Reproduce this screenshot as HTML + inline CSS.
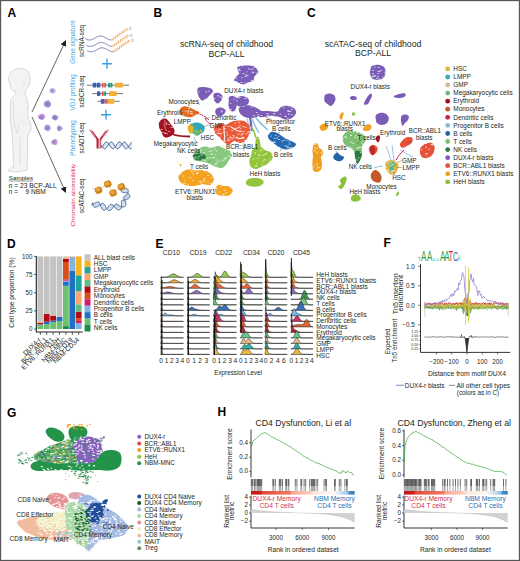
<!DOCTYPE html>
<html><head><meta charset="utf-8"><style>
html,body{margin:0;padding:0;background:#fff;}
svg{display:block;font-family:"Liberation Sans", sans-serif;}
</style></head><body>
<svg width="520" height="561" viewBox="0 0 520 561">
<rect x="0" y="0" width="520" height="561" fill="#fff"/>
<text x="7.5" y="16.5" font-size="12" text-anchor="start" fill="#000" font-weight="bold">A</text>
<path d="M20,68.5 C26.5,68.5 30.2,72.5 30.2,79 C30.2,84 28.5,88 25.5,90.5 L25.2,95.5 C27.5,97.5 28.3,102 28,108 C27.8,113 27.6,117 28.2,119 C31,121 31.8,127 30.5,131 C29.5,134 28,135.5 27.6,137 C27.8,146 27.6,156 27.2,165 L27.4,169.5 C24,172 13,172.3 8.6,171.2 C8.4,169.5 10.5,168 13.5,166.5 C13,157 12.8,146 12.6,137 C11.6,131 11,126 10.6,121 C10.2,114 10,106 10.6,101 C11.5,98 14,96 15.5,94 L15.8,91.8 C13,91.5 11.5,90 11,88 L10.2,86.5 L10.8,85 L9.5,84.2 L10.2,83 L8.6,81 C8.5,78 9,75 10.5,73 C12.5,70 16,68.5 20,68.5 Z" fill="#f3f3f3" stroke="#bdbdbd" stroke-width="0.55"/>
<path d="M13.5,101 C13,108 13.3,116 14.5,124 C15,128 16,131 17.5,133 M17.5,133 C18,131 18.5,128 18.3,124 M20,137.5 L20,165 M22.5,82 C24,81 25,83 24,85.5 C23.5,86.5 22.5,86 22.5,85 M19.5,119 C22,122 25,124 28.5,124" fill="none" stroke="#cacaca" stroke-width="0.45"/>
<defs><marker id="ah" markerWidth="6" markerHeight="6" refX="5" refY="3" orient="auto" markerUnits="userSpaceOnUse"><path d="M0,0 L6,3 L0,6 Z" fill="#231f20"/></marker></defs>
<path d="M32,112 L65.5,41" stroke="#231f20" stroke-width="0.7" marker-end="url(#ah)"/>
<path d="M32,117 L65.5,192" stroke="#231f20" stroke-width="0.7" marker-end="url(#ah)"/>
<path d="M55.74,90.60 C55.78,91.24 55.51,92.18 55.06,92.64 C54.61,93.11 53.71,93.29 53.02,93.39 C52.32,93.49 51.47,93.54 50.89,93.25 C50.31,92.95 49.77,92.22 49.56,91.62 C49.35,91.01 49.35,90.15 49.61,89.60 C49.88,89.06 50.57,88.62 51.13,88.34 C51.69,88.07 52.39,87.87 52.99,87.94 C53.60,88.02 54.31,88.35 54.77,88.79 C55.22,89.24 55.69,89.96 55.74,90.60Z" fill="#c4b8e4" fill-opacity="1.0"/>
<circle cx="52.2" cy="90.8" r="1.65" fill="#7e6cc0" fill-opacity="0.55"/>
<path d="M51.20,104.00 C51.24,104.72 50.90,105.62 50.42,106.25 C49.93,106.87 49.07,107.61 48.29,107.74 C47.52,107.87 46.49,107.44 45.76,107.03 C45.03,106.62 44.24,105.99 43.93,105.27 C43.63,104.55 43.62,103.45 43.91,102.72 C44.21,102.00 44.98,101.29 45.71,100.89 C46.44,100.50 47.53,100.18 48.28,100.36 C49.02,100.53 49.70,101.33 50.18,101.94 C50.67,102.55 51.16,103.28 51.20,104.00Z" fill="#a597d8" fill-opacity="1.0"/>
<circle cx="47.300000000000004" cy="104.2" r="1.98" fill="#7e6cc0" fill-opacity="0.55"/>
<path d="M45.12,117.00 C45.05,117.71 44.46,118.45 43.95,118.95 C43.44,119.45 42.73,119.90 42.06,120.01 C41.39,120.12 40.55,119.92 39.92,119.61 C39.28,119.29 38.56,118.75 38.26,118.12 C37.96,117.49 37.82,116.43 38.10,115.83 C38.39,115.22 39.31,114.84 39.98,114.50 C40.64,114.16 41.36,113.75 42.10,113.78 C42.83,113.82 43.89,114.16 44.39,114.69 C44.90,115.23 45.20,116.29 45.12,117.00Z" fill="#c09ad8" fill-opacity="1.0"/>
<circle cx="41.2" cy="117.2" r="1.87" fill="#7e6cc0" fill-opacity="0.55"/>
<path d="M58.24,117.50 C58.28,118.08 57.73,118.83 57.28,119.32 C56.83,119.81 56.15,120.38 55.55,120.45 C54.94,120.51 54.27,120.01 53.67,119.70 C53.07,119.38 52.19,119.08 51.95,118.56 C51.71,118.03 51.98,117.14 52.23,116.54 C52.48,115.94 52.92,115.23 53.46,114.96 C54.00,114.70 54.87,114.81 55.47,114.95 C56.08,115.10 56.62,115.41 57.09,115.84 C57.55,116.26 58.21,116.92 58.24,117.50Z" fill="#9b8fd2" fill-opacity="1.0"/>
<circle cx="54.7" cy="117.7" r="1.65" fill="#7e6cc0" fill-opacity="0.55"/>
<path d="M50.80,127.80 C50.83,128.44 50.54,129.24 50.11,129.80 C49.68,130.35 48.91,131.01 48.22,131.13 C47.53,131.24 46.61,130.86 45.96,130.49 C45.32,130.13 44.62,129.56 44.34,128.93 C44.07,128.29 44.06,127.31 44.32,126.67 C44.58,126.02 45.27,125.39 45.92,125.04 C46.57,124.69 47.54,124.41 48.20,124.56 C48.86,124.72 49.46,125.43 49.90,125.97 C50.33,126.51 50.76,127.16 50.80,127.80Z" fill="#ab9fdc" fill-opacity="1.0"/>
<circle cx="47.300000000000004" cy="128.0" r="1.76" fill="#7e6cc0" fill-opacity="0.55"/>
<path d="M62.86,128.30 C62.88,128.87 62.19,129.58 61.72,130.07 C61.25,130.55 60.67,131.06 60.04,131.20 C59.41,131.34 58.42,131.25 57.92,130.91 C57.41,130.56 57.19,129.75 57.01,129.16 C56.84,128.57 56.70,127.94 56.87,127.39 C57.03,126.84 57.48,126.15 58.01,125.84 C58.53,125.54 59.41,125.42 60.01,125.55 C60.61,125.69 61.12,126.17 61.60,126.63 C62.07,127.09 62.84,127.73 62.86,128.30Z" fill="#b3a8de" fill-opacity="1.0"/>
<circle cx="59.2" cy="128.5" r="1.65" fill="#7e6cc0" fill-opacity="0.55"/>
<path d="M57.48,141.80 C57.50,142.50 57.58,143.39 57.18,143.94 C56.79,144.48 55.83,144.97 55.11,145.07 C54.38,145.17 53.51,144.87 52.85,144.52 C52.18,144.17 51.33,143.58 51.13,142.96 C50.94,142.35 51.37,141.42 51.69,140.83 C52.01,140.24 52.50,139.75 53.06,139.43 C53.62,139.11 54.37,138.86 55.04,138.91 C55.70,138.96 56.66,139.27 57.07,139.75 C57.48,140.23 57.46,141.10 57.48,141.80Z" fill="#c4a2d8" fill-opacity="1.0"/>
<circle cx="54.2" cy="142.0" r="1.76" fill="#7e6cc0" fill-opacity="0.55"/>
<text x="8.8" y="179.8" font-size="6.25" text-anchor="start" fill="#231f20">Samples</text>
<line x1="8.8" y1="181" x2="32.8" y2="181" stroke="#231f20" stroke-width="0.45"/>
<text x="8.8" y="187.5" font-size="6.6" text-anchor="start" fill="#231f20">n = 23 BCP-ALL</text>
<text x="8.8" y="193.7" font-size="6.6" text-anchor="start" fill="#231f20" xml:space="preserve">n =    9 NBM</text>
<text x="75.3" y="42" font-size="6.4" text-anchor="middle" fill="#3aa8e0" transform="rotate(-90 75.3 42)">Gene signature</text>
<text x="84" y="41" font-size="6.3" text-anchor="middle" fill="#231f20" transform="rotate(-90 84 41)">scRNA-seq</text>
<text x="75.3" y="92.3" font-size="6.4" text-anchor="middle" fill="#3aa8e0" transform="rotate(-90 75.3 92.3)">VDJ profiling</text>
<text x="84" y="91.5" font-size="6.3" text-anchor="middle" fill="#231f20" transform="rotate(-90 84 91.5)">scBCR-seq</text>
<text x="75.3" y="138" font-size="6.4" text-anchor="middle" fill="#3aa8e0" transform="rotate(-90 75.3 138)">Phenotyping</text>
<text x="84" y="138" font-size="6.3" text-anchor="middle" fill="#231f20" transform="rotate(-90 84 138)">scADT-seq</text>
<text x="75.3" y="195.2" font-size="6.15" text-anchor="middle" fill="#e02a55" transform="rotate(-90 75.3 195.2)">Chromatin accessibility</text>
<text x="84" y="195.8" font-size="6.3" text-anchor="middle" fill="#231f20" transform="rotate(-90 84 195.8)">scATAC-seq</text>
<polyline points="85.4,38.8 85.9,39.0 86.4,39.3 86.9,39.5 87.4,39.7 87.9,39.8 88.4,39.9 88.9,40.0 89.4,40.0 89.9,40.0 90.4,39.9 90.9,39.8 91.4,39.7 91.9,39.5 92.4,39.4 92.9,39.1 93.4,38.9 93.9,38.6 94.4,38.3 94.9,38.1 95.4,37.8 95.9,37.5 96.4,37.2 96.9,37.0 97.4,36.7 97.9,36.5 98.4,36.3 98.9,36.2 99.4,36.1 99.9,36.0 100.4,36.0 100.9,36.0 101.4,36.1 101.9,36.2 102.4,36.3 102.9,36.5 103.4,36.6 103.9,36.9 104.4,37.1 104.9,37.4 105.4,37.7 105.9,37.9 106.4,38.2 106.9,38.5 107.4,38.8 107.9,39.0 108.4,39.3 108.9,39.5 109.4,39.7 109.9,39.8 110.4,39.9 110.9,40.0 111.4,40.0" fill="none" stroke="#6a64a6" stroke-width="0.85"/>
<polyline points="110.9,39.1 113.2,40.1 113.0,37.6 115.4,38.6 115.2,36.1 117.5,37.1 117.3,34.5 119.7,35.6 119.5,33.0 121.9,34.1 121.7,31.5 124.0,32.5 123.8,30.0 126.2,31.0 126.0,28.5 128.3,29.5" fill="none" stroke="#f0a050" stroke-width="0.75"/>
<text x="129.2" y="30.1" font-size="3.6" text-anchor="start" fill="#666">5'</text>
<polyline points="86.2,45.2 86.7,45.4 87.2,45.7 87.7,45.9 88.2,46.1 88.7,46.2 89.2,46.3 89.7,46.4 90.2,46.4 90.7,46.4 91.2,46.3 91.7,46.2 92.2,46.1 92.7,45.9 93.2,45.8 93.7,45.5 94.2,45.3 94.7,45.0 95.2,44.7 95.7,44.5 96.2,44.2 96.7,43.9 97.2,43.6 97.7,43.4 98.2,43.1 98.7,42.9 99.2,42.7 99.7,42.6 100.2,42.5 100.7,42.4 101.2,42.4 101.7,42.4 102.2,42.5 102.7,42.6 103.2,42.7 103.7,42.9 104.2,43.0 104.7,43.3 105.2,43.5 105.7,43.8 106.2,44.1 106.7,44.3 107.2,44.6 107.7,44.9 108.2,45.2 108.7,45.4 109.2,45.7 109.7,45.9 110.2,46.1 110.7,46.2 111.2,46.3 111.7,46.4 112.2,46.4" fill="none" stroke="#6a64a6" stroke-width="0.85"/>
<polyline points="111.9,45.5 114.2,46.5 114.0,44.0 116.4,45.0 116.2,42.5 118.5,43.5 118.3,40.9 120.7,42.0 120.5,39.4 122.9,40.5 122.7,37.9 125.0,38.9 124.8,36.4 127.2,37.4 127.0,34.9 129.3,35.9" fill="none" stroke="#f0a050" stroke-width="0.75"/>
<text x="130.2" y="36.5" font-size="3.6" text-anchor="start" fill="#666">5'</text>
<polyline points="87.0,50.6 87.5,50.8 88.0,51.1 88.5,51.3 89.0,51.5 89.5,51.6 90.0,51.7 90.5,51.8 91.0,51.8 91.5,51.8 92.0,51.7 92.5,51.6 93.0,51.5 93.5,51.3 94.0,51.2 94.5,50.9 95.0,50.7 95.5,50.4 96.0,50.1 96.5,49.9 97.0,49.6 97.5,49.3 98.0,49.0 98.5,48.8 99.0,48.5 99.5,48.3 100.0,48.1 100.5,48.0 101.0,47.9 101.5,47.8 102.0,47.8 102.5,47.8 103.0,47.9 103.5,48.0 104.0,48.1 104.5,48.3 105.0,48.4 105.5,48.7 106.0,48.9 106.5,49.2 107.0,49.5 107.5,49.7 108.0,50.0 108.5,50.3 109.0,50.6 109.5,50.8 110.0,51.1 110.5,51.3 111.0,51.5 111.5,51.6 112.0,51.7 112.5,51.8 113.0,51.8 113.5,51.8" fill="none" stroke="#6a64a6" stroke-width="0.85"/>
<polyline points="112.9,50.9 115.2,51.9 115.0,49.4 117.4,50.4 117.2,47.9 119.5,48.9 119.3,46.3 121.7,47.4 121.5,44.8 123.9,45.9 123.7,43.3 126.0,44.3 125.8,41.8 128.2,42.8 128.0,40.3 130.3,41.3" fill="none" stroke="#f0a050" stroke-width="0.75"/>
<text x="131.2" y="41.9" font-size="3.6" text-anchor="start" fill="#666">5'</text>
<path d="M102,63.7 H112 M107,58.7 V68.7" stroke="#3aa3dd" stroke-width="1.4"/>
<path d="M101,114.7 H111 M106,109.7 V119.7" stroke="#3aa3dd" stroke-width="1.4"/>
<line x1="86.9" y1="85.2" x2="129.2" y2="85.2" stroke="#555" stroke-width="0.8"/>
<rect x="92.7" y="82.8" width="3.6" height="4.8" rx="0.7" fill="#3a5fb0"/>
<rect x="96.8" y="82.8" width="3.5" height="4.8" rx="0.7" fill="#3a5fb0"/>
<rect x="101.8" y="82.8" width="1.8" height="4.8" rx="0.7" fill="#d9534f"/>
<rect x="104.2" y="82.8" width="1.9" height="4.8" rx="0.7" fill="#d9534f"/>
<rect x="108" y="82.8" width="2.0" height="4.8" rx="0.7" fill="#1a9e80"/>
<rect x="110.4" y="82.8" width="2.0" height="4.8" rx="0.7" fill="#1a9e80"/>
<rect x="114.8" y="82.8" width="8.1" height="4.8" rx="0.7" fill="#f2b035"/>
<line x1="92.2" y1="93.6" x2="123" y2="93.6" stroke="#555" stroke-width="0.8"/>
<rect x="97" y="91.19999999999999" width="3.3" height="4.8" rx="0.7" fill="#3a5fb0"/>
<rect x="101.8" y="91.19999999999999" width="1.9" height="4.8" rx="0.7" fill="#d9534f"/>
<rect x="104.2" y="91.19999999999999" width="1.9" height="4.8" rx="0.7" fill="#1a9e80"/>
<rect x="109" y="91.19999999999999" width="7.7" height="4.8" rx="0.7" fill="#f2b035"/>
<line x1="97.5" y1="101.3" x2="119.6" y2="101.3" stroke="#555" stroke-width="0.8"/>
<rect x="100.8" y="98.89999999999999" width="3.9" height="4.8" rx="0.7" fill="#5a5aa8"/>
<rect x="104.7" y="98.89999999999999" width="3.2" height="4.8" rx="0.7" fill="#d96a7a"/>
<rect x="108" y="98.89999999999999" width="6.3" height="4.8" rx="0.7" fill="#f2b035"/>
<g fill="none" stroke-linecap="butt"><path d="M97.6,139 L97.6,148.5" stroke="#b3263b" stroke-width="2.2"/><path d="M100.4,139 L100.4,148.5" stroke="#d9607a" stroke-width="1.8"/><path d="M97.8,139.5 L91.5,131" stroke="#b3263b" stroke-width="1.9"/><path d="M95,136.8 L89.6,129.6" stroke="#e07a8c" stroke-width="1.5"/><path d="M100.2,139.5 L106.5,131" stroke="#b3263b" stroke-width="1.9"/><path d="M103,136.8 L108.4,129.6" stroke="#e07a8c" stroke-width="1.5"/></g>
<polyline points="101.5,145.4 101.9,146.1 102.3,146.7 102.7,147.3 103.1,147.8 103.5,148.2 103.9,148.5 104.3,148.7 104.7,148.8 105.1,148.8 105.5,148.6 105.9,148.3 106.3,147.9 106.7,147.4 107.1,146.8 107.5,146.2 107.9,145.6 108.3,144.9 108.7,144.3 109.1,143.7 109.5,143.1 109.9,142.7 110.3,142.4 110.7,142.1 111.1,142.0 111.5,142.0 111.9,142.2 112.3,142.4 112.7,142.8 113.1,143.3 113.5,143.8 113.9,144.4 114.3,145.1 114.7,145.7 115.1,146.4 115.5,147.0 115.9,147.5 116.3,148.0 116.7,148.4 117.1,148.6 117.5,148.8 117.9,148.8 118.3,148.7 118.7,148.4 119.1,148.1 119.5,147.7 119.9,147.1 120.3,146.5 120.7,145.9 121.1,145.2 121.5,144.6 121.9,144.0 122.3,143.4 122.7,142.9 123.1,142.5 123.5,142.2 123.9,142.0 124.3,142.0 124.7,142.1 125.1,142.3 125.5,142.6 125.9,143.0 126.3,143.5 126.7,144.1 127.1,144.7 127.5,145.4 127.9,146.1 128.3,146.7 128.7,147.3 129.1,147.8 129.5,148.2 129.9,148.5 130.3,148.7 130.7,148.8 131.1,148.8 131.5,148.6" fill="none" stroke="#3a6299" stroke-width="1.0"/>
<polyline points="101.5,147.9 101.9,147.5 102.3,146.9 102.7,146.3 103.1,145.6 103.5,145.0 103.9,144.3 104.3,143.7 104.7,143.2 105.1,142.7 105.5,142.4 105.9,142.1 106.3,142.0 106.7,142.0 107.1,142.1 107.5,142.4 107.9,142.8 108.3,143.2 108.7,143.8 109.1,144.4 109.5,145.0 109.9,145.7 110.3,146.3 110.7,146.9 111.1,147.5 111.5,148.0 111.9,148.3 112.3,148.6 112.7,148.8 113.1,148.8 113.5,148.7 113.9,148.5 114.3,148.1 114.7,147.7 115.1,147.2 115.5,146.6 115.9,146.0 116.3,145.3 116.7,144.7 117.1,144.0 117.5,143.5 117.9,143.0 118.3,142.5 118.7,142.2 119.1,142.1 119.5,142.0 119.9,142.1 120.3,142.3 120.7,142.6 121.1,143.0 121.5,143.5 121.9,144.1 122.3,144.7 122.7,145.3 123.1,146.0 123.5,146.6 123.9,147.2 124.3,147.7 124.7,148.2 125.1,148.5 125.5,148.7 125.9,148.8 126.3,148.8 126.7,148.6 127.1,148.3 127.5,147.9 127.9,147.5 128.3,146.9 128.7,146.3 129.1,145.6 129.5,145.0 129.9,144.3 130.3,143.7 130.7,143.2 131.1,142.7 131.5,142.4" fill="none" stroke="#3a6299" stroke-width="1.0"/>
<path d="M101.5,145.4L101.5,147.9M102.7,147.3L102.7,146.3M103.9,148.5L103.9,144.3M105.1,148.8L105.1,142.7M106.3,147.9L106.3,142.0M107.5,146.2L107.5,142.4M108.7,144.3L108.7,143.8M109.9,142.7L109.9,145.7M111.1,142.0L111.1,147.5M112.3,142.4L112.3,148.6M113.5,143.8L113.5,148.7M114.7,145.7L114.7,147.7M115.9,147.5L115.9,146.0M117.1,148.6L117.1,144.0M118.3,148.7L118.3,142.5M119.5,147.7L119.5,142.0M120.7,145.9L120.7,142.6M121.9,144.0L121.9,144.1M123.1,142.5L123.1,146.0M124.3,142.0L124.3,147.7M125.5,142.6L125.5,148.7M126.7,144.1L126.7,148.6M127.9,146.1L127.9,147.5M129.1,147.8L129.1,145.6M130.3,148.7L130.3,143.7M131.5,148.6L131.5,142.4" stroke="#3a6299" stroke-width="0.35" opacity="0.6"/>
<path d="M92,188 L98,190 L107.8,184 L113,193 L121.4,186.8" stroke="#d0a070" stroke-width="0.5" fill="none"/>
<polyline points="92.5,202.5 92.6,202.9 92.6,203.3 92.7,203.8 92.8,204.3 92.9,204.9 93.0,205.4 93.2,205.9 93.5,206.3 93.8,206.7 94.2,207.0 94.6,207.2 95.2,207.2 95.8,207.2 96.4,207.0 97.1,206.7 97.8,206.3 98.5,205.9 99.2,205.4 99.9,205.0 100.4,204.5 101.0,204.1 101.5,203.8 102.0,203.5 102.5,203.4 103.0,203.4 103.4,203.6 103.9,203.9 104.3,204.4 104.7,205.0 105.1,205.7 105.5,206.5 105.9,207.3 106.4,208.1 106.8,208.8 107.3,209.5 107.8,210.0 108.3,210.4 108.9,210.6 109.4,210.7 109.9,210.6 110.4,210.4 110.9,210.0 111.4,209.6 111.9,209.0 112.4,208.4 112.9,207.7 113.3,207.0 113.7,206.4 114.2,205.8 114.5,205.2 114.9,204.8 115.3,204.4 115.6,204.2 115.9,204.1 116.3,204.0 116.7,204.1 117.1,204.3 117.5,204.6 118.0,204.9 118.5,205.2 119.0,205.6 119.7,205.9 120.4,206.3 121.1,206.6 121.8,206.8 122.5,207.0 123.2,207.0 123.8,207.0 124.3,206.8 124.8,206.6 125.2,206.2 125.5,205.7 125.7,205.2 125.8,204.5 125.8,203.9 125.7,203.2 125.6,202.5 125.4,201.9 125.2,201.2 124.9,200.7 124.6,200.1 124.4,199.7 124.1,199.2 123.8,198.8 123.6,198.5 123.5,198.2 123.4,197.9 123.4,197.6 123.4,197.4 123.6,197.1 123.8,196.9 124.0,196.6 124.4,196.3 124.8,196.1 125.2,195.7 125.6,195.4 126.1,195.0 126.5,194.7 126.9,194.3 127.3,193.8 127.6,193.3 127.9,192.8 128.1,192.2 128.2,191.6 128.2,191.1 128.2,190.5 128.1,190.0 127.9,189.6 127.6,189.3 127.3,189.0 126.9,188.7 126.4,188.6 126.0,188.5 125.5,188.4 125.0,188.4 124.5,188.4 124.1,188.5 123.7,188.5 123.3,188.5 123.0,188.5" fill="none" stroke="#3a6299" stroke-width="0.9"/>
<polyline points="91.5,204.6 91.7,204.5 92.1,204.4 92.5,204.2 92.9,204.0 93.5,203.7 94.1,203.5 94.7,203.2 95.3,202.8 96.0,202.5 96.6,202.3 97.2,202.1 97.7,202.0 98.2,202.0 98.7,202.1 99.0,202.3 99.3,202.7 99.6,203.1 99.8,203.7 100.1,204.3 100.3,205.0 100.6,205.7 100.8,206.5 101.2,207.2 101.5,208.0 101.9,208.7 102.3,209.2 102.8,209.7 103.3,210.0 103.9,210.1 104.5,210.1 105.1,209.8 105.7,209.5 106.3,209.0 106.9,208.4 107.5,207.7 108.1,207.0 108.6,206.4 109.1,205.8 109.6,205.3 110.1,204.8 110.5,204.5 111.0,204.4 111.5,204.3 111.9,204.4 112.4,204.7 112.8,205.0 113.3,205.5 113.7,206.0 114.2,206.6 114.7,207.2 115.2,207.8 115.8,208.3 116.3,208.9 116.9,209.3 117.5,209.6 118.1,209.8 118.6,209.9 119.2,209.8 119.7,209.6 120.2,209.3 120.6,208.9 120.9,208.4 121.2,207.8 121.4,207.1 121.5,206.3 121.5,205.6 121.5,204.8 121.5,204.0 121.5,203.3 121.5,202.6 121.4,202.0 121.5,201.5 121.6,201.1 121.7,200.7 121.9,200.5 122.2,200.3 122.6,200.2 123.0,200.1 123.4,200.1 123.9,200.0 124.4,200.0 125.0,199.9 125.6,199.8 126.2,199.7 126.8,199.5 127.4,199.2 128.0,198.9 128.5,198.6 128.9,198.2 129.3,197.8 129.6,197.4 129.8,196.9 129.9,196.5 129.9,196.0 129.8,195.6 129.6,195.1 129.4,194.7 129.1,194.3 128.7,194.0 128.2,193.6 127.8,193.3 127.2,193.0 126.6,192.9 126.0,192.7 125.4,192.7 124.8,192.6 124.2,192.6 123.6,192.6 123.1,192.5 122.6,192.4 122.3,192.3 121.9,192.2 121.7,192.0 121.5,191.7 121.3,191.4 121.2,191.1 121.1,190.8 121.1,190.5 121.0,190.1 121.0,189.8" fill="none" stroke="#3a6299" stroke-width="0.9"/>
<path d="M92.5,202.5L91.5,204.6M92.6,203.3L92.1,204.4M92.8,204.3L92.9,204.0M93.0,205.4L94.1,203.5M93.5,206.3L95.3,202.8M94.2,207.0L96.6,202.3M95.2,207.2L97.7,202.0M96.4,207.0L98.7,202.1M97.8,206.3L99.3,202.7M99.2,205.4L99.8,203.7M100.4,204.5L100.3,205.0M101.5,203.8L100.8,206.5M102.5,203.4L101.5,208.0M103.4,203.6L102.3,209.2M104.3,204.4L103.3,210.0M105.1,205.7L104.5,210.1M105.9,207.3L105.7,209.5M106.8,208.8L106.9,208.4M107.8,210.0L108.1,207.0M108.9,210.6L109.1,205.8M109.9,210.6L110.1,204.8M110.9,210.0L111.0,204.4M111.9,209.0L111.9,204.4M112.9,207.7L112.8,205.0M113.7,206.4L113.7,206.0M114.5,205.2L114.7,207.2M115.3,204.4L115.8,208.3M115.9,204.1L116.9,209.3M116.7,204.1L118.1,209.8M117.5,204.6L119.2,209.8M118.5,205.2L120.2,209.3M119.7,205.9L120.9,208.4M121.1,206.6L121.4,207.1M122.5,207.0L121.5,205.6M123.8,207.0L121.5,204.0M124.8,206.6L121.5,202.6M125.5,205.7L121.5,201.5M125.8,204.5L121.7,200.7M125.7,203.2L122.2,200.3M125.4,201.9L123.0,200.1M124.9,200.7L123.9,200.0M124.4,199.7L125.0,199.9M123.8,198.8L126.2,199.7M123.5,198.2L127.4,199.2M123.4,197.6L128.5,198.6M123.6,197.1L129.3,197.8M124.0,196.6L129.8,196.9M124.8,196.1L129.9,196.0M125.6,195.4L129.6,195.1M126.5,194.7L129.1,194.3M127.3,193.8L128.2,193.6M127.9,192.8L127.2,193.0M128.2,191.6L126.0,192.7M128.2,190.5L124.8,192.6M127.9,189.6L123.6,192.6M127.3,189.0L122.6,192.4M126.4,188.6L121.9,192.2M125.5,188.4L121.5,191.7M124.5,188.4L121.2,191.1M123.7,188.5L121.1,190.5M123.0,188.5L121.0,189.8" stroke="#3a6299" stroke-width="0.35" opacity="0.7"/>
<rect x="94.9" y="186.89999999999998" width="7.2" height="6.6" rx="2.6" fill="#c98215" transform="rotate(-20 98.5 190.2)"/><ellipse cx="97.9" cy="189.6" rx="2.4" ry="2.0" fill="#e8a640"/>
<rect x="104.2" y="180.7" width="7.2" height="6.6" rx="2.6" fill="#c98215" transform="rotate(-20 107.8 184)"/><ellipse cx="107.2" cy="183.4" rx="2.4" ry="2.0" fill="#e8a640"/>
<rect x="109.4" y="189.7" width="7.2" height="6.6" rx="2.6" fill="#c98215" transform="rotate(-20 113 193)"/><ellipse cx="112.4" cy="192.4" rx="2.4" ry="2.0" fill="#e8a640"/>
<rect x="117.80000000000001" y="183.5" width="7.2" height="6.6" rx="2.6" fill="#c98215" transform="rotate(-20 121.4 186.8)"/><ellipse cx="120.80000000000001" cy="186.20000000000002" rx="2.4" ry="2.0" fill="#e8a640"/>
<text x="153.5" y="17" font-size="12" text-anchor="start" fill="#000" font-weight="bold">B</text>
<text x="226.5" y="47" font-size="8.7" text-anchor="middle" fill="#231f20">scRNA-seq of childhood</text>
<text x="226.5" y="56.5" font-size="8.7" text-anchor="middle" fill="#231f20">BCP-ALL</text>
<g fill="#e06a6a"><circle cx="185.7" cy="158.6" r="0.35"/><circle cx="236.1" cy="114.1" r="0.35"/><circle cx="214.6" cy="128.7" r="0.35"/><circle cx="227.1" cy="154.2" r="0.35"/><circle cx="182.5" cy="97.1" r="0.35"/><circle cx="241.9" cy="127.5" r="0.35"/><circle cx="236.0" cy="95.2" r="0.35"/><circle cx="210.6" cy="149.1" r="0.35"/><circle cx="193.3" cy="165.9" r="0.35"/><circle cx="247.1" cy="97.3" r="0.35"/><circle cx="177.0" cy="135.6" r="0.35"/><circle cx="250.1" cy="123.6" r="0.35"/><circle cx="192.3" cy="126.7" r="0.35"/><circle cx="177.3" cy="111.6" r="0.35"/><circle cx="210.0" cy="132.2" r="0.35"/><circle cx="193.6" cy="112.3" r="0.35"/><circle cx="192.5" cy="129.5" r="0.35"/><circle cx="198.2" cy="96.6" r="0.35"/><circle cx="242.0" cy="136.7" r="0.35"/><circle cx="226.4" cy="108.9" r="0.35"/><circle cx="254.4" cy="159.5" r="0.35"/><circle cx="184.7" cy="120.0" r="0.35"/><circle cx="232.7" cy="148.3" r="0.35"/><circle cx="249.9" cy="126.7" r="0.35"/><circle cx="241.4" cy="145.3" r="0.35"/></g>
<g fill="#f5a21e"><circle cx="237.1" cy="197.9" r="0.35"/><circle cx="178.7" cy="163.4" r="0.35"/><circle cx="229.3" cy="189.4" r="0.35"/><circle cx="218.5" cy="172.3" r="0.35"/><circle cx="214.4" cy="184.3" r="0.35"/><circle cx="212.8" cy="166.3" r="0.35"/><circle cx="203.0" cy="175.7" r="0.35"/><circle cx="222.0" cy="199.8" r="0.35"/><circle cx="236.7" cy="181.8" r="0.35"/><circle cx="203.9" cy="170.7" r="0.35"/><circle cx="177.3" cy="161.1" r="0.35"/><circle cx="205.2" cy="172.7" r="0.35"/><circle cx="199.7" cy="195.7" r="0.35"/><circle cx="209.2" cy="182.4" r="0.35"/><circle cx="190.3" cy="161.0" r="0.35"/></g>
<path d="M238.00,66.50 C239.40,65.85 243.43,65.67 246.00,65.60 C248.57,65.53 251.33,65.20 253.40,66.10 C255.47,67.00 257.88,69.60 258.40,71.00 C258.92,72.40 257.23,73.47 256.50,74.50 C255.77,75.53 254.42,76.23 254.00,77.20 C253.58,78.17 255.00,79.40 254.00,80.30 C253.00,81.20 249.77,81.90 248.00,82.60 C246.23,83.30 245.07,84.50 243.40,84.50 C241.73,84.50 239.53,83.30 238.00,82.60 C236.47,81.90 234.58,81.20 234.20,80.30 C233.82,79.40 234.93,78.35 235.70,77.20 C236.47,76.05 238.48,74.68 238.80,73.40 C239.12,72.12 237.73,70.65 237.60,69.50 C237.47,68.35 236.60,67.15 238.00,66.50Z" fill="#7b5db8" fill-opacity="1.0"/>
<path d="M198.00,88.00 C199.08,87.08 201.83,86.92 204.00,87.00 C206.17,87.08 209.50,87.75 211.00,88.50 C212.50,89.25 213.17,90.42 213.00,91.50 C212.83,92.58 211.17,93.75 210.00,95.00 C208.83,96.25 207.33,98.08 206.00,99.00 C204.67,99.92 203.17,100.83 202.00,100.50 C200.83,100.17 199.75,98.33 199.00,97.00 C198.25,95.67 197.67,94.00 197.50,92.50 C197.33,91.00 196.92,88.92 198.00,88.00Z" fill="#7b5db8" fill-opacity="1.0"/>
<path d="M214.00,93.50 C214.92,92.83 217.58,92.58 219.00,93.00 C220.42,93.42 222.08,94.83 222.50,96.00 C222.92,97.17 222.25,98.75 221.50,100.00 C220.75,101.25 219.17,103.33 218.00,103.50 C216.83,103.67 215.25,102.08 214.50,101.00 C213.75,99.92 213.58,98.25 213.50,97.00 C213.42,95.75 213.08,94.17 214.00,93.50Z" fill="#7b5db8" fill-opacity="1.0"/>
<path d="M216.00,109.00 C216.92,108.00 219.42,107.33 221.00,107.50 C222.58,107.67 225.00,108.92 225.50,110.00 C226.00,111.08 225.08,112.92 224.00,114.00 C222.92,115.08 220.42,116.58 219.00,116.50 C217.58,116.42 216.00,114.75 215.50,113.50 C215.00,112.25 215.08,110.00 216.00,109.00Z" fill="#7b5db8" fill-opacity="1.0"/>
<path d="M229.00,97.00 C229.70,96.17 231.58,95.67 233.00,96.00 C234.42,96.33 236.83,97.67 237.50,99.00 C238.17,100.33 237.42,102.08 237.00,104.00 C236.58,105.92 236.00,109.33 235.00,110.50 C234.00,111.67 232.08,111.75 231.00,111.00 C229.92,110.25 228.87,107.67 228.50,106.00 C228.13,104.33 228.72,102.50 228.80,101.00 C228.88,99.50 228.30,97.83 229.00,97.00Z" fill="#7b5db8" fill-opacity="1.0"/>
<path d="M236.00,98.00 C237.08,97.00 239.92,95.83 242.00,96.00 C244.08,96.17 247.50,97.67 248.50,99.00 C249.50,100.33 248.92,102.75 248.00,104.00 C247.08,105.25 244.67,106.17 243.00,106.50 C241.33,106.83 239.25,106.75 238.00,106.00 C236.75,105.25 235.83,103.33 235.50,102.00 C235.17,100.67 234.92,99.00 236.00,98.00Z" fill="#7b5db8" fill-opacity="1.0"/>
<path d="M239.00,108.00 C239.92,106.58 243.83,105.83 246.00,105.50 C248.17,105.17 250.08,105.50 252.00,106.00 C253.92,106.50 255.83,107.50 257.50,108.50 C259.17,109.50 261.92,110.67 262.00,112.00 C262.08,113.33 259.67,115.50 258.00,116.50 C256.33,117.50 254.00,117.83 252.00,118.00 C250.00,118.17 247.92,118.17 246.00,117.50 C244.08,116.83 241.67,115.58 240.50,114.00 C239.33,112.42 238.08,109.42 239.00,108.00Z" fill="#7b5db8" fill-opacity="1.0"/>
<path d="M257.00,111.50 C258.00,110.50 262.67,111.00 266.00,111.00 C269.33,111.00 274.50,112.17 277.00,111.50 C279.50,110.83 279.17,107.95 281.00,107.00 C282.83,106.05 285.83,105.63 288.00,105.80 C290.17,105.97 292.67,106.80 294.00,108.00 C295.33,109.20 296.33,111.33 296.00,113.00 C295.67,114.67 293.83,116.92 292.00,118.00 C290.17,119.08 287.17,119.67 285.00,119.50 C282.83,119.33 281.50,117.58 279.00,117.00 C276.50,116.42 273.17,116.00 270.00,116.00 C266.83,116.00 262.17,117.75 260.00,117.00 C257.83,116.25 256.00,112.50 257.00,111.50Z" fill="#7b5db8" fill-opacity="1.0"/>
<path d="M250,117 C251,122 251,126 252,131" stroke="#7b5db8" stroke-width="2.2" fill="none"/>
<path d="M247,119 C249,124 250,128 250,134 M252,119 C254,124 256,128 259,133 M256,118 C259,122 263,126 268,130 M244,126 C247,127 249,128 252,127" stroke="#86bde0" stroke-width="1.4" fill="none"/>
<path d="M268.00,135.00 C268.50,133.80 270.33,132.05 272.00,131.80 C273.67,131.55 276.00,132.55 278.00,133.50 C280.00,134.45 282.00,136.33 284.00,137.50 C286.00,138.67 288.00,139.42 290.00,140.50 C292.00,141.58 295.50,142.83 296.00,144.00 C296.50,145.17 294.67,146.58 293.00,147.50 C291.33,148.42 288.00,149.42 286.00,149.50 C284.00,149.58 282.50,148.58 281.00,148.00 C279.50,147.42 278.33,146.92 277.00,146.00 C275.67,145.08 274.33,143.67 273.00,142.50 C271.67,141.33 269.83,140.25 269.00,139.00 C268.17,137.75 267.50,136.20 268.00,135.00Z" fill="#2468b0" fill-opacity="1.0"/>
<path d="M252.00,151.00 C252.67,149.33 254.33,148.17 255.00,146.00 C255.67,143.83 255.33,139.42 256.00,138.00 C256.67,136.58 258.17,136.17 259.00,137.50 C259.83,138.83 260.00,143.92 261.00,146.00 C262.00,148.08 263.33,148.92 265.00,150.00 C266.67,151.08 269.75,151.17 271.00,152.50 C272.25,153.83 273.00,156.17 272.50,158.00 C272.00,159.83 269.75,162.08 268.00,163.50 C266.25,164.92 264.00,165.58 262.00,166.50 C260.00,167.42 257.83,168.92 256.00,169.00 C254.17,169.08 252.12,168.33 251.00,167.00 C249.88,165.67 249.30,162.83 249.30,161.00 C249.30,159.17 250.55,157.67 251.00,156.00 C251.45,154.33 251.33,152.67 252.00,151.00Z" fill="#92c43c" fill-opacity="1.0"/>
<path d="M256,138 C255,134 254,131 252,128" stroke="#92c43c" stroke-width="1.6" fill="none"/>
<path d="M246.00,181.50 C246.50,180.42 248.17,179.08 250.00,178.50 C251.83,177.92 255.00,177.83 257.00,178.00 C259.00,178.17 260.92,178.67 262.00,179.50 C263.08,180.33 264.00,181.87 263.50,183.00 C263.00,184.13 260.92,185.72 259.00,186.30 C257.08,186.88 254.00,186.72 252.00,186.50 C250.00,186.28 248.00,185.83 247.00,185.00 C246.00,184.17 245.50,182.58 246.00,181.50Z" fill="#92c43c" fill-opacity="1.0"/>
<path d="M214.00,127.00 C214.67,125.42 217.00,123.92 219.00,123.50 C221.00,123.08 223.83,124.83 226.00,124.50 C228.17,124.17 229.67,122.17 232.00,121.50 C234.33,120.83 237.67,120.42 240.00,120.50 C242.33,120.58 244.33,120.92 246.00,122.00 C247.67,123.08 249.50,125.00 250.00,127.00 C250.50,129.00 249.67,131.83 249.00,134.00 C248.33,136.17 247.50,138.50 246.00,140.00 C244.50,141.50 242.00,142.83 240.00,143.00 C238.00,143.17 235.83,140.75 234.00,141.00 C232.17,141.25 230.67,144.33 229.00,144.50 C227.33,144.67 225.67,143.25 224.00,142.00 C222.33,140.75 220.50,138.50 219.00,137.00 C217.50,135.50 215.83,134.67 215.00,133.00 C214.17,131.33 213.33,128.58 214.00,127.00Z" fill="#ec5a3a" fill-opacity="1.0"/>
<path d="M192.50,156.00 C192.83,154.25 195.08,151.58 197.00,150.00 C198.92,148.42 201.50,146.92 204.00,146.50 C206.50,146.08 209.67,147.58 212.00,147.50 C214.33,147.42 216.00,145.83 218.00,146.00 C220.00,146.17 222.00,147.67 224.00,148.50 C226.00,149.33 228.67,149.75 230.00,151.00 C231.33,152.25 232.17,154.50 232.00,156.00 C231.83,157.50 230.00,158.50 229.00,160.00 C228.00,161.50 227.33,163.67 226.00,165.00 C224.67,166.33 223.00,167.83 221.00,168.00 C219.00,168.17 216.17,166.83 214.00,166.00 C211.83,165.17 210.17,163.75 208.00,163.00 C205.83,162.25 203.17,161.92 201.00,161.50 C198.83,161.08 196.42,161.42 195.00,160.50 C193.58,159.58 192.17,157.75 192.50,156.00Z" fill="#86c97c" fill-opacity="1.0"/>
<path d="M193.00,155.50 C193.50,154.45 196.17,153.67 198.00,153.50 C199.83,153.33 202.67,153.83 204.00,154.50 C205.33,155.17 206.50,156.55 206.00,157.50 C205.50,158.45 202.83,159.82 201.00,160.20 C199.17,160.58 196.33,160.58 195.00,159.80 C193.67,159.02 192.50,156.55 193.00,155.50Z" fill="#2a7a40" fill-opacity="1.0"/>
<path d="M179.00,175.00 C179.83,173.50 182.33,172.00 184.00,171.00 C185.67,170.00 187.00,169.08 189.00,169.00 C191.00,168.92 193.83,170.33 196.00,170.50 C198.17,170.67 200.00,169.75 202.00,170.00 C204.00,170.25 206.17,171.00 208.00,172.00 C209.83,173.00 212.08,174.50 213.00,176.00 C213.92,177.50 214.17,179.42 213.50,181.00 C212.83,182.58 210.75,185.00 209.00,185.50 C207.25,186.00 205.00,184.00 203.00,184.00 C201.00,184.00 199.17,185.17 197.00,185.50 C194.83,185.83 192.33,186.25 190.00,186.00 C187.67,185.75 184.83,185.00 183.00,184.00 C181.17,183.00 179.67,181.50 179.00,180.00 C178.33,178.50 178.17,176.50 179.00,175.00Z" fill="#f5a21e" fill-opacity="1.0"/>
<path d="M215.50,188.00 C216.08,186.75 217.58,184.83 219.00,184.50 C220.42,184.17 222.33,185.67 224.00,186.00 C225.67,186.33 227.55,185.83 229.00,186.50 C230.45,187.17 232.53,188.58 232.70,190.00 C232.87,191.42 231.45,194.00 230.00,195.00 C228.55,196.00 226.00,196.00 224.00,196.00 C222.00,196.00 219.42,195.67 218.00,195.00 C216.58,194.33 215.92,193.17 215.50,192.00 C215.08,190.83 214.92,189.25 215.50,188.00Z" fill="#f5a21e" fill-opacity="1.0"/>
<circle cx="180.5" cy="165" r="1" fill="#f5a21e"/>
<path d="M159.60,121.30 C160.67,119.97 163.67,118.22 165.40,118.50 C167.13,118.78 168.57,121.28 170.00,123.00 C171.43,124.72 173.33,127.07 174.00,128.80 C174.67,130.53 174.87,132.03 174.00,133.40 C173.13,134.77 170.43,136.40 168.80,137.00 C167.17,137.60 165.53,138.00 164.20,137.00 C162.87,136.00 161.67,132.75 160.80,131.00 C159.93,129.25 159.20,128.12 159.00,126.50 C158.80,124.88 158.53,122.63 159.60,121.30Z" fill="#a3121f" fill-opacity="1.0"/>
<path d="M173,134.5 C178,136 184,136.5 190,136.5" stroke="#a3121f" stroke-width="1.8" fill="none"/>
<path d="M163,124 C166,126 164,129 167,131 M162,132 L168,134" stroke="#ffffff" stroke-width="0.6" fill="none" opacity="0.8"/>
<path d="M179.50,110.00 C180.00,108.63 182.25,106.72 184.00,106.30 C185.75,105.88 188.17,106.88 190.00,107.50 C191.83,108.12 193.43,109.17 195.00,110.00 C196.57,110.83 199.23,111.67 199.40,112.50 C199.57,113.33 197.40,114.20 196.00,115.00 C194.60,115.80 192.83,117.05 191.00,117.30 C189.17,117.55 186.67,116.97 185.00,116.50 C183.33,116.03 181.92,115.58 181.00,114.50 C180.08,113.42 179.00,111.37 179.50,110.00Z" fill="#e06a1e" fill-opacity="1.0"/>
<path d="M197,113 C202,115 205,116 209,120 M205,118 C207,122 209,124 212,124" stroke="#c9204f" stroke-width="0.9" fill="none"/>
<path d="M190.50,124.50 C191.50,123.42 194.25,122.67 196.00,122.50 C197.75,122.33 199.58,122.75 201.00,123.50 C202.42,124.25 204.08,125.58 204.50,127.00 C204.92,128.42 204.42,130.83 203.50,132.00 C202.58,133.17 200.75,133.75 199.00,134.00 C197.25,134.25 194.50,134.33 193.00,133.50 C191.50,132.67 190.42,130.50 190.00,129.00 C189.58,127.50 189.50,125.58 190.50,124.50Z" fill="#2fa9b5" fill-opacity="1.0"/>
<path d="M187.90,126.00 C188.40,125.03 190.07,124.03 191.00,124.20 C191.93,124.37 193.17,125.70 193.50,127.00 C193.83,128.30 193.58,130.93 193.00,132.00 C192.42,133.07 190.83,133.73 190.00,133.40 C189.17,133.07 188.35,131.23 188.00,130.00 C187.65,128.77 187.40,126.97 187.90,126.00Z" fill="#e6b22e" fill-opacity="1.0"/>
<path d="M193.50,130.50 C193.92,129.58 195.92,129.25 197.00,129.50 C198.08,129.75 199.83,131.00 200.00,132.00 C200.17,133.00 198.92,135.00 198.00,135.50 C197.08,136.00 195.25,135.83 194.50,135.00 C193.75,134.17 193.08,131.42 193.50,130.50Z" fill="#6dbb7d" fill-opacity="1.0"/>
<circle cx="201" cy="131" r="1.3" fill="#e6b22e"/>
<path d="M224,125 C223,130 226,135 224,142 M231,127 C235,129 238,133 242,131 M218,133 L222,134 M236,137 C238,139 241,139 244,137" stroke="#fff" stroke-width="1.1" fill="none" opacity="0.9"/>
<path d="M248.1,68.9h1.5M257.0,74.3h1.1M238.6,69.4h0.6M251.0,69.2h1.5M234.8,68.9h0.4M253.0,72.3h0.9M241.5,77.7h0.8M238.4,73.6h0.7M235.9,81.5h1.1M250.3,82.6h0.8M242.9,73.5h0.8M250.4,65.1h0.9M246.9,71.9h0.3M251.3,65.2h1.0M237.0,65.7h0.5M234.7,68.0h1.1M251.9,72.3h1.1M245.4,75.0h1.4M241.1,82.4h1.1M250.8,65.1h0.4M233.8,71.9h1.4M255.8,81.8h0.4M251.3,80.5h1.3M253.6,67.8h0.5M253.6,79.8h1.4M244.6,82.8h0.5M257.9,82.7h0.7M234.8,76.0h1.1M242.1,66.1h0.6M254.4,66.8h1.4M239.5,69.1h0.4M258.5,83.0h0.7M235.5,78.1h1.4M233.3,77.7h1.3M244.9,76.4h1.3M239.2,70.5h1.1M247.4,75.7h0.7M257.4,70.8h1.1M256.2,73.0h0.4M238.7,66.3h0.5" stroke="#ffffff" stroke-width="0.8" stroke-linecap="round" stroke-opacity="0.85"/>
<path d="M211.4,106.9h0.5M270.1,106.7h0.8M260.2,105.3h0.4M251.1,107.1h0.9M287.5,111.0h0.8M219.6,90.4h1.3M267.7,106.7h0.8M248.1,93.5h0.9M211.1,107.1h1.1M265.7,94.4h0.4M230.6,109.4h0.9M273.8,100.7h0.8M290.4,91.7h0.5M257.2,107.5h0.8M254.0,101.0h1.1M288.4,114.1h1.1M244.9,118.2h0.8M261.1,115.5h1.1M236.6,111.3h1.0M291.2,107.2h0.9M297.3,103.9h0.8M293.5,118.1h0.5M203.5,115.2h1.4M236.0,94.7h1.1M293.8,93.2h0.8M264.9,93.5h0.8M210.9,102.3h0.6M204.4,99.2h0.5M208.4,91.1h0.8M229.1,110.8h0.8M221.3,92.4h0.7M273.3,92.9h0.9M279.9,114.2h0.9M283.6,107.8h0.6M205.7,91.8h1.2M236.5,114.5h1.5M291.6,102.0h0.3M224.7,93.4h1.1M269.0,117.3h1.1M295.8,107.7h0.9M283.0,95.3h1.2M271.7,115.5h0.4M215.6,118.3h0.5M242.9,106.5h0.9M287.4,118.5h0.7M210.0,117.1h0.8M221.9,90.7h0.3M256.6,95.6h1.0M292.1,102.5h1.4M202.9,111.8h1.2M295.7,87.1h0.9M253.9,106.3h0.9M224.4,116.7h1.4M268.9,118.6h1.0M204.3,109.6h0.4M274.1,108.1h0.5M211.9,88.3h0.5M297.7,93.8h1.4M210.0,97.5h0.9M233.3,118.8h0.6M246.3,93.0h0.4M267.8,97.5h0.9M268.0,89.0h0.4M267.5,119.8h0.3M243.0,119.8h1.3M298.9,104.0h1.5M201.8,102.0h1.3M236.6,101.0h0.8M235.5,113.6h1.5M220.0,97.0h1.3M273.4,113.7h1.1M291.2,114.7h1.1M225.5,88.9h1.3M285.2,116.3h0.6M272.8,117.6h0.5M198.5,91.9h0.6M266.7,113.9h1.3M267.7,119.3h1.5M241.7,117.3h1.2M221.5,105.9h0.5M237.6,113.6h0.3M251.8,100.8h0.6M202.7,103.8h0.7M206.1,99.6h1.1M204.3,112.7h0.4M244.9,98.5h1.3M288.9,111.1h0.7M229.7,114.0h0.9M262.1,110.6h0.5M236.0,118.4h0.7M284.2,91.3h0.3M248.3,95.6h1.0M276.1,87.3h0.9M234.9,116.8h1.3M288.0,111.2h0.7M260.4,104.5h0.7M226.2,108.1h1.4M221.2,98.1h0.5M234.0,99.2h0.4M263.1,97.7h1.3M221.2,111.0h1.5M213.6,98.6h1.5M238.0,97.2h0.5M282.2,97.1h1.4M254.0,92.1h1.5M289.7,111.5h1.0M274.4,118.2h0.5M221.1,111.9h0.8M298.4,114.4h0.9M212.6,106.8h1.0M256.3,112.5h0.9M288.8,106.2h0.5M281.4,91.7h1.4M292.4,92.6h0.5M269.0,101.5h0.7M274.1,97.4h0.5M253.3,115.8h1.5M207.0,111.4h0.7M297.0,99.3h0.4M230.4,103.5h0.5M276.1,97.2h1.2M220.2,102.7h1.1M217.5,95.8h1.3M237.0,97.9h1.0M267.9,115.4h1.0M284.8,116.4h1.4M291.6,109.6h1.1M236.5,89.6h1.4M239.1,97.5h1.0M274.6,114.2h0.4M277.5,118.0h1.5M294.0,105.4h1.4M257.4,114.9h1.5M235.0,90.2h1.2M293.6,116.8h0.9M242.7,90.2h1.3M224.3,90.1h0.4M292.8,100.1h1.3M203.3,102.4h1.2M276.3,92.5h0.9" stroke="#ffffff" stroke-width="0.8" stroke-linecap="round" stroke-opacity="0.85"/>
<path d="M249.2,131.9h1.2M239.9,125.6h0.4M234.9,123.2h0.8M245.8,142.7h0.4M215.1,125.8h1.3M212.9,125.9h0.4M216.9,133.6h0.5M227.6,139.1h1.2M227.8,140.4h1.0M243.4,126.5h0.7M234.1,144.6h1.0M230.0,126.5h0.6M220.2,145.6h1.4M246.0,133.7h1.2M223.3,132.5h0.5M228.0,126.6h0.4M246.9,122.5h1.3M238.6,122.3h0.9M249.8,145.7h1.0M241.3,138.4h0.7M232.9,135.5h0.8M243.1,131.5h1.2M214.5,131.6h0.4M236.6,142.7h1.0M233.5,136.2h0.6M226.7,135.0h1.1M226.4,132.4h0.7M233.1,137.6h0.7M238.0,142.1h0.9M249.3,128.0h1.4M218.9,129.4h1.3M213.2,136.0h1.3M247.9,137.7h0.7M224.6,136.4h0.4M213.1,142.9h1.1M218.2,131.1h0.6M245.0,127.4h1.2M240.3,128.3h0.6M231.8,130.4h1.0M224.5,140.7h0.8M217.2,140.1h1.4M237.9,134.2h1.3M247.5,120.2h0.9M212.7,128.7h0.6M229.5,137.6h1.3M221.9,120.3h1.5M241.7,134.3h0.4M214.0,144.3h0.9M244.7,140.4h1.2M242.6,126.6h0.6M228.5,140.0h1.3M240.8,135.1h0.9M219.4,137.3h1.1M231.5,138.9h1.5M247.9,122.8h0.6M235.3,137.9h0.6M247.4,132.0h1.2M214.0,127.3h0.3M242.1,133.6h1.4M235.1,128.5h0.7M226.3,125.1h0.4M236.7,128.2h0.8M238.9,127.1h0.8M224.3,128.4h1.1M215.7,130.4h0.4M237.5,127.7h1.5M230.3,137.2h0.9M243.2,138.2h1.1M213.2,123.7h1.2M227.7,145.4h1.1" stroke="#ffffff" stroke-width="0.8" stroke-linecap="round" stroke-opacity="0.85"/>
<path d="M231.3,165.9h1.2M199.8,152.9h1.2M224.7,145.4h0.5M228.5,147.8h1.1M204.2,160.5h1.3M215.0,154.4h0.7M216.7,160.1h0.8M210.1,157.9h0.6M197.7,158.6h0.4M215.7,164.2h1.3M200.8,155.0h1.4M205.0,168.8h0.5M226.2,146.0h1.1M224.6,158.1h1.1M229.3,168.9h0.5M212.5,146.0h0.8M196.2,148.8h1.0M193.6,148.7h0.3M225.0,150.8h0.4M216.7,162.2h1.1M213.5,157.8h1.2M203.3,165.2h1.1M226.9,166.4h1.3M212.3,157.5h1.2M214.9,145.7h1.4M198.6,156.6h0.8M194.0,158.9h1.0M225.0,159.7h0.7M214.3,168.0h1.1M226.3,145.3h1.1M199.1,148.9h0.7M197.6,147.1h0.6M199.9,151.0h1.3M193.6,149.8h0.4M211.8,150.5h0.9M200.2,149.7h0.9M193.1,166.2h1.0M207.0,158.2h1.4M211.3,154.5h0.6M206.4,163.6h1.0M201.9,166.6h0.5M205.3,163.6h1.4M209.7,145.3h1.0M208.4,145.7h0.7M227.9,145.9h0.5M197.2,164.1h0.7M219.4,161.2h0.3M208.8,147.9h1.3M211.0,153.8h1.3M225.4,146.6h0.4M203.9,152.5h0.8M208.4,168.3h1.1M231.3,159.8h0.6M214.4,148.8h1.0M196.1,167.3h0.7M228.5,150.3h0.5M200.6,164.8h1.3M222.0,158.8h0.5M200.3,145.8h1.4M195.5,162.2h0.3M202.2,159.5h0.5M193.0,166.5h0.6M190.3,161.9h1.5M213.4,145.8h0.8M216.2,150.9h0.8M221.9,160.8h1.3M230.9,157.5h1.5M195.1,157.4h1.1M229.9,156.3h0.8M228.3,156.3h0.4M209.4,151.5h1.1M225.1,146.1h0.7M228.7,164.4h1.2M206.7,167.9h1.3M225.2,158.0h1.1M195.7,145.8h0.3M192.3,157.2h1.4M214.7,163.9h1.2M230.6,151.6h0.9M229.8,152.9h1.1" stroke="#ffffff" stroke-width="0.8" stroke-linecap="round" stroke-opacity="0.85"/>
<path d="M227.2,178.1h1.2M231.3,177.1h1.2M196.7,172.7h0.7M220.1,172.3h1.1M197.7,172.9h0.8M199.6,181.4h1.4M229.5,174.6h1.5M212.3,195.8h1.3M207.4,175.3h1.4M234.0,186.1h0.4M224.1,190.2h1.4M232.7,196.3h1.2M200.0,183.4h0.9M220.6,186.2h1.3M206.9,185.1h1.5M222.3,195.0h1.1M185.0,180.1h0.6M192.7,171.7h0.4M204.9,190.7h1.3M232.2,184.9h0.3M188.7,169.7h1.3M195.9,189.0h0.8M210.7,192.7h1.1M182.2,186.4h0.7M232.7,175.8h0.6M229.7,180.0h0.4M222.6,194.7h0.9M187.4,193.1h0.7M191.8,169.3h1.4M191.2,171.5h0.7M217.2,196.9h0.6M212.6,175.8h1.3M205.3,187.8h1.3M208.0,181.7h0.3M187.3,188.1h1.2M210.4,169.4h1.2M225.5,192.8h1.2M215.1,178.1h0.7M188.7,186.7h0.7M223.3,174.7h0.6M182.8,176.1h1.2M224.2,194.6h0.3M216.4,184.3h0.7M230.6,187.8h0.7M224.5,180.8h0.9M204.7,181.8h0.3M223.9,176.8h0.8M187.9,184.5h0.4M179.7,174.1h1.4M216.2,188.9h0.4M203.3,189.3h1.2M203.2,170.2h0.8M231.1,193.8h1.0M197.7,185.4h1.0M203.9,192.7h1.0M183.4,189.2h1.1M183.7,183.2h1.5M214.2,187.5h0.9M201.8,196.6h0.6M204.0,170.7h0.9M215.1,188.0h1.5M192.7,174.0h0.7M196.8,194.5h0.6M204.4,197.0h0.8M203.7,180.1h0.7M196.0,192.3h0.3M181.7,191.4h1.2M201.8,181.9h0.9M192.4,180.6h0.7M211.1,177.8h1.0M180.3,196.7h0.3M204.4,178.9h0.5M232.5,181.0h0.5M196.4,173.5h1.0M233.9,196.0h0.6M217.8,184.3h1.2M186.8,169.3h0.4M228.8,169.6h0.4M203.9,169.8h0.5M231.4,173.2h1.2M225.3,181.2h0.8M189.9,177.5h0.9M210.0,183.5h0.7M227.6,181.3h0.8M204.7,192.4h1.0M219.6,192.0h0.7M218.4,170.8h0.9M203.9,179.3h0.5M222.9,177.9h0.8M184.6,193.1h1.3" stroke="#ffffff" stroke-width="0.8" stroke-linecap="round" stroke-opacity="0.85"/>
<path d="M265.8,166.7h0.3M271.6,164.1h0.4M268.2,163.5h0.5M272.3,149.0h0.8M264.3,159.8h1.2M255.0,153.0h0.5M254.9,153.2h0.4M256.7,163.9h0.5M258.8,138.2h1.2M250.5,143.0h1.2M259.1,155.3h1.0M260.4,151.0h0.5M251.6,143.7h0.6M256.0,166.4h0.6M251.3,145.9h0.5M268.7,168.5h1.2M271.8,155.1h0.8M257.6,158.5h0.6M261.1,149.9h1.1M269.8,158.7h0.5M262.8,161.1h0.9M249.6,140.1h0.9M265.9,153.3h1.2M261.7,164.2h0.6M268.8,161.7h0.4M253.6,146.7h1.2M264.0,139.2h1.2M255.7,165.5h0.6M250.5,147.9h0.9M258.7,154.7h0.4M254.8,138.4h1.5M260.2,146.5h0.5M263.1,137.2h0.5M264.7,154.4h1.1M269.2,147.7h1.2M268.1,164.3h0.9M267.1,138.1h0.5M262.4,155.3h1.0M258.4,138.6h0.7M253.0,159.0h0.6" stroke="#ffffff" stroke-width="0.8" stroke-linecap="round" stroke-opacity="0.85"/>
<path d="M273.6,142.0h1.5M286.4,140.2h0.7M270.3,150.0h1.2M273.8,142.3h1.2M294.1,136.3h0.7M271.8,142.2h1.4M288.8,133.7h0.7M268.4,134.1h0.9M270.8,136.1h0.6M279.1,147.3h0.6M285.0,138.6h0.6M275.3,145.8h1.3M288.7,147.9h1.2M275.3,135.4h1.0M284.9,145.9h1.4M290.7,149.5h1.1M287.2,146.2h0.9M290.7,147.6h0.9M276.6,138.2h1.0M283.5,140.4h0.8M288.9,144.0h1.4M295.8,131.3h0.8M289.0,141.2h1.0M274.0,138.3h1.3M286.8,147.7h1.4M294.5,147.4h1.4M293.8,148.7h0.8M278.6,139.5h1.2M296.3,143.8h0.8M268.5,133.5h0.4M270.6,131.0h0.8M275.4,149.0h0.5M268.9,148.1h1.4M281.9,141.2h0.7M278.3,136.4h0.4M296.3,147.5h1.3M270.6,143.1h0.4M288.2,132.3h1.0M270.9,149.6h1.4M279.2,148.5h1.2" stroke="#ffffff" stroke-width="0.8" stroke-linecap="round" stroke-opacity="0.85"/>
<path d="M160.2,134.1h1.4M164.5,122.8h0.5M159.4,121.5h0.5M172.5,121.0h0.5M173.8,136.3h0.4M163.5,137.8h0.8M168.7,131.5h1.1M158.9,132.2h1.3M165.6,124.3h1.2M174.8,136.8h0.5M170.9,127.3h1.5M174.5,127.2h1.4M173.0,119.3h0.8M174.1,121.9h0.8M168.7,124.4h1.2M161.1,129.6h1.0M158.5,133.6h1.2M172.5,121.0h0.9M160.6,132.4h1.0M173.2,119.9h0.6M159.2,136.5h1.1M160.4,132.5h0.8M164.8,133.4h1.2M166.2,123.1h0.8M164.6,120.9h0.5" stroke="#ffffff" stroke-width="0.8" stroke-linecap="round" stroke-opacity="0.85"/>
<path d="M184.9,111.0h1.0M181.1,111.5h1.4M190.8,111.7h1.2M188.5,108.6h1.3M182.5,116.6h1.4M190.5,111.7h0.4M182.6,115.0h1.2M192.1,106.8h1.2M199.8,116.3h1.1M188.4,110.5h0.5M179.9,117.6h0.8M187.2,111.3h1.5M198.2,114.0h1.2M190.0,113.4h1.3M193.0,105.6h0.9M191.3,113.7h1.4M195.4,110.4h0.9M195.4,114.8h0.7M187.3,113.0h0.9M193.0,116.1h0.8" stroke="#ffffff" stroke-width="0.8" stroke-linecap="round" stroke-opacity="0.85"/>
<text x="224.3" y="93.3" font-size="6.3" text-anchor="start" fill="#231f20">DUX4-r blasts</text>
<text x="168.5" y="103.6" font-size="6.3" text-anchor="start" fill="#231f20">Monocytes</text>
<text x="157" y="114.6" font-size="6.3" text-anchor="start" fill="#231f20">Erythroid</text>
<text x="173.8" y="123.6" font-size="6.3" text-anchor="start" fill="#231f20">LMPP</text>
<text x="211.5" y="119.8" font-size="6.3" text-anchor="start" fill="#231f20">Dendritic</text>
<text x="209.5" y="128.4" font-size="6.3" text-anchor="start" fill="#231f20">GMP</text>
<text x="200.8" y="139.6" font-size="6.3" text-anchor="start" fill="#231f20">HSC</text>
<text x="153.8" y="145.6" font-size="6.3" text-anchor="start" fill="#231f20">Megakaryocytic</text>
<text x="177" y="152.6" font-size="6.3" text-anchor="start" fill="#231f20">NK cells</text>
<text x="190" y="169" font-size="6.3" text-anchor="start" fill="#231f20">T cells</text>
<text x="226" y="149" font-size="6.3" text-anchor="start" fill="#231f20">BCR::ABL1</text>
<text x="233" y="156.5" font-size="6.3" text-anchor="start" fill="#231f20">blasts</text>
<text x="266" y="124" font-size="6.3" text-anchor="start" fill="#231f20">Progenitor</text>
<text x="272" y="131" font-size="6.3" text-anchor="start" fill="#231f20">B cells</text>
<text x="274" y="157" font-size="6.3" text-anchor="start" fill="#231f20">B cells</text>
<text x="249.6" y="175.7" font-size="6.3" text-anchor="start" fill="#231f20">HeH blasts</text>
<text x="175" y="194" font-size="6.3" text-anchor="start" fill="#231f20">ETV6::RUNX1</text>
<text x="186.5" y="200.4" font-size="6.3" text-anchor="start" fill="#231f20">blasts</text>
<path d="M197.5,101.5 L200,105 M166,115.5 L161,120 M190.5,123.5 L192,126 M210,117.5 L205,119 M209,125 L203,127 M200,135 L197,133 M197,143 L194,137 M199,149 L200,155 M208,163 L210,160 M272,120 L262,115 M280,132 L276,135 M280,151.5 L282,147 M244,151 L244,141" stroke="#444" stroke-width="0.4" fill="none"/>
<text x="307" y="17" font-size="12" text-anchor="start" fill="#000" font-weight="bold">C</text>
<text x="373" y="46.5" font-size="8.7" text-anchor="middle" fill="#231f20">scATAC-seq of childhood</text>
<text x="373" y="56" font-size="8.7" text-anchor="middle" fill="#231f20">BCP-ALL</text>
<path d="M372.00,66.00 C373.25,65.30 376.00,64.63 378.00,64.80 C380.00,64.97 382.75,65.80 384.00,67.00 C385.25,68.20 385.50,70.25 385.50,72.00 C385.50,73.75 385.08,76.20 384.00,77.50 C382.92,78.80 380.83,79.55 379.00,79.80 C377.17,80.05 374.50,79.97 373.00,79.00 C371.50,78.03 370.42,75.67 370.00,74.00 C369.58,72.33 370.17,70.33 370.50,69.00 C370.83,67.67 370.75,66.70 372.00,66.00Z" fill="#7a5cb8" fill-opacity="1.0"/>
<path d="M325.00,95.00 C325.77,94.32 327.50,93.40 329.00,93.40 C330.50,93.40 332.92,94.07 334.00,95.00 C335.08,95.93 335.50,97.67 335.50,99.00 C335.50,100.33 334.75,101.83 334.00,103.00 C333.25,104.17 332.00,105.75 331.00,106.00 C330.00,106.25 329.08,105.33 328.00,104.50 C326.92,103.67 325.10,102.17 324.50,101.00 C323.90,99.83 324.32,98.50 324.40,97.50 C324.48,96.50 324.23,95.68 325.00,95.00Z" fill="#7a5cb8" fill-opacity="1.0"/>
<path d="M350.00,97.00 C350.50,96.42 352.83,95.83 354.00,96.00 C355.17,96.17 356.83,97.33 357.00,98.00 C357.17,98.67 356.00,99.75 355.00,100.00 C354.00,100.25 351.83,100.00 351.00,99.50 C350.17,99.00 349.50,97.58 350.00,97.00Z" fill="#7a5cb8" fill-opacity="1.0"/>
<path d="M365.00,101.00 C365.67,99.58 367.00,97.25 368.00,96.00 C369.00,94.75 370.33,93.50 371.00,93.50 C371.67,93.50 372.17,94.92 372.00,96.00 C371.83,97.08 370.67,98.67 370.00,100.00 C369.33,101.33 369.00,103.25 368.00,104.00 C367.00,104.75 364.50,105.00 364.00,104.50 C363.50,104.00 364.33,102.42 365.00,101.00Z" fill="#7a5cb8" fill-opacity="1.0"/>
<path d="M394.00,96.00 C394.67,95.42 397.17,94.42 399.00,94.00 C400.83,93.58 404.00,93.08 405.00,93.50 C406.00,93.92 405.83,95.75 405.00,96.50 C404.17,97.25 401.67,97.83 400.00,98.00 C398.33,98.17 396.00,97.83 395.00,97.50 C394.00,97.17 393.33,96.58 394.00,96.00Z" fill="#7a5cb8" fill-opacity="1.0"/>
<path d="M376.00,115.00 C376.87,113.97 379.33,112.97 381.00,112.80 C382.67,112.63 384.70,113.13 386.00,114.00 C387.30,114.87 388.63,116.50 388.80,118.00 C388.97,119.50 388.13,121.83 387.00,123.00 C385.87,124.17 383.67,125.00 382.00,125.00 C380.33,125.00 378.03,124.00 377.00,123.00 C375.97,122.00 375.97,120.33 375.80,119.00 C375.63,117.67 375.13,116.03 376.00,115.00Z" fill="#7a5cb8" fill-opacity="1.0"/>
<path d="M401.50,116.00 C402.17,114.92 403.80,114.50 405.00,114.50 C406.20,114.50 408.20,115.08 408.70,116.00 C409.20,116.92 408.62,118.83 408.00,120.00 C407.38,121.17 405.92,122.03 405.00,123.00 C404.08,123.97 403.17,126.13 402.50,125.80 C401.83,125.47 401.17,122.63 401.00,121.00 C400.83,119.37 400.83,117.08 401.50,116.00Z" fill="#7a5cb8" fill-opacity="1.0"/>
<path d="M320.00,126.00 C320.67,125.08 322.67,123.58 324.00,123.50 C325.33,123.42 327.50,124.58 328.00,125.50 C328.50,126.42 327.83,128.08 327.00,129.00 C326.17,129.92 324.17,131.00 323.00,131.00 C321.83,131.00 320.50,129.83 320.00,129.00 C319.50,128.17 319.33,126.92 320.00,126.00Z" fill="#f0a020" fill-opacity="1.0"/>
<path d="M341.00,113.00 C341.72,112.13 343.47,112.30 343.80,112.80 C344.13,113.30 343.38,114.85 343.00,116.00 C342.62,117.15 342.08,119.37 341.50,119.70 C340.92,120.03 339.58,119.12 339.50,118.00 C339.42,116.88 340.28,113.87 341.00,113.00Z" fill="#f0a020" fill-opacity="1.0"/>
<path d="M364.00,127.00 C364.83,126.00 366.75,124.17 368.00,124.00 C369.25,123.83 371.17,125.00 371.50,126.00 C371.83,127.00 370.92,129.17 370.00,130.00 C369.08,130.83 367.17,131.00 366.00,131.00 C364.83,131.00 363.33,130.67 363.00,130.00 C362.67,129.33 363.17,128.00 364.00,127.00Z" fill="#f0a020" fill-opacity="1.0"/>
<path d="M314.00,144.00 C314.83,142.95 316.67,143.12 317.50,143.70 C318.33,144.28 318.25,146.45 319.00,147.50 C319.75,148.55 321.30,148.92 322.00,150.00 C322.70,151.08 323.37,152.83 323.20,154.00 C323.03,155.17 321.20,155.50 321.00,157.00 C320.80,158.50 322.00,160.92 322.00,163.00 C322.00,165.08 321.83,168.00 321.00,169.50 C320.17,171.00 318.33,171.92 317.00,172.00 C315.67,172.08 313.77,171.50 313.00,170.00 C312.23,168.50 312.40,165.33 312.40,163.00 C312.40,160.67 312.98,158.17 313.00,156.00 C313.02,153.83 312.33,152.00 312.50,150.00 C312.67,148.00 313.17,145.05 314.00,144.00Z" fill="#f0a020" fill-opacity="1.0"/>
<circle cx="353.5" cy="114" r="1.8" fill="#8cc040"/>
<path d="M343.00,136.00 C343.67,134.42 345.17,132.33 347.00,131.50 C348.83,130.67 351.83,130.75 354.00,131.00 C356.17,131.25 358.23,132.17 360.00,133.00 C361.77,133.83 363.68,134.67 364.60,136.00 C365.52,137.33 365.93,139.33 365.50,141.00 C365.07,142.67 362.58,144.17 362.00,146.00 C361.42,147.83 362.17,150.00 362.00,152.00 C361.83,154.00 361.67,156.17 361.00,158.00 C360.33,159.83 359.00,163.00 358.00,163.00 C357.00,163.00 355.67,160.00 355.00,158.00 C354.33,156.00 354.83,152.67 354.00,151.00 C353.17,149.33 351.50,149.00 350.00,148.00 C348.50,147.00 346.17,146.17 345.00,145.00 C343.83,143.83 343.33,142.50 343.00,141.00 C342.67,139.50 342.33,137.58 343.00,136.00Z" fill="#7cbf72" fill-opacity="1.0"/>
<path d="M355.00,152.00 C355.58,150.83 357.83,150.67 359.00,151.00 C360.17,151.33 361.83,152.50 362.00,154.00 C362.17,155.50 360.75,158.33 360.00,160.00 C359.25,161.67 358.25,164.33 357.50,164.00 C356.75,163.67 355.92,160.00 355.50,158.00 C355.08,156.00 354.42,153.17 355.00,152.00Z" fill="#2a7a44" fill-opacity="1.0"/>
<path d="M333.50,156.00 C334.00,154.92 335.92,152.67 337.00,152.50 C338.08,152.33 338.83,154.25 340.00,155.00 C341.17,155.75 343.67,156.08 344.00,157.00 C344.33,157.92 343.00,159.80 342.00,160.50 C341.00,161.20 339.33,161.45 338.00,161.20 C336.67,160.95 334.75,159.87 334.00,159.00 C333.25,158.13 333.00,157.08 333.50,156.00Z" fill="#2363a6" fill-opacity="1.0"/>
<path d="M376.00,137.00 C376.50,136.22 378.33,135.13 379.00,135.30 C379.67,135.47 380.08,136.85 380.00,138.00 C379.92,139.15 379.17,141.87 378.50,142.20 C377.83,142.53 376.42,140.87 376.00,140.00 C375.58,139.13 375.50,137.78 376.00,137.00Z" fill="#a3101f" fill-opacity="1.0"/>
<path d="M369.00,148.00 C369.58,146.80 371.57,144.80 373.00,144.80 C374.43,144.80 377.10,146.63 377.60,148.00 C378.10,149.37 376.93,151.80 376.00,153.00 C375.07,154.20 373.08,155.37 372.00,155.20 C370.92,155.03 370.00,153.20 369.50,152.00 C369.00,150.80 368.42,149.20 369.00,148.00Z" fill="#e8503a" fill-opacity="1.0"/>
<path d="M370.00,147.00 C370.42,146.00 372.10,145.50 373.00,146.00 C373.90,146.50 375.40,148.43 375.40,150.00 C375.40,151.57 373.82,155.07 373.00,155.40 C372.18,155.73 371.00,153.40 370.50,152.00 C370.00,150.60 369.58,148.00 370.00,147.00Z" fill="#a3101f" fill-opacity="0.6"/>
<path d="M400.00,144.00 C400.33,142.55 402.67,140.17 404.00,139.00 C405.33,137.83 406.62,137.17 408.00,137.00 C409.38,136.83 411.63,137.08 412.30,138.00 C412.97,138.92 412.88,141.17 412.00,142.50 C411.12,143.83 408.67,145.13 407.00,146.00 C405.33,146.87 403.17,148.03 402.00,147.70 C400.83,147.37 399.67,145.45 400.00,144.00Z" fill="#e8503a" fill-opacity="1.0"/>
<path d="M421.00,147.00 C422.00,145.42 424.17,144.17 426.00,143.50 C427.83,142.83 430.57,142.42 432.00,143.00 C433.43,143.58 434.35,145.33 434.60,147.00 C434.85,148.67 434.43,151.25 433.50,153.00 C432.57,154.75 430.75,156.72 429.00,157.50 C427.25,158.28 424.50,158.45 423.00,157.70 C421.50,156.95 420.33,154.78 420.00,153.00 C419.67,151.22 420.00,148.58 421.00,147.00Z" fill="#e8503a" fill-opacity="1.0"/>
<path d="M386,146 C388,151 390,156 391,161 M392,145 C393,150 393,155 394,160 M383,166 L374,167.5 M400,150 C404,152 408,155 413,157" stroke="#8cbcd8" stroke-width="0.9" fill="none"/>
<path d="M386.00,162.00 C386.77,160.67 388.50,160.25 390.00,160.00 C391.50,159.75 393.58,159.83 395.00,160.50 C396.42,161.17 398.08,162.42 398.50,164.00 C398.92,165.58 398.25,168.23 397.50,170.00 C396.75,171.77 395.42,174.02 394.00,174.60 C392.58,175.18 390.43,174.60 389.00,173.50 C387.57,172.40 385.90,169.92 385.40,168.00 C384.90,166.08 385.23,163.33 386.00,162.00Z" fill="#e2b43c" fill-opacity="1.0"/>
<path d="M388.00,163.00 C388.33,162.00 390.67,161.50 392.00,161.50 C393.33,161.50 395.50,162.08 396.00,163.00 C396.50,163.92 396.00,166.25 395.00,167.00 C394.00,167.75 391.17,168.17 390.00,167.50 C388.83,166.83 387.67,164.00 388.00,163.00Z" fill="#6cb87c" fill-opacity="0.9"/>
<path d="M389.00,168.00 C389.17,167.17 391.17,166.67 392.00,167.00 C392.83,167.33 394.17,169.17 394.00,170.00 C393.83,170.83 391.83,172.33 391.00,172.00 C390.17,171.67 388.83,168.83 389.00,168.00Z" fill="#3aa9b8" fill-opacity="0.8"/>
<path d="M396,160 C398,156 401,153 404,150" stroke="#c81e50" stroke-width="1" fill="none"/>
<path d="M371.00,174.00 C371.58,172.50 373.67,170.33 375.00,170.00 C376.33,169.67 377.92,170.83 379.00,172.00 C380.08,173.17 381.33,175.28 381.50,177.00 C381.67,178.72 381.08,181.47 380.00,182.30 C378.92,183.13 376.42,182.55 375.00,182.00 C373.58,181.45 372.17,180.33 371.50,179.00 C370.83,177.67 370.42,175.50 371.00,174.00Z" fill="#c4582a" fill-opacity="1.0"/>
<path d="M340.00,180.00 C340.50,178.78 342.88,177.03 344.00,176.70 C345.12,176.37 346.45,176.95 346.70,178.00 C346.95,179.05 346.28,181.20 345.50,183.00 C344.72,184.80 343.25,188.13 342.00,188.80 C340.75,189.47 338.17,187.80 338.00,187.00 C337.83,186.20 340.67,185.17 341.00,184.00 C341.33,182.83 339.50,181.22 340.00,180.00Z" fill="#8cc040" fill-opacity="1.0"/>
<path d="M351.00,197.00 C351.50,195.87 353.67,194.45 355.00,194.20 C356.33,193.95 358.02,194.70 359.00,195.50 C359.98,196.30 361.23,197.98 360.90,199.00 C360.57,200.02 358.48,201.27 357.00,201.60 C355.52,201.93 353.00,201.77 352.00,201.00 C351.00,200.23 350.50,198.13 351.00,197.00Z" fill="#8cc040" fill-opacity="1.0"/>
<path d="M396.00,195.00 C396.17,194.22 397.47,191.75 398.00,191.50 C398.53,191.25 399.37,192.72 399.20,193.50 C399.03,194.28 397.53,195.95 397.00,196.20 C396.47,196.45 395.83,195.78 396.00,195.00Z" fill="#8cc040" fill-opacity="1.0"/>
<path d="M370.2,68.9h0.3M374.1,76.5h1.1M377.5,76.6h0.8M384.6,74.0h0.5M379.2,71.6h0.9M372.9,75.5h0.5M374.4,67.3h0.6M372.3,76.6h1.1M369.5,73.4h0.4M380.6,70.3h0.9M382.7,77.0h1.1M374.3,64.7h1.0M378.6,79.1h1.4M372.4,70.4h1.2M376.5,80.4h0.3M376.4,78.2h1.4M378.1,67.5h1.0M374.7,75.5h0.7M372.5,73.6h1.2M377.8,73.7h1.0M378.4,63.1h0.7M384.7,72.2h1.2M386.2,63.7h1.2M377.8,63.0h0.6M377.9,71.3h1.3" stroke="#ffffff" stroke-width="0.8" stroke-linecap="round" stroke-opacity="0.85"/>
<path d="M360.3,152.6h0.8M346.8,153.7h1.5M352.3,159.8h0.3M354.7,137.1h0.9M356.7,160.0h0.9M362.9,141.4h0.5M353.2,155.0h1.1M342.9,138.7h0.6M353.3,160.2h0.6M343.1,161.4h1.3M360.5,131.4h0.6M346.2,162.0h0.4M345.1,137.7h1.2M346.8,164.4h0.7M357.6,136.7h0.7M362.8,164.9h0.6M350.4,132.0h0.5M351.2,148.2h1.0M350.4,135.5h1.0M350.4,142.1h1.5M356.1,130.5h1.4M365.3,143.6h1.5M344.5,162.2h0.5M362.7,153.7h1.5M349.3,152.9h1.4M345.1,136.5h1.0M345.2,131.9h0.3M350.3,152.7h0.9M356.5,130.9h0.4M355.6,135.5h0.3M343.5,152.8h1.5M353.9,130.2h0.5M358.4,157.7h0.5M353.2,131.3h0.9M360.1,147.5h1.2M347.6,153.3h0.9M356.5,132.5h0.8M356.9,138.2h1.0M342.5,144.6h1.4M357.5,147.7h1.3M358.6,147.8h0.8M363.0,149.8h0.9M350.9,135.3h0.5M356.5,148.8h1.2M352.8,143.5h1.0M348.0,163.7h1.1M349.2,147.2h1.3M364.8,154.5h1.4M361.4,142.9h0.8M353.2,131.8h1.0" stroke="#ffffff" stroke-width="0.8" stroke-linecap="round" stroke-opacity="0.85"/>
<path d="M312.2,168.1h1.0M313.8,166.2h1.0M321.8,161.0h1.2M321.1,152.7h0.4M322.7,145.6h1.0M323.9,152.9h0.6M316.0,148.3h1.2M314.9,144.3h1.0M314.4,147.5h0.3M321.9,153.7h1.0M317.2,168.9h0.4M319.2,167.7h0.6M316.6,152.4h0.7M323.3,149.1h1.2M311.6,166.2h0.4M321.3,144.0h0.6M314.4,150.7h1.2M317.6,143.4h0.5M316.4,164.0h1.1M317.2,167.0h1.4" stroke="#ffffff" stroke-width="0.8" stroke-linecap="round" stroke-opacity="0.85"/>
<path d="M425.7,143.4h1.0M421.3,149.7h0.7M430.8,144.5h1.5M420.2,143.1h1.1M435.7,155.8h1.3M421.6,145.2h0.7M423.0,144.7h0.7M425.4,147.2h1.3M433.2,144.1h0.9M431.4,142.6h1.4M428.6,149.2h0.8M434.3,150.5h0.8M435.2,144.9h0.9M434.8,155.4h1.2M433.5,144.4h1.1M427.6,158.0h1.5M425.7,154.9h0.7M425.9,153.5h1.4M432.3,145.1h0.4M435.0,150.6h1.0" stroke="#ffffff" stroke-width="0.8" stroke-linecap="round" stroke-opacity="0.85"/>
<path d="M391.0,171.0h0.9M392.0,172.9h0.6M399.6,167.3h0.4M395.8,162.1h1.5M394.9,161.7h1.5M389.2,175.2h0.3M388.8,169.3h0.6M389.4,159.9h1.0M397.5,163.5h1.1M392.5,170.6h1.5M392.6,164.6h0.9M395.4,176.0h1.5M388.9,159.7h1.4M387.3,170.3h0.5M392.0,171.0h1.4M389.7,165.6h1.3M392.3,160.0h0.7M387.8,171.6h1.1M385.4,167.0h1.2M397.4,171.0h1.0M391.8,175.1h0.9M388.1,163.4h0.7M390.5,162.9h0.8M397.8,160.7h0.5M387.6,161.1h1.5" stroke="#ffffff" stroke-width="0.8" stroke-linecap="round" stroke-opacity="0.85"/>
<text x="350.6" y="89" font-size="6.3" text-anchor="start" fill="#231f20">DUX4-r blasts</text>
<text x="324.8" y="125.5" font-size="6.3" text-anchor="start" fill="#231f20">ETV6::RUNX1</text>
<text x="336.4" y="131" font-size="6.3" text-anchor="start" fill="#231f20">blasts</text>
<text x="357.5" y="139.5" font-size="6.3" text-anchor="start" fill="#231f20">T cells</text>
<text x="380" y="134.5" font-size="6.3" text-anchor="start" fill="#231f20">Erythroid</text>
<text x="408.8" y="132.5" font-size="6.3" text-anchor="start" fill="#231f20">BCR::ABL1</text>
<text x="416" y="140" font-size="6.3" text-anchor="start" fill="#231f20">blasts</text>
<text x="328" y="149.5" font-size="6.3" text-anchor="start" fill="#231f20">B cells</text>
<text x="348.8" y="168.8" font-size="6.3" text-anchor="start" fill="#231f20">NK cells</text>
<text x="402" y="162.5" font-size="6.3" text-anchor="start" fill="#231f20">GMP</text>
<text x="402.5" y="169.8" font-size="6.3" text-anchor="start" fill="#231f20">LMPP</text>
<text x="392.3" y="180.3" font-size="6.3" text-anchor="start" fill="#231f20">HSC</text>
<text x="366.2" y="188.6" font-size="6.3" text-anchor="start" fill="#231f20">Monocytes</text>
<text x="349.5" y="193.8" font-size="6.3" text-anchor="start" fill="#231f20">HeH blasts</text>
<path d="M361,140 L357,144 M380,136 L377,139 M336,151 L338,154 M356,163.5 L357,160 M401.5,160.5 L397,163 M402,167.5 L397,167.5 M395,175.5 L393,172 M412,141 L407,143" stroke="#444" stroke-width="0.4" fill="none"/>
<circle cx="447.7" cy="68.9" r="2.4" fill="#e2b43c"/>
<text x="453.3" y="71.10000000000001" font-size="6.45" text-anchor="start" fill="#231f20">HSC</text>
<circle cx="447.7" cy="77.0" r="2.4" fill="#3aa9b8"/>
<text x="453.3" y="79.17" font-size="6.45" text-anchor="start" fill="#231f20">LMPP</text>
<circle cx="447.7" cy="85.0" r="2.4" fill="#d6bb94"/>
<text x="453.3" y="87.24000000000001" font-size="6.45" text-anchor="start" fill="#231f20">GMP</text>
<circle cx="447.7" cy="93.1" r="2.4" fill="#6cb87c"/>
<text x="453.3" y="95.31000000000002" font-size="6.45" text-anchor="start" fill="#231f20">Megakaryocytic cells</text>
<circle cx="447.7" cy="101.2" r="2.4" fill="#a3101f"/>
<text x="453.3" y="103.38000000000001" font-size="6.45" text-anchor="start" fill="#231f20">Erythroid</text>
<circle cx="447.7" cy="109.2" r="2.4" fill="#c4582a"/>
<text x="453.3" y="111.45" font-size="6.45" text-anchor="start" fill="#231f20">Monocytes</text>
<circle cx="447.7" cy="117.3" r="2.4" fill="#c81e50"/>
<text x="453.3" y="119.52000000000001" font-size="6.45" text-anchor="start" fill="#231f20">Dendritic cells</text>
<circle cx="447.7" cy="125.4" r="2.4" fill="#8cbcd8"/>
<text x="453.3" y="127.59000000000002" font-size="6.45" text-anchor="start" fill="#231f20">Progenitor B cells</text>
<circle cx="447.7" cy="133.5" r="2.4" fill="#2363a6"/>
<text x="453.3" y="135.66" font-size="6.45" text-anchor="start" fill="#231f20">B cells</text>
<circle cx="447.7" cy="141.5" r="2.4" fill="#7cbf72"/>
<text x="453.3" y="143.73" font-size="6.45" text-anchor="start" fill="#231f20">T cells</text>
<circle cx="447.7" cy="149.6" r="2.4" fill="#2a7a44"/>
<text x="453.3" y="151.8" font-size="6.45" text-anchor="start" fill="#231f20">NK cells</text>
<circle cx="447.7" cy="157.7" r="2.4" fill="#7a5cb8"/>
<text x="453.3" y="159.87" font-size="6.45" text-anchor="start" fill="#231f20">DUX4-r blasts</text>
<circle cx="447.7" cy="165.7" r="2.4" fill="#e8503a"/>
<text x="453.3" y="167.94" font-size="6.45" text-anchor="start" fill="#231f20">BCR::ABL1 blasts</text>
<circle cx="447.7" cy="173.8" r="2.4" fill="#f0a020"/>
<text x="453.3" y="176.01" font-size="6.45" text-anchor="start" fill="#231f20">ETV6::RUNX1 blasts</text>
<circle cx="447.7" cy="181.9" r="2.4" fill="#8cc040"/>
<text x="453.3" y="184.07999999999998" font-size="6.45" text-anchor="start" fill="#231f20">HeH blasts</text>
<text x="7" y="247.5" font-size="12" text-anchor="start" fill="#000" font-weight="bold">D</text>
<rect x="37.4" y="324.64" width="5.8" height="4.36" fill="#6cc070"/>
<rect x="37.4" y="324.28" width="5.8" height="0.36" fill="#1f6fc5"/>
<rect x="37.4" y="322.83" width="5.8" height="1.45" fill="#b10c15"/>
<rect x="37.4" y="321.74" width="5.8" height="1.09" fill="#f9a76c"/>
<rect x="37.4" y="256.40" width="5.8" height="65.34" fill="#c3c3c3"/>
<rect x="43.8" y="324.28" width="5.8" height="4.72" fill="#6cc070"/>
<rect x="43.8" y="321.74" width="5.8" height="2.54" fill="#1f6fc5"/>
<rect x="43.8" y="313.75" width="5.8" height="7.99" fill="#b10c15"/>
<rect x="43.8" y="256.40" width="5.8" height="57.35" fill="#c3c3c3"/>
<rect x="50.2" y="322.10" width="5.8" height="6.90" fill="#6cc070"/>
<rect x="50.2" y="320.65" width="5.8" height="1.45" fill="#1f6fc5"/>
<rect x="50.2" y="315.57" width="5.8" height="5.08" fill="#b10c15"/>
<rect x="50.2" y="256.40" width="5.8" height="59.17" fill="#c3c3c3"/>
<rect x="56.6" y="321.01" width="5.8" height="7.99" fill="#6cc070"/>
<rect x="56.6" y="317.02" width="5.8" height="3.99" fill="#1f6fc5"/>
<rect x="56.6" y="256.40" width="5.8" height="60.62" fill="#c3c3c3"/>
<rect x="63.0" y="326.10" width="5.8" height="2.90" fill="#1a8a4a"/>
<rect x="63.0" y="285.80" width="5.8" height="40.29" fill="#6cc070"/>
<rect x="63.0" y="281.45" width="5.8" height="4.36" fill="#1f6fc5"/>
<rect x="63.0" y="280.72" width="5.8" height="0.73" fill="#7fb3e3"/>
<rect x="63.0" y="279.41" width="5.8" height="1.31" fill="#d8196e"/>
<rect x="63.0" y="261.99" width="5.8" height="17.42" fill="#d94f1a"/>
<rect x="63.0" y="258.72" width="5.8" height="3.27" fill="#b10c15"/>
<rect x="63.0" y="257.27" width="5.8" height="1.45" fill="#f9a76c"/>
<rect x="63.0" y="256.40" width="5.8" height="0.87" fill="#c3c3c3"/>
<rect x="69.4" y="270.92" width="5.8" height="58.08" fill="#1f6fc5"/>
<rect x="69.4" y="257.49" width="5.8" height="13.43" fill="#7fb3e3"/>
<rect x="69.4" y="257.13" width="5.8" height="0.36" fill="#d8196e"/>
<rect x="69.4" y="256.40" width="5.8" height="0.73" fill="#c3c3c3"/>
<rect x="75.8" y="323.19" width="5.8" height="5.81" fill="#7fb3e3"/>
<rect x="75.8" y="321.01" width="5.8" height="2.18" fill="#d8196e"/>
<rect x="75.8" y="318.11" width="5.8" height="2.90" fill="#d94f1a"/>
<rect x="75.8" y="311.58" width="5.8" height="6.53" fill="#b10c15"/>
<rect x="75.8" y="304.32" width="5.8" height="7.26" fill="#5fbf86"/>
<rect x="75.8" y="291.25" width="5.8" height="13.07" fill="#f9a76c"/>
<rect x="75.8" y="275.28" width="5.8" height="15.97" fill="#1fa59c"/>
<rect x="75.8" y="256.40" width="5.8" height="18.88" fill="#f6b21f"/>
<path d="M36.3,256 V332 H82.8" fill="none" stroke="#231f20" stroke-width="1.1"/>
<line x1="34" y1="256.4" x2="36.3" y2="256.4" stroke="#231f20" stroke-width="0.7"/>
<text x="32.5" y="258.59999999999997" font-size="6.3" text-anchor="end" fill="#231f20">100</text>
<line x1="34" y1="274.54999999999995" x2="36.3" y2="274.54999999999995" stroke="#231f20" stroke-width="0.7"/>
<text x="32.5" y="276.74999999999994" font-size="6.3" text-anchor="end" fill="#231f20">75</text>
<line x1="34" y1="292.7" x2="36.3" y2="292.7" stroke="#231f20" stroke-width="0.7"/>
<text x="32.5" y="294.9" font-size="6.3" text-anchor="end" fill="#231f20">50</text>
<line x1="34" y1="310.85" x2="36.3" y2="310.85" stroke="#231f20" stroke-width="0.7"/>
<text x="32.5" y="313.05" font-size="6.3" text-anchor="end" fill="#231f20">25</text>
<line x1="34" y1="329.0" x2="36.3" y2="329.0" stroke="#231f20" stroke-width="0.7"/>
<text x="32.5" y="331.2" font-size="6.3" text-anchor="end" fill="#231f20">0</text>
<line x1="40.3" y1="332" x2="40.3" y2="335" stroke="#231f20" stroke-width="0.7"/>
<line x1="46.699999999999996" y1="332" x2="46.699999999999996" y2="335" stroke="#231f20" stroke-width="0.7"/>
<line x1="53.1" y1="332" x2="53.1" y2="335" stroke="#231f20" stroke-width="0.7"/>
<line x1="59.5" y1="332" x2="59.5" y2="335" stroke="#231f20" stroke-width="0.7"/>
<line x1="65.9" y1="332" x2="65.9" y2="335" stroke="#231f20" stroke-width="0.7"/>
<line x1="72.30000000000001" y1="332" x2="72.30000000000001" y2="335" stroke="#231f20" stroke-width="0.7"/>
<line x1="78.7" y1="332" x2="78.7" y2="335" stroke="#231f20" stroke-width="0.7"/>
<text x="13.5" y="292.5" font-size="6.7" text-anchor="middle" fill="#231f20" transform="rotate(-90 13.5 292.5)">Cell type proportion (%)</text>
<text x="41.199999999999996" y="340.2" font-size="6.6" text-anchor="end" fill="#231f20" transform="rotate(-45 41.199999999999996 340.2)">DUX4-r</text>
<text x="47.599999999999994" y="340.2" font-size="6.6" text-anchor="end" fill="#231f20" transform="rotate(-45 47.599999999999994 340.2)">BCR::ABL1</text>
<text x="54.0" y="340.2" font-size="6.6" text-anchor="end" fill="#231f20" transform="rotate(-45 54.0 340.2)">ETV6::RUNX1</text>
<text x="60.4" y="340.2" font-size="6.6" text-anchor="end" fill="#231f20" transform="rotate(-45 60.4 340.2)">HeH</text>
<text x="66.8" y="340.2" font-size="6.6" text-anchor="end" fill="#231f20" transform="rotate(-45 66.8 340.2)">NBM-MNC</text>
<text x="73.2" y="340.2" font-size="6.6" text-anchor="end" fill="#231f20" transform="rotate(-45 73.2 340.2)">NBM-CD19</text>
<text x="79.6" y="340.2" font-size="6.6" text-anchor="end" fill="#231f20" transform="rotate(-45 79.6 340.2)">NBM-CD34</text>
<rect x="84.6" y="254.30" width="5.9" height="6.45" fill="#c3c3c3"/>
<text x="93.8" y="259.5" font-size="6.45" text-anchor="start" fill="#231f20">ALL blast cells</text>
<rect x="84.6" y="260.73" width="5.9" height="6.45" fill="#f6b21f"/>
<text x="93.8" y="265.93" font-size="6.45" text-anchor="start" fill="#231f20">HSC</text>
<rect x="84.6" y="267.16" width="5.9" height="6.45" fill="#1fa59c"/>
<text x="93.8" y="272.36" font-size="6.45" text-anchor="start" fill="#231f20">LMPP</text>
<rect x="84.6" y="273.59" width="5.9" height="6.45" fill="#f9a76c"/>
<text x="93.8" y="278.79" font-size="6.45" text-anchor="start" fill="#231f20">GMP</text>
<rect x="84.6" y="280.02" width="5.9" height="6.45" fill="#5fbf86"/>
<text x="93.8" y="285.21999999999997" font-size="6.45" text-anchor="start" fill="#231f20">Megakaryocytic cells</text>
<rect x="84.6" y="286.45" width="5.9" height="6.45" fill="#b10c15"/>
<text x="93.8" y="291.65" font-size="6.45" text-anchor="start" fill="#231f20">Erythroid</text>
<rect x="84.6" y="292.88" width="5.9" height="6.45" fill="#d94f1a"/>
<text x="93.8" y="298.08" font-size="6.45" text-anchor="start" fill="#231f20">Monocytes</text>
<rect x="84.6" y="299.31" width="5.9" height="6.45" fill="#d8196e"/>
<text x="93.8" y="304.51" font-size="6.45" text-anchor="start" fill="#231f20">Dendritic cells</text>
<rect x="84.6" y="305.74" width="5.9" height="6.45" fill="#7fb3e3"/>
<text x="93.8" y="310.94" font-size="6.45" text-anchor="start" fill="#231f20">Progenitor B cells</text>
<rect x="84.6" y="312.17" width="5.9" height="6.45" fill="#1f6fc5"/>
<text x="93.8" y="317.37" font-size="6.45" text-anchor="start" fill="#231f20">B cells</text>
<rect x="84.6" y="318.60" width="5.9" height="6.45" fill="#6cc070"/>
<text x="93.8" y="323.8" font-size="6.45" text-anchor="start" fill="#231f20">T cells</text>
<rect x="84.6" y="325.03" width="5.9" height="6.45" fill="#1a8a4a"/>
<text x="93.8" y="330.22999999999996" font-size="6.45" text-anchor="start" fill="#231f20">NK cells</text>
<text x="155.5" y="247.5" font-size="12" text-anchor="start" fill="#000" font-weight="bold">E</text>
<text x="171.4" y="255.2" font-size="6.7" text-anchor="middle" fill="#231f20">CD10</text>
<text x="198" y="255.2" font-size="6.7" text-anchor="middle" fill="#231f20">CD19</text>
<text x="223.8" y="255.2" font-size="6.7" text-anchor="middle" fill="#231f20">CD22</text>
<text x="251.5" y="255.2" font-size="6.7" text-anchor="middle" fill="#231f20">CD34</text>
<text x="276" y="255.2" font-size="6.7" text-anchor="middle" fill="#231f20">CD20</text>
<text x="301.5" y="255.2" font-size="6.7" text-anchor="middle" fill="#231f20">CD45</text>
<path d="M160.6,277.3L160.6,277.3L164.1,277.2L164.3,277.2L164.6,277.2L164.8,277.2L165.0,277.2L165.2,277.2L165.4,277.2L165.6,277.1L165.8,277.1L166.0,277.1L166.2,277.0L166.4,277.0L166.6,276.9L166.8,276.9L167.1,276.8L167.3,276.8L167.5,276.7L167.7,276.6L167.9,276.5L168.1,276.4L168.3,276.4L168.5,276.2L168.7,276.1L168.9,276.0L169.1,275.9L169.3,275.8L169.6,275.7L169.8,275.5L170.0,275.4L170.2,275.3L170.4,275.1L170.6,275.0L170.8,274.9L171.0,274.7L171.2,274.6L171.4,274.5L171.6,274.4L171.8,274.3L172.0,274.2L172.3,274.1L172.5,274.0L172.7,274.0L172.9,273.9L173.1,273.9L173.3,273.9L173.5,273.9L173.7,273.9L173.9,273.9L174.1,274.0L174.3,274.0L174.5,274.1L174.8,274.2L175.0,274.3L175.2,274.4L175.4,274.5L175.6,274.6L175.8,274.7L176.0,274.8L176.2,275.0L176.4,275.1L176.6,275.2L176.8,275.4L177.0,275.5L177.3,275.6L177.5,275.8L177.7,275.9L177.9,276.0L178.1,276.1L178.3,276.2L178.5,276.3L178.7,276.4L178.9,276.5L179.1,276.6L179.3,276.7L179.5,276.8L179.8,276.8L180.0,276.9L180.2,276.9L180.4,277.0L180.6,277.0L180.8,277.1L181.0,277.1L181.2,277.1L181.4,277.1L181.6,277.2L181.8,277.2L182.0,277.2L182.3,277.2L182.5,277.2L182.7,277.2L182.9,277.3L183.5,277.3L183.5,277.3Z" fill="#8cc43c" fill-opacity="0.9" stroke="#1a1a1a" stroke-width="0.55"/>
<path d="M160.6,282.8L160.6,282.8L161.0,282.1L161.2,278.7L161.4,276.7L161.6,279.0L161.8,280.4L162.1,281.3L162.3,281.8L162.5,282.2L162.7,282.4L162.9,282.6L163.1,282.6L163.3,282.7L163.5,282.7L163.7,282.8L163.9,282.8L165.2,282.8L165.4,282.7L165.6,282.7L165.8,282.7L166.0,282.7L166.2,282.7L166.4,282.7L166.6,282.6L166.8,282.6L167.1,282.6L167.3,282.5L167.5,282.5L167.7,282.5L167.9,282.4L168.1,282.4L168.3,282.3L168.5,282.2L168.7,282.2L168.9,282.1L169.1,282.0L169.3,281.9L169.6,281.8L169.8,281.7L170.0,281.6L170.2,281.5L170.4,281.4L170.6,281.3L170.8,281.2L171.0,281.1L171.2,280.9L171.4,280.8L171.6,280.7L171.8,280.6L172.0,280.5L172.3,280.4L172.5,280.3L172.7,280.2L172.9,280.1L173.1,280.0L173.3,280.0L173.5,279.9L173.7,279.9L173.9,279.8L174.1,279.8L174.3,279.8L174.5,279.8L174.8,279.8L175.0,279.9L175.2,279.9L175.4,280.0L175.6,280.0L175.8,280.1L176.0,280.2L176.2,280.3L176.4,280.4L176.6,280.5L176.8,280.6L177.0,280.7L177.3,280.8L177.5,280.9L177.7,281.1L177.9,281.2L178.1,281.3L178.3,281.4L178.5,281.5L178.7,281.6L178.9,281.7L179.1,281.8L179.3,281.9L179.5,282.0L179.8,282.1L180.0,282.2L180.2,282.2L180.4,282.3L180.6,282.4L180.8,282.4L181.0,282.5L181.2,282.5L181.4,282.5L181.6,282.6L181.8,282.6L182.0,282.6L182.3,282.7L182.5,282.7L182.7,282.7L182.9,282.7L183.1,282.7L183.3,282.7L183.5,282.8L183.5,282.8Z" fill="#f3a51f" fill-opacity="0.9" stroke="#1a1a1a" stroke-width="0.55"/>
<path d="M160.6,288.3L160.6,288.2L160.8,288.1L161.0,287.4L161.2,284.0L161.4,282.0L161.6,284.2L161.8,285.6L162.1,286.5L162.3,287.0L162.5,287.3L162.7,287.5L162.9,287.6L163.1,287.7L163.3,287.7L163.5,287.7L163.7,287.7L163.9,287.6L164.1,287.6L164.3,287.5L164.6,287.5L164.8,287.5L165.0,287.4L165.2,287.3L165.4,287.3L165.6,287.2L165.8,287.2L166.0,287.1L166.2,287.1L166.4,287.0L166.6,287.0L166.8,286.9L167.1,286.9L167.3,286.8L167.5,286.8L167.7,286.7L167.9,286.7L168.1,286.7L168.3,286.6L168.5,286.6L168.7,286.6L168.9,286.6L169.1,286.5L169.3,286.5L169.6,286.5L169.8,286.5L170.0,286.5L170.2,286.5L170.4,286.5L170.6,286.6L170.8,286.6L171.0,286.6L171.2,286.6L171.4,286.7L171.6,286.7L171.8,286.7L172.0,286.8L172.3,286.8L172.5,286.9L172.7,286.9L172.9,287.0L173.1,287.0L173.3,287.1L173.5,287.1L173.7,287.2L173.9,287.2L174.1,287.3L174.3,287.3L174.5,287.4L174.8,287.5L175.0,287.5L175.2,287.6L175.4,287.6L175.6,287.7L175.8,287.7L176.0,287.7L176.2,287.8L176.4,287.8L176.6,287.9L176.8,287.9L177.0,287.9L177.3,288.0L177.5,288.0L177.7,288.0L177.9,288.1L178.1,288.1L178.3,288.1L178.5,288.1L178.7,288.1L178.9,288.2L179.1,288.2L179.3,288.2L179.5,288.2L179.8,288.2L180.0,288.2L180.2,288.2L180.4,288.3L180.6,288.3L180.8,288.3L181.0,288.3L183.5,288.3L183.5,288.3Z" fill="#e95a2e" fill-opacity="0.9" stroke="#1a1a1a" stroke-width="0.55"/>
<path d="M160.6,293.8L160.6,293.6L160.8,293.6L161.0,292.9L161.2,289.5L161.4,287.5L161.6,289.6L161.8,291.0L162.1,291.9L162.3,292.4L162.5,292.7L162.7,292.9L162.9,293.0L163.1,293.0L163.3,293.0L163.5,293.0L163.7,292.9L163.9,292.9L164.1,292.8L164.3,292.8L164.6,292.7L164.8,292.6L165.0,292.6L165.2,292.5L165.4,292.5L165.6,292.4L165.8,292.3L166.0,292.3L166.2,292.2L166.4,292.2L166.6,292.2L166.8,292.1L167.1,292.1L167.3,292.1L167.5,292.0L167.7,292.0L167.9,292.0L168.1,292.0L168.3,292.0L168.5,292.1L168.7,292.1L168.9,292.1L169.1,292.1L169.3,292.2L169.6,292.2L169.8,292.3L170.0,292.3L170.2,292.4L170.4,292.4L170.6,292.5L170.8,292.6L171.0,292.6L171.2,292.7L171.4,292.8L171.6,292.8L171.8,292.9L172.0,293.0L172.3,293.0L172.5,293.1L172.7,293.1L172.9,293.2L173.1,293.2L173.3,293.3L173.5,293.3L173.7,293.4L173.9,293.4L174.1,293.5L174.3,293.5L174.5,293.5L174.8,293.6L175.0,293.6L175.2,293.6L175.4,293.7L175.6,293.7L175.8,293.7L176.0,293.7L176.2,293.7L176.4,293.7L176.6,293.8L176.8,293.8L177.0,293.8L177.3,293.8L183.5,293.8L183.5,293.8Z" fill="#7f5cb8" fill-opacity="0.9" stroke="#1a1a1a" stroke-width="0.55"/>
<path d="M160.6,299.3L160.6,299.3L161.0,298.5L161.2,294.3L161.4,291.9L161.6,294.6L161.8,296.3L162.1,297.4L162.3,298.1L162.5,298.6L162.7,298.9L162.9,299.0L163.1,299.1L163.3,299.2L163.5,299.3L163.7,299.3L163.9,299.3L183.5,299.3L183.5,299.3Z" fill="#2a8c3e" fill-opacity="0.9" stroke="#1a1a1a" stroke-width="0.55"/>
<path d="M160.6,304.9L160.6,304.8L161.0,304.0L161.2,299.8L161.4,297.4L161.6,300.1L161.8,301.8L162.1,302.9L162.3,303.6L162.5,304.1L162.7,304.4L162.9,304.5L163.1,304.7L163.3,304.7L163.5,304.8L163.7,304.8L163.9,304.8L183.5,304.9L183.5,304.9Z" fill="#6cc070" fill-opacity="0.9" stroke="#1a1a1a" stroke-width="0.55"/>
<path d="M160.6,310.4L160.6,310.4L161.0,309.5L161.2,305.3L161.4,302.9L161.6,305.6L161.8,307.3L162.1,308.4L162.3,309.1L162.5,309.6L162.7,309.9L162.9,310.0L163.1,310.2L163.3,310.2L163.5,310.3L163.7,310.3L163.9,310.3L183.5,310.4L183.5,310.4Z" fill="#2465b0" fill-opacity="0.9" stroke="#1a1a1a" stroke-width="0.55"/>
<path d="M160.6,315.9L160.6,315.9L160.8,315.8L161.0,315.1L161.2,311.4L161.4,309.3L161.6,311.7L161.8,313.2L162.1,314.1L162.3,314.6L162.5,315.0L162.7,315.1L162.9,315.1L163.1,315.1L163.3,314.9L163.5,314.7L163.7,314.5L163.9,314.2L164.1,313.9L164.3,313.6L164.6,313.4L164.8,313.1L165.0,313.0L165.2,312.9L165.4,312.9L165.6,313.0L165.8,313.2L166.0,313.4L166.2,313.6L166.4,313.9L166.6,314.1L166.8,314.3L167.1,314.5L167.3,314.6L167.5,314.7L167.7,314.8L167.9,314.9L168.1,314.9L168.3,314.9L168.5,314.9L168.7,314.9L168.9,314.9L169.1,314.9L169.3,314.9L169.6,314.9L169.8,314.9L170.0,314.9L170.2,314.9L170.4,314.9L170.6,314.9L170.8,314.9L171.0,314.9L171.2,315.0L171.4,315.0L171.6,315.0L171.8,315.1L172.0,315.1L172.3,315.1L172.5,315.2L172.7,315.2L172.9,315.2L173.1,315.3L173.3,315.3L173.5,315.4L173.7,315.4L173.9,315.4L174.1,315.5L174.3,315.5L174.5,315.5L174.8,315.6L175.0,315.6L175.2,315.6L175.4,315.7L175.6,315.7L175.8,315.7L176.0,315.7L176.2,315.7L176.4,315.8L176.6,315.8L176.8,315.8L177.0,315.8L177.3,315.8L177.5,315.8L177.7,315.8L183.5,315.9L183.5,315.9Z" fill="#6fb1e6" fill-opacity="0.9" stroke="#1a1a1a" stroke-width="0.55"/>
<path d="M160.6,321.4L160.6,321.4L161.0,320.5L161.2,316.4L161.4,313.9L161.6,316.6L161.8,318.4L162.1,319.5L162.3,320.2L162.5,320.6L162.7,320.9L162.9,321.1L163.1,321.2L163.3,321.3L163.5,321.3L163.7,321.3L163.9,321.3L183.5,321.4L183.5,321.4Z" fill="#c81e5a" fill-opacity="0.9" stroke="#1a1a1a" stroke-width="0.55"/>
<path d="M160.6,326.9L160.6,326.9L161.0,326.0L161.2,321.9L161.4,319.4L161.6,322.1L161.8,323.9L162.1,325.0L162.3,325.7L162.5,326.1L162.7,326.4L162.9,326.6L163.1,326.7L163.3,326.8L163.5,326.8L163.7,326.8L163.9,326.9L183.5,326.9L183.5,326.9Z" fill="#d9561f" fill-opacity="0.9" stroke="#1a1a1a" stroke-width="0.55"/>
<path d="M160.6,332.4L160.6,332.4L161.0,331.4L161.2,326.8L161.4,324.0L161.6,327.1L161.8,329.0L162.1,330.3L162.3,331.0L162.5,331.5L162.7,331.9L162.9,332.1L163.1,332.2L163.3,332.3L163.5,332.3L163.7,332.3L163.9,332.4L183.5,332.4L183.5,332.4Z" fill="#a60f1a" fill-opacity="0.9" stroke="#1a1a1a" stroke-width="0.55"/>
<path d="M160.6,337.9L160.6,337.9L161.0,337.0L161.2,332.9L161.4,330.4L161.6,333.2L161.8,334.9L162.1,336.0L162.3,336.7L162.5,337.1L162.7,337.4L162.9,337.6L163.1,337.7L163.3,337.8L163.5,337.8L163.7,337.9L163.9,337.9L183.5,337.9L183.5,337.9Z" fill="#5cbf86" fill-opacity="0.9" stroke="#1a1a1a" stroke-width="0.55"/>
<path d="M160.6,343.4L160.6,343.4L161.0,342.5L161.2,338.4L161.4,335.9L161.6,338.7L161.8,340.4L162.1,341.5L162.3,342.2L162.5,342.7L162.7,342.9L162.9,343.1L163.1,343.2L163.3,343.3L163.5,343.3L163.7,343.4L163.9,343.4L183.5,343.4L183.5,343.4Z" fill="#f0b27a" fill-opacity="0.9" stroke="#1a1a1a" stroke-width="0.55"/>
<path d="M160.6,348.9L160.6,348.9L161.0,348.1L161.2,343.9L161.4,341.5L161.6,344.2L161.8,345.9L162.1,347.0L162.3,347.7L162.5,348.2L162.7,348.4L162.9,348.6L163.1,348.7L163.3,348.8L163.5,348.9L163.7,348.9L163.9,348.9L183.5,348.9L183.5,348.9Z" fill="#22a7a0" fill-opacity="0.9" stroke="#1a1a1a" stroke-width="0.55"/>
<path d="M160.6,354.4L160.6,354.4L161.0,353.5L161.2,348.8L161.4,346.0L161.6,349.1L161.8,351.1L162.1,352.3L162.3,353.1L162.5,353.6L162.7,353.9L162.9,354.1L163.1,354.2L163.3,354.3L163.5,354.4L163.7,354.4L163.9,354.4L183.5,354.4L183.5,354.4Z" fill="#e9b52a" fill-opacity="0.9" stroke="#1a1a1a" stroke-width="0.55"/>
<path d="M187.2,277.3L187.2,277.3L189.4,277.2L189.7,277.2L189.9,277.2L190.1,277.2L190.3,277.2L190.5,277.1L190.7,277.1L190.9,277.1L191.1,277.0L191.3,277.0L191.5,276.9L191.7,276.9L191.9,276.8L192.1,276.7L192.3,276.6L192.5,276.5L192.7,276.4L192.9,276.3L193.1,276.2L193.3,276.0L193.5,275.9L193.7,275.7L193.9,275.6L194.2,275.4L194.4,275.2L194.6,275.0L194.8,274.9L195.0,274.7L195.2,274.5L195.4,274.4L195.6,274.2L195.8,274.1L196.0,273.9L196.2,273.8L196.4,273.7L196.6,273.6L196.8,273.6L197.0,273.5L197.2,273.5L197.4,273.5L197.6,273.5L197.8,273.6L198.0,273.6L198.2,273.7L198.4,273.8L198.7,273.9L198.9,274.1L199.1,274.2L199.3,274.4L199.5,274.5L199.7,274.7L199.9,274.9L200.1,275.0L200.3,275.2L200.5,275.4L200.7,275.6L200.9,275.7L201.1,275.9L201.3,276.0L201.5,276.2L201.7,276.3L201.9,276.4L202.1,276.5L202.3,276.6L202.5,276.7L202.7,276.8L202.9,276.9L203.2,276.9L203.4,277.0L203.6,277.0L203.8,277.1L204.0,277.1L204.2,277.1L204.4,277.2L204.6,277.2L204.8,277.2L205.0,277.2L205.2,277.2L205.4,277.3L209.7,277.3L209.7,277.3Z" fill="#8cc43c" fill-opacity="0.9" stroke="#1a1a1a" stroke-width="0.55"/>
<path d="M187.2,282.8L187.2,282.8L187.4,282.7L187.6,282.1L187.8,279.0L188.0,277.1L188.2,279.1L188.4,280.4L188.6,281.2L188.8,281.7L189.0,282.0L189.2,282.1L189.4,282.2L189.7,282.2L189.9,282.2L190.1,282.1L190.3,282.1L190.5,282.0L190.7,281.9L190.9,281.8L191.1,281.7L191.3,281.5L191.5,281.4L191.7,281.3L191.9,281.1L192.1,280.9L192.3,280.8L192.5,280.6L192.7,280.5L192.9,280.3L193.1,280.2L193.3,280.0L193.5,279.9L193.7,279.8L193.9,279.7L194.2,279.6L194.4,279.5L194.6,279.5L194.8,279.4L195.0,279.4L195.2,279.4L195.4,279.4L195.6,279.5L195.8,279.5L196.0,279.6L196.2,279.7L196.4,279.8L196.6,279.9L196.8,280.0L197.0,280.2L197.2,280.3L197.4,280.5L197.6,280.6L197.8,280.8L198.0,281.0L198.2,281.1L198.4,281.3L198.7,281.4L198.9,281.5L199.1,281.7L199.3,281.8L199.5,281.9L199.7,282.0L199.9,282.1L200.1,282.2L200.3,282.3L200.5,282.4L200.7,282.4L200.9,282.5L201.1,282.5L201.3,282.6L201.5,282.6L201.7,282.6L201.9,282.7L202.1,282.7L202.3,282.7L202.5,282.7L202.7,282.7L202.9,282.8L209.7,282.8L209.7,282.8Z" fill="#f3a51f" fill-opacity="0.9" stroke="#1a1a1a" stroke-width="0.55"/>
<path d="M187.2,288.3L187.2,288.3L187.4,288.2L187.6,287.6L187.8,284.5L188.0,282.6L188.2,284.6L188.4,285.9L188.6,286.7L188.8,287.1L189.0,287.4L189.2,287.6L189.4,287.6L189.7,287.7L189.9,287.6L190.1,287.6L190.3,287.5L190.5,287.4L190.7,287.3L190.9,287.1L191.1,287.0L191.3,286.9L191.5,286.7L191.7,286.5L191.9,286.4L192.1,286.2L192.3,286.0L192.5,285.8L192.7,285.7L192.9,285.5L193.1,285.3L193.3,285.2L193.5,285.0L193.7,284.9L193.9,284.7L194.2,284.6L194.4,284.6L194.6,284.5L194.8,284.4L195.0,284.4L195.2,284.4L195.4,284.4L195.6,284.5L195.8,284.6L196.0,284.6L196.2,284.7L196.4,284.9L196.6,285.0L196.8,285.2L197.0,285.3L197.2,285.5L197.4,285.7L197.6,285.8L197.8,286.0L198.0,286.2L198.2,286.4L198.4,286.5L198.7,286.7L198.9,286.9L199.1,287.0L199.3,287.2L199.5,287.3L199.7,287.4L199.9,287.5L200.1,287.6L200.3,287.7L200.5,287.8L200.7,287.9L200.9,287.9L201.1,288.0L201.3,288.0L201.5,288.1L201.7,288.1L201.9,288.2L202.1,288.2L202.3,288.2L202.5,288.2L202.7,288.3L202.9,288.3L203.2,288.3L209.7,288.3L209.7,288.3Z" fill="#e95a2e" fill-opacity="0.9" stroke="#1a1a1a" stroke-width="0.55"/>
<path d="M187.2,293.8L187.2,293.8L187.4,293.8L187.6,293.1L187.8,290.0L188.0,288.2L188.2,290.2L188.4,291.5L188.6,292.3L188.8,292.8L189.0,293.1L189.2,293.3L189.4,293.4L189.7,293.5L189.9,293.5L190.1,293.5L190.3,293.5L190.5,293.4L190.7,293.4L190.9,293.3L191.1,293.3L191.3,293.2L191.5,293.1L191.7,293.0L191.9,292.9L192.1,292.8L192.3,292.7L192.5,292.6L192.7,292.4L192.9,292.3L193.1,292.2L193.3,292.0L193.5,291.9L193.7,291.8L193.9,291.6L194.2,291.5L194.4,291.3L194.6,291.2L194.8,291.1L195.0,290.9L195.2,290.8L195.4,290.7L195.6,290.6L195.8,290.6L196.0,290.5L196.2,290.5L196.4,290.4L196.6,290.4L196.8,290.4L197.0,290.5L197.2,290.5L197.4,290.5L197.6,290.6L197.8,290.7L198.0,290.8L198.2,290.9L198.4,291.0L198.7,291.1L198.9,291.3L199.1,291.4L199.3,291.6L199.5,291.7L199.7,291.8L199.9,292.0L200.1,292.1L200.3,292.3L200.5,292.4L200.7,292.5L200.9,292.6L201.1,292.8L201.3,292.9L201.5,293.0L201.7,293.1L201.9,293.2L202.1,293.2L202.3,293.3L202.5,293.4L202.7,293.4L202.9,293.5L203.2,293.5L203.4,293.6L203.6,293.6L203.8,293.7L204.0,293.7L204.2,293.7L204.4,293.7L204.6,293.7L204.8,293.8L205.0,293.8L205.2,293.8L209.7,293.8L209.7,293.8Z" fill="#7f5cb8" fill-opacity="0.9" stroke="#1a1a1a" stroke-width="0.55"/>
<path d="M187.2,299.3L187.2,299.3L187.6,298.5L187.8,294.3L188.0,291.9L188.2,294.6L188.4,296.3L188.6,297.4L188.8,298.1L189.0,298.6L189.2,298.9L189.4,299.0L189.7,299.1L189.9,299.2L190.1,299.3L190.3,299.3L190.5,299.3L209.7,299.3L209.7,299.3Z" fill="#2a8c3e" fill-opacity="0.9" stroke="#1a1a1a" stroke-width="0.55"/>
<path d="M187.2,304.9L187.2,304.8L187.6,304.0L187.8,299.8L188.0,297.4L188.2,300.1L188.4,301.8L188.6,302.9L188.8,303.6L189.0,304.1L189.2,304.4L189.4,304.5L189.7,304.7L189.9,304.7L190.1,304.8L190.3,304.8L190.5,304.8L209.7,304.9L209.7,304.9Z" fill="#6cc070" fill-opacity="0.9" stroke="#1a1a1a" stroke-width="0.55"/>
<path d="M187.2,310.4L187.2,310.2L187.4,310.1L187.6,309.2L187.8,305.0L188.0,302.5L188.2,305.1L188.4,306.7L188.6,307.7L188.8,308.2L189.0,308.5L189.2,308.6L189.4,308.6L189.7,308.5L189.9,308.3L190.1,308.1L190.3,307.9L190.5,307.8L190.7,307.6L190.9,307.4L191.1,307.3L191.3,307.1L191.5,307.1L191.7,307.0L191.9,307.0L192.1,307.0L192.3,307.1L192.5,307.2L192.7,307.3L192.9,307.5L193.1,307.6L193.3,307.8L193.5,308.0L193.7,308.1L193.9,308.3L194.2,308.4L194.4,308.6L194.6,308.7L194.8,308.8L195.0,308.9L195.2,309.0L195.4,309.0L195.6,309.1L195.8,309.1L196.0,309.2L196.2,309.2L196.4,309.3L196.6,309.3L196.8,309.3L197.0,309.4L197.2,309.4L197.4,309.5L197.6,309.5L197.8,309.6L198.0,309.6L198.2,309.7L198.4,309.8L198.7,309.8L198.9,309.9L199.1,309.9L199.3,310.0L199.5,310.0L199.7,310.1L199.9,310.1L200.1,310.1L200.3,310.2L200.5,310.2L200.7,310.2L200.9,310.2L201.1,310.3L201.3,310.3L201.5,310.3L201.7,310.3L209.7,310.4L209.7,310.4Z" fill="#2465b0" fill-opacity="0.9" stroke="#1a1a1a" stroke-width="0.55"/>
<path d="M187.2,315.9L187.2,315.9L187.4,315.8L187.6,315.1L187.8,311.4L188.0,309.3L188.2,311.7L188.4,313.2L188.6,314.1L188.8,314.7L189.0,315.1L189.2,315.3L189.4,315.4L189.7,315.5L189.9,315.5L190.1,315.5L190.3,315.4L190.5,315.4L190.7,315.3L190.9,315.3L191.1,315.2L191.3,315.1L191.5,315.0L191.7,315.0L191.9,314.9L192.1,314.8L192.3,314.7L192.5,314.6L192.7,314.6L192.9,314.5L193.1,314.5L193.3,314.4L193.5,314.4L193.7,314.4L193.9,314.4L194.2,314.4L194.4,314.4L194.6,314.4L194.8,314.5L195.0,314.5L195.2,314.6L195.4,314.6L195.6,314.7L195.8,314.8L196.0,314.9L196.2,315.0L196.4,315.0L196.6,315.1L196.8,315.2L197.0,315.3L197.2,315.3L197.4,315.4L197.6,315.5L197.8,315.5L198.0,315.6L198.2,315.6L198.4,315.7L198.7,315.7L198.9,315.7L199.1,315.8L199.3,315.8L199.5,315.8L199.7,315.8L199.9,315.8L209.7,315.9L209.7,315.9Z" fill="#6fb1e6" fill-opacity="0.9" stroke="#1a1a1a" stroke-width="0.55"/>
<path d="M187.2,321.4L187.2,321.4L187.6,320.5L187.8,316.4L188.0,313.9L188.2,316.6L188.4,318.4L188.6,319.5L188.8,320.2L189.0,320.6L189.2,320.9L189.4,321.1L189.7,321.2L189.9,321.3L190.1,321.3L190.3,321.3L190.5,321.3L209.7,321.4L209.7,321.4Z" fill="#c81e5a" fill-opacity="0.9" stroke="#1a1a1a" stroke-width="0.55"/>
<path d="M187.2,326.9L187.2,326.9L187.6,326.0L187.8,321.9L188.0,319.4L188.2,322.1L188.4,323.9L188.6,325.0L188.8,325.7L189.0,326.1L189.2,326.4L189.4,326.6L189.7,326.7L189.9,326.8L190.1,326.8L190.3,326.8L190.5,326.9L209.7,326.9L209.7,326.9Z" fill="#d9561f" fill-opacity="0.9" stroke="#1a1a1a" stroke-width="0.55"/>
<path d="M187.2,332.4L187.2,332.4L187.6,331.5L187.8,327.4L188.0,324.9L188.2,327.7L188.4,329.4L188.6,330.5L188.8,331.2L189.0,331.6L189.2,331.9L189.4,332.1L189.7,332.2L189.9,332.3L190.1,332.3L190.3,332.3L190.5,332.4L209.7,332.4L209.7,332.4Z" fill="#a60f1a" fill-opacity="0.9" stroke="#1a1a1a" stroke-width="0.55"/>
<path d="M187.2,337.9L187.2,337.9L187.6,337.0L187.8,332.9L188.0,330.4L188.2,333.2L188.4,334.9L188.6,336.0L188.8,336.7L189.0,337.1L189.2,337.4L189.4,337.6L189.7,337.7L189.9,337.8L190.1,337.8L190.3,337.9L190.5,337.9L209.7,337.9L209.7,337.9Z" fill="#5cbf86" fill-opacity="0.9" stroke="#1a1a1a" stroke-width="0.55"/>
<path d="M187.2,343.4L187.2,343.4L187.6,342.5L187.8,338.4L188.0,335.9L188.2,338.7L188.4,340.4L188.6,341.5L188.8,342.2L189.0,342.7L189.2,342.9L189.4,343.1L189.7,343.2L189.9,343.3L190.1,343.3L190.3,343.4L190.5,343.4L209.7,343.4L209.7,343.4Z" fill="#f0b27a" fill-opacity="0.9" stroke="#1a1a1a" stroke-width="0.55"/>
<path d="M187.2,348.9L187.2,348.9L187.6,348.1L187.8,343.9L188.0,341.5L188.2,344.2L188.4,345.9L188.6,347.0L188.8,347.7L189.0,348.2L189.2,348.4L189.4,348.6L189.7,348.7L189.9,348.8L190.1,348.9L190.3,348.9L190.5,348.9L209.7,348.9L209.7,348.9Z" fill="#22a7a0" fill-opacity="0.9" stroke="#1a1a1a" stroke-width="0.55"/>
<path d="M187.2,354.4L187.2,354.4L187.6,353.5L187.8,348.8L188.0,346.0L188.2,349.1L188.4,351.1L188.6,352.3L188.8,353.1L189.0,353.6L189.2,353.9L189.4,354.1L189.7,354.2L189.9,354.3L190.1,354.4L190.3,354.4L190.5,354.4L209.7,354.4L209.7,354.4Z" fill="#e9b52a" fill-opacity="0.9" stroke="#1a1a1a" stroke-width="0.55"/>
<path d="M213.4,277.3L213.4,277.3L213.8,277.2L214.0,277.2L214.2,277.1L214.5,277.1L214.7,277.0L214.9,276.8L215.1,276.7L215.3,276.5L215.5,276.3L215.7,276.1L215.9,275.9L216.1,275.7L216.3,275.5L216.6,275.4L216.8,275.3L217.0,275.3L217.2,275.4L217.4,275.5L217.6,275.7L217.8,275.9L218.0,276.1L218.2,276.3L218.4,276.5L218.7,276.6L218.9,276.8L219.1,276.9L219.3,276.9L219.5,277.0L219.7,276.9L219.9,276.9L220.1,276.8L220.3,276.8L220.5,276.6L220.8,276.5L221.0,276.3L221.2,276.1L221.4,275.9L221.6,275.6L221.8,275.3L222.0,275.0L222.2,274.7L222.4,274.3L222.6,274.0L222.8,273.6L223.1,273.2L223.3,272.8L223.5,272.5L223.7,272.1L223.9,271.8L224.1,271.6L224.3,271.4L224.5,271.2L224.7,271.1L225.0,271.1L225.2,271.1L225.4,271.2L225.6,271.4L225.8,271.6L226.0,271.8L226.2,272.1L226.4,272.5L226.6,272.8L226.8,273.2L227.1,273.6L227.3,274.0L227.5,274.3L227.7,274.7L227.9,275.0L228.1,275.3L228.3,275.6L228.5,275.9L228.7,276.1L228.9,276.3L229.2,276.5L229.4,276.6L229.6,276.8L229.8,276.9L230.0,277.0L230.2,277.0L230.4,277.1L230.6,277.1L230.8,277.2L231.0,277.2L231.2,277.2L231.5,277.3L236.5,277.3L236.5,277.3Z" fill="#8cc43c" fill-opacity="0.9" stroke="#1a1a1a" stroke-width="0.55"/>
<path d="M213.4,282.8L213.4,282.8L214.2,282.8L214.5,282.7L214.7,282.6L214.9,281.3L215.1,275.4L215.3,271.8L215.5,272.7L215.7,273.5L215.9,274.2L216.1,274.8L216.3,275.3L216.6,275.8L216.8,276.2L217.0,276.6L217.2,276.9L217.4,277.2L217.6,277.4L217.8,277.7L218.0,277.9L218.2,278.0L218.4,278.2L218.7,278.4L218.9,278.5L219.1,278.7L219.3,278.9L219.5,279.1L219.7,279.3L219.9,279.5L220.1,279.7L220.3,279.9L220.5,280.2L220.8,280.4L221.0,280.6L221.2,280.8L221.4,281.1L221.6,281.3L221.8,281.4L222.0,281.6L222.2,281.8L222.4,281.9L222.6,282.0L222.8,282.1L223.1,282.2L223.3,282.3L223.5,282.4L223.7,282.4L223.9,282.5L224.1,282.5L224.3,282.6L224.5,282.6L224.7,282.6L225.0,282.6L225.2,282.6L225.4,282.7L225.6,282.7L225.8,282.7L226.0,282.7L226.2,282.7L226.4,282.7L226.6,282.7L226.8,282.7L227.1,282.7L227.3,282.7L227.5,282.8L227.7,282.8L227.9,282.8L236.5,282.8L236.5,282.8Z" fill="#f3a51f" fill-opacity="0.9" stroke="#1a1a1a" stroke-width="0.55"/>
<path d="M213.4,288.3L213.4,288.3L214.2,288.3L214.5,288.2L214.7,288.2L214.9,286.8L215.1,280.9L215.3,277.3L215.5,278.2L215.7,279.0L215.9,279.8L216.1,280.4L216.3,281.0L216.6,281.5L216.8,282.0L217.0,282.4L217.2,282.8L217.4,283.1L217.6,283.4L217.8,283.6L218.0,283.8L218.2,284.0L218.4,284.1L218.7,284.3L218.9,284.4L219.1,284.5L219.3,284.6L219.5,284.7L219.7,284.8L219.9,284.9L220.1,285.0L220.3,285.1L220.5,285.2L220.8,285.3L221.0,285.5L221.2,285.6L221.4,285.7L221.6,285.9L221.8,286.0L222.0,286.2L222.2,286.4L222.4,286.5L222.6,286.7L222.8,286.8L223.1,287.0L223.3,287.1L223.5,287.2L223.7,287.3L223.9,287.5L224.1,287.6L224.3,287.7L224.5,287.7L224.7,287.8L225.0,287.9L225.2,287.9L225.4,288.0L225.6,288.0L225.8,288.1L226.0,288.1L226.2,288.1L226.4,288.2L226.6,288.2L226.8,288.2L227.1,288.2L227.3,288.2L227.5,288.2L227.7,288.3L227.9,288.3L228.1,288.3L236.5,288.3L236.5,288.3Z" fill="#e95a2e" fill-opacity="0.9" stroke="#1a1a1a" stroke-width="0.55"/>
<path d="M213.4,293.8L213.4,293.8L215.3,293.1L215.5,288.6L215.7,283.8L215.9,284.6L216.1,285.2L216.3,285.9L216.6,286.4L216.8,287.0L217.0,287.5L217.2,287.9L217.4,288.4L217.6,288.8L217.8,289.1L218.0,289.5L218.2,289.8L218.4,290.1L218.7,290.4L218.9,290.6L219.1,290.9L219.3,291.1L219.5,291.3L219.7,291.5L219.9,291.6L220.1,291.8L220.3,291.9L220.5,292.1L220.8,292.2L221.0,292.3L221.2,292.4L221.4,292.5L221.6,292.6L221.8,292.7L222.0,292.8L222.2,292.9L222.4,292.9L222.6,293.0L222.8,293.1L223.1,293.1L223.3,293.2L223.5,293.2L223.7,293.3L223.9,293.3L224.1,293.3L224.3,293.4L224.5,293.4L224.7,293.4L225.0,293.5L225.2,293.5L225.4,293.5L225.6,293.5L225.8,293.6L226.0,293.6L226.2,293.6L226.4,293.6L226.6,293.6L226.8,293.6L227.1,293.7L227.3,293.7L227.5,293.7L227.7,293.7L227.9,293.7L228.1,293.7L228.3,293.7L228.5,293.7L228.7,293.7L228.9,293.7L229.2,293.8L229.4,293.8L229.6,293.8L229.8,293.8L230.0,293.8L230.2,293.8L230.4,293.8L236.5,293.8L236.5,293.8Z" fill="#7f5cb8" fill-opacity="0.9" stroke="#1a1a1a" stroke-width="0.55"/>
<path d="M213.4,299.3L213.4,298.3L213.6,296.4L213.8,292.6L214.0,286.8L214.2,280.3L214.5,276.0L214.7,277.4L214.9,281.1L215.1,284.1L215.3,286.6L215.5,288.8L215.7,290.5L215.9,292.0L216.1,293.2L216.3,294.2L216.6,295.1L216.8,295.8L217.0,296.4L217.2,296.9L217.4,297.3L217.6,297.6L217.8,297.9L218.0,298.1L218.2,298.3L218.4,298.5L218.7,298.6L218.9,298.8L219.1,298.9L219.3,298.9L219.5,299.0L219.7,299.1L219.9,299.1L220.1,299.1L220.3,299.2L220.5,299.2L220.8,299.2L221.0,299.2L221.2,299.3L221.4,299.3L221.6,299.3L221.8,299.3L236.5,299.3L236.5,299.3Z" fill="#2a8c3e" fill-opacity="0.9" stroke="#1a1a1a" stroke-width="0.55"/>
<path d="M213.4,304.9L213.4,304.2L213.6,303.1L213.8,300.9L214.0,297.5L214.2,293.8L214.5,291.2L214.7,292.4L214.9,294.9L215.1,296.9L215.3,298.5L215.5,299.8L215.7,300.8L215.9,301.7L216.1,302.3L216.3,302.8L216.6,303.2L216.8,303.6L217.0,303.8L217.2,304.0L217.4,304.2L217.6,304.3L217.8,304.4L218.0,304.5L218.2,304.6L218.4,304.6L218.7,304.7L218.9,304.7L219.1,304.7L219.3,304.8L219.5,304.8L219.7,304.8L219.9,304.8L236.5,304.8L236.5,304.9Z" fill="#6cc070" fill-opacity="0.9" stroke="#1a1a1a" stroke-width="0.55"/>
<path d="M213.4,310.4L213.4,310.4L214.5,310.3L214.7,310.3L214.9,310.2L215.1,310.2L215.3,310.1L215.5,310.1L215.7,310.0L215.9,309.8L216.1,309.7L216.3,309.5L216.6,309.3L216.8,309.0L217.0,308.8L217.2,308.5L217.4,308.2L217.6,307.8L217.8,307.5L218.0,307.2L218.2,306.9L218.4,306.6L218.7,306.4L218.9,306.3L219.1,306.2L219.3,306.1L219.5,306.1L219.7,306.1L219.9,306.2L220.1,306.4L220.3,306.5L220.5,306.7L220.8,306.8L221.0,306.9L221.2,307.0L221.4,307.1L221.6,307.1L221.8,307.1L222.0,307.1L222.2,306.9L222.4,306.8L222.6,306.6L222.8,306.4L223.1,306.2L223.3,306.0L223.5,305.8L223.7,305.5L223.9,305.3L224.1,305.2L224.3,305.0L224.5,304.9L224.7,304.9L225.0,304.9L225.2,304.9L225.4,304.9L225.6,305.1L225.8,305.2L226.0,305.4L226.2,305.6L226.4,305.9L226.6,306.1L226.8,306.4L227.1,306.7L227.3,307.0L227.5,307.3L227.7,307.6L227.9,307.9L228.1,308.2L228.3,308.5L228.5,308.7L228.7,308.9L228.9,309.1L229.2,309.3L229.4,309.5L229.6,309.6L229.8,309.7L230.0,309.9L230.2,309.9L230.4,310.0L230.6,310.1L230.8,310.1L231.0,310.2L231.2,310.2L231.5,310.3L231.7,310.3L231.9,310.3L232.1,310.3L236.5,310.4L236.5,310.4Z" fill="#2465b0" fill-opacity="0.9" stroke="#1a1a1a" stroke-width="0.55"/>
<path d="M213.4,315.9L213.4,315.0L213.6,314.7L213.8,314.3L214.0,313.8L214.2,313.2L214.5,312.5L214.7,311.8L214.9,311.2L215.1,310.6L215.3,310.1L215.5,309.8L215.7,309.7L215.9,309.7L216.1,310.0L216.3,310.4L216.6,310.9L216.8,311.4L217.0,312.0L217.2,312.6L217.4,313.1L217.6,313.6L217.8,313.9L218.0,314.1L218.2,314.3L218.4,314.4L218.7,314.5L218.9,314.5L219.1,314.5L219.3,314.5L219.5,314.4L219.7,314.4L219.9,314.4L220.1,314.4L220.3,314.4L220.5,314.4L220.8,314.4L221.0,314.4L221.2,314.5L221.4,314.5L221.6,314.6L221.8,314.6L222.0,314.7L222.2,314.8L222.4,314.9L222.6,315.0L222.8,315.0L223.1,315.1L223.3,315.2L223.5,315.3L223.7,315.3L223.9,315.4L224.1,315.5L224.3,315.5L224.5,315.6L224.7,315.6L225.0,315.7L225.2,315.7L225.4,315.7L225.6,315.8L225.8,315.8L226.0,315.8L226.2,315.8L226.4,315.8L236.5,315.9L236.5,315.9Z" fill="#6fb1e6" fill-opacity="0.9" stroke="#1a1a1a" stroke-width="0.55"/>
<path d="M213.4,321.4L213.4,320.5L213.6,319.9L213.8,318.9L214.0,317.7L214.2,316.1L214.5,314.3L214.7,312.5L214.9,311.0L215.1,310.0L215.3,309.8L215.5,310.7L215.7,311.4L215.9,312.1L216.1,312.6L216.3,313.1L216.6,313.5L216.8,313.8L217.0,314.1L217.2,314.3L217.4,314.5L217.6,314.7L217.8,314.9L218.0,315.1L218.2,315.3L218.4,315.5L218.7,315.8L218.9,316.0L219.1,316.3L219.3,316.6L219.5,316.9L219.7,317.3L219.9,317.6L220.1,318.0L220.3,318.3L220.5,318.6L220.8,319.0L221.0,319.3L221.2,319.5L221.4,319.8L221.6,320.0L221.8,320.2L222.0,320.4L222.2,320.5L222.4,320.7L222.6,320.8L222.8,320.9L223.1,321.0L223.3,321.0L223.5,321.1L223.7,321.1L223.9,321.2L224.1,321.2L224.3,321.2L224.5,321.2L224.7,321.3L225.0,321.3L225.2,321.3L225.4,321.3L225.6,321.3L225.8,321.3L226.0,321.3L226.2,321.3L226.4,321.3L226.6,321.3L236.5,321.4L236.5,321.4Z" fill="#c81e5a" fill-opacity="0.9" stroke="#1a1a1a" stroke-width="0.55"/>
<path d="M213.4,326.9L213.4,326.0L213.6,325.3L213.8,324.4L214.0,323.0L214.2,321.4L214.5,319.5L214.7,317.7L214.9,316.1L215.1,315.1L215.3,315.2L215.5,316.6L215.7,317.9L215.9,319.0L216.1,319.9L216.3,320.8L216.6,321.5L216.8,322.2L217.0,322.8L217.2,323.3L217.4,323.7L217.6,324.1L217.8,324.4L218.0,324.7L218.2,325.0L218.4,325.2L218.7,325.4L218.9,325.6L219.1,325.8L219.3,325.9L219.5,326.0L219.7,326.1L219.9,326.2L220.1,326.3L220.3,326.4L220.5,326.4L220.8,326.5L221.0,326.5L221.2,326.6L221.4,326.6L221.6,326.7L221.8,326.7L222.0,326.7L222.2,326.7L222.4,326.7L222.6,326.8L222.8,326.8L223.1,326.8L223.3,326.8L223.5,326.8L223.7,326.8L223.9,326.8L224.1,326.8L224.3,326.8L236.5,326.9L236.5,326.9Z" fill="#d9561f" fill-opacity="0.9" stroke="#1a1a1a" stroke-width="0.55"/>
<path d="M213.4,332.4L213.4,331.5L213.6,330.7L213.8,329.5L214.0,327.7L214.2,325.5L214.5,323.1L214.7,321.0L214.9,319.7L215.1,320.0L215.3,321.7L215.5,323.2L215.7,324.5L215.9,325.6L216.1,326.6L216.3,327.4L216.6,328.1L216.8,328.7L217.0,329.2L217.2,329.7L217.4,330.1L217.6,330.4L217.8,330.7L218.0,330.9L218.2,331.1L218.4,331.3L218.7,331.5L218.9,331.6L219.1,331.7L219.3,331.8L219.5,331.9L219.7,332.0L219.9,332.0L220.1,332.1L220.3,332.1L220.5,332.2L220.8,332.2L221.0,332.2L221.2,332.2L221.4,332.3L221.6,332.3L221.8,332.3L222.0,332.3L222.2,332.3L222.4,332.3L222.6,332.3L222.8,332.4L236.5,332.4L236.5,332.4Z" fill="#a60f1a" fill-opacity="0.9" stroke="#1a1a1a" stroke-width="0.55"/>
<path d="M213.4,337.9L213.4,336.0L213.6,334.6L213.8,332.6L214.0,330.2L214.2,327.6L214.5,325.5L214.7,324.1L214.9,324.9L215.1,327.1L215.3,328.9L215.5,330.4L215.7,331.6L215.9,332.7L216.1,333.5L216.3,334.3L216.6,334.9L216.8,335.4L217.0,335.8L217.2,336.1L217.4,336.4L217.6,336.7L217.8,336.9L218.0,337.1L218.2,337.2L218.4,337.3L218.7,337.4L218.9,337.5L219.1,337.6L219.3,337.6L219.5,337.7L219.7,337.7L219.9,337.7L220.1,337.8L220.3,337.8L220.5,337.8L220.8,337.8L221.0,337.8L221.2,337.9L221.4,337.9L236.5,337.9L236.5,337.9Z" fill="#5cbf86" fill-opacity="0.9" stroke="#1a1a1a" stroke-width="0.55"/>
<path d="M213.4,343.4L213.4,341.5L213.6,340.1L213.8,338.1L214.0,335.7L214.2,333.2L214.5,331.0L214.7,329.6L214.9,330.4L215.1,332.6L215.3,334.4L215.5,335.9L215.7,337.1L215.9,338.2L216.1,339.0L216.3,339.8L216.6,340.4L216.8,340.9L217.0,341.3L217.2,341.7L217.4,342.0L217.6,342.2L217.8,342.4L218.0,342.6L218.2,342.7L218.4,342.8L218.7,342.9L218.9,343.0L219.1,343.1L219.3,343.1L219.5,343.2L219.7,343.2L219.9,343.3L220.1,343.3L220.3,343.3L220.5,343.3L220.8,343.3L221.0,343.4L221.2,343.4L221.4,343.4L236.5,343.4L236.5,343.4Z" fill="#f0b27a" fill-opacity="0.9" stroke="#1a1a1a" stroke-width="0.55"/>
<path d="M213.4,348.9L213.4,347.0L213.6,345.6L213.8,343.6L214.0,341.2L214.2,338.7L214.5,336.5L214.7,335.2L214.9,335.9L215.1,338.1L215.3,339.9L215.5,341.4L215.7,342.6L215.9,343.7L216.1,344.6L216.3,345.3L216.6,345.9L216.8,346.4L217.0,346.8L217.2,347.2L217.4,347.5L217.6,347.7L217.8,347.9L218.0,348.1L218.2,348.2L218.4,348.3L218.7,348.4L218.9,348.5L219.1,348.6L219.3,348.6L219.5,348.7L219.7,348.7L219.9,348.8L220.1,348.8L220.3,348.8L220.5,348.8L220.8,348.8L221.0,348.9L221.2,348.9L221.4,348.9L236.5,348.9L236.5,348.9Z" fill="#22a7a0" fill-opacity="0.9" stroke="#1a1a1a" stroke-width="0.55"/>
<path d="M213.4,354.4L213.4,352.3L213.6,350.9L213.8,349.1L214.0,346.8L214.2,344.4L214.5,341.9L214.7,339.9L214.9,338.7L215.1,339.2L215.3,341.3L215.5,343.1L215.7,344.7L215.9,346.1L216.1,347.3L216.3,348.3L216.6,349.1L216.8,349.9L217.0,350.5L217.2,351.1L217.4,351.6L217.6,352.0L217.8,352.3L218.0,352.6L218.2,352.9L218.4,353.1L218.7,353.3L218.9,353.4L219.1,353.6L219.3,353.7L219.5,353.8L219.7,353.9L219.9,354.0L220.1,354.0L220.3,354.1L220.5,354.1L220.8,354.2L221.0,354.2L221.2,354.3L221.4,354.3L221.6,354.3L221.8,354.3L222.0,354.3L222.2,354.4L222.4,354.4L222.6,354.4L222.8,354.4L223.1,354.4L236.5,354.4L236.5,354.4Z" fill="#e9b52a" fill-opacity="0.9" stroke="#1a1a1a" stroke-width="0.55"/>
<path d="M240.2,277.3L240.2,274.4L240.4,269.7L240.6,261.9L240.8,264.2L241.0,266.7L241.2,268.5L241.4,269.8L241.6,270.7L241.8,271.3L242.0,271.7L242.2,272.0L242.4,272.2L242.6,272.4L242.8,272.4L243.1,272.5L243.3,272.6L243.5,272.6L243.7,272.7L243.9,272.7L244.1,272.8L244.3,272.9L244.5,273.0L244.7,273.1L244.9,273.2L245.1,273.4L245.3,273.5L245.5,273.7L245.7,273.9L245.9,274.0L246.1,274.2L246.3,274.4L246.5,274.6L246.7,274.8L246.9,275.0L247.1,275.2L247.3,275.4L247.5,275.5L247.7,275.7L247.9,275.8L248.1,276.0L248.3,276.1L248.5,276.3L248.8,276.4L249.0,276.5L249.2,276.6L249.4,276.7L249.6,276.8L249.8,276.8L250.0,276.9L250.2,277.0L250.4,277.0L250.6,277.1L250.8,277.1L251.0,277.1L251.2,277.2L251.4,277.2L251.6,277.2L251.8,277.2L252.0,277.2L252.2,277.2L252.4,277.3L262.6,277.3L262.6,277.3Z" fill="#8cc43c" fill-opacity="0.9" stroke="#1a1a1a" stroke-width="0.55"/>
<path d="M240.2,282.8L240.2,281.4L240.4,280.6L240.6,278.6L240.8,275.6L241.0,273.2L241.2,273.8L241.4,275.0L241.6,276.0L241.8,276.7L242.0,277.2L242.2,277.6L242.4,277.9L242.6,278.2L242.8,278.3L243.1,278.5L243.3,278.6L243.5,278.7L243.7,278.9L243.9,279.0L244.1,279.1L244.3,279.3L244.5,279.4L244.7,279.6L244.9,279.8L245.1,279.9L245.3,280.1L245.5,280.3L245.7,280.5L245.9,280.7L246.1,280.9L246.3,281.1L246.5,281.3L246.7,281.5L246.9,281.7L247.1,281.8L247.3,282.0L247.5,282.1L247.7,282.2L247.9,282.3L248.1,282.4L248.3,282.5L248.5,282.5L248.8,282.6L249.0,282.6L249.2,282.7L249.4,282.7L249.6,282.7L249.8,282.7L250.0,282.8L250.2,282.8L262.6,282.8L262.6,282.8Z" fill="#f3a51f" fill-opacity="0.9" stroke="#1a1a1a" stroke-width="0.55"/>
<path d="M240.2,288.3L240.2,288.0L240.4,287.3L240.6,285.5L240.8,282.6L241.0,280.4L241.2,281.2L241.4,282.5L241.6,283.6L241.8,284.5L242.0,285.1L242.2,285.6L242.4,285.9L242.6,286.2L242.8,286.3L243.1,286.4L243.3,286.4L243.5,286.4L243.7,286.3L243.9,286.2L244.1,286.0L244.3,285.9L244.5,285.7L244.7,285.4L244.9,285.2L245.1,285.0L245.3,284.8L245.5,284.6L245.7,284.4L245.9,284.2L246.1,284.1L246.3,284.0L246.5,283.9L246.7,283.8L246.9,283.8L247.1,283.8L247.3,283.9L247.5,284.0L247.7,284.1L247.9,284.3L248.1,284.4L248.3,284.6L248.5,284.9L248.8,285.1L249.0,285.3L249.2,285.6L249.4,285.8L249.6,286.1L249.8,286.3L250.0,286.5L250.2,286.8L250.4,287.0L250.6,287.1L250.8,287.3L251.0,287.5L251.2,287.6L251.4,287.7L251.6,287.8L251.8,287.9L252.0,288.0L252.2,288.0L252.4,288.1L252.6,288.1L252.8,288.2L253.0,288.2L253.2,288.2L253.4,288.3L253.6,288.3L262.6,288.3L262.6,288.3Z" fill="#e95a2e" fill-opacity="0.9" stroke="#1a1a1a" stroke-width="0.55"/>
<path d="M240.2,293.8L240.2,293.6L240.4,292.9L240.6,291.0L240.8,288.2L241.0,286.0L241.2,286.8L241.4,288.2L241.6,289.4L241.8,290.3L242.0,291.0L242.2,291.5L242.4,291.9L242.6,292.3L242.8,292.5L243.1,292.7L243.3,292.8L243.5,292.9L243.7,293.0L243.9,293.0L244.1,292.9L244.3,292.9L244.5,292.8L244.7,292.7L244.9,292.5L245.1,292.3L245.3,292.1L245.5,291.9L245.7,291.7L245.9,291.4L246.1,291.2L246.3,290.9L246.5,290.6L246.7,290.3L246.9,290.0L247.1,289.8L247.3,289.5L247.5,289.3L247.7,289.1L247.9,288.9L248.1,288.8L248.3,288.7L248.5,288.6L248.8,288.6L249.0,288.7L249.2,288.7L249.4,288.8L249.6,289.0L249.8,289.2L250.0,289.4L250.2,289.6L250.4,289.9L250.6,290.2L250.8,290.4L251.0,290.7L251.2,291.0L251.4,291.3L251.6,291.6L251.8,291.8L252.0,292.1L252.2,292.3L252.4,292.5L252.6,292.7L252.8,292.9L253.0,293.0L253.2,293.2L253.4,293.3L253.6,293.4L253.8,293.5L254.0,293.5L254.3,293.6L254.5,293.6L254.7,293.7L254.9,293.7L255.1,293.7L255.3,293.8L255.5,293.8L255.7,293.8L262.6,293.8L262.6,293.8Z" fill="#7f5cb8" fill-opacity="0.9" stroke="#1a1a1a" stroke-width="0.55"/>
<path d="M240.2,299.3L240.2,298.0L240.4,296.3L240.6,293.8L240.8,291.2L241.0,289.5L241.2,290.4L241.4,291.9L241.6,293.1L241.8,294.1L242.0,295.0L242.2,295.7L242.4,296.3L242.6,296.8L242.8,297.2L243.1,297.6L243.3,297.9L243.5,298.1L243.7,298.3L243.9,298.5L244.1,298.6L244.3,298.8L244.5,298.9L244.7,298.9L244.9,299.0L245.1,299.1L245.3,299.1L245.5,299.1L245.7,299.2L245.9,299.2L246.1,299.2L246.3,299.2L246.5,299.3L246.7,299.3L246.9,299.3L247.1,299.3L262.6,299.3L262.6,299.3Z" fill="#2a8c3e" fill-opacity="0.9" stroke="#1a1a1a" stroke-width="0.55"/>
<path d="M240.2,304.9L240.2,303.5L240.4,301.8L240.6,299.3L240.8,296.7L241.0,295.0L241.2,295.9L241.4,297.4L241.6,298.6L241.8,299.7L242.0,300.5L242.2,301.2L242.4,301.8L242.6,302.3L242.8,302.8L243.1,303.1L243.3,303.4L243.5,303.6L243.7,303.8L243.9,304.0L244.1,304.1L244.3,304.3L244.5,304.4L244.7,304.4L244.9,304.5L245.1,304.6L245.3,304.6L245.5,304.7L245.7,304.7L245.9,304.7L246.1,304.7L246.3,304.8L246.5,304.8L246.7,304.8L246.9,304.8L247.1,304.8L262.6,304.8L262.6,304.9Z" fill="#6cc070" fill-opacity="0.9" stroke="#1a1a1a" stroke-width="0.55"/>
<path d="M240.2,310.4L240.2,309.0L240.4,307.3L240.6,304.8L240.8,302.2L241.0,300.5L241.2,301.2L241.4,302.5L241.6,303.6L241.8,304.6L242.0,305.4L242.2,306.1L242.4,306.7L242.6,307.2L242.8,307.6L243.1,308.0L243.3,308.4L243.5,308.6L243.7,308.9L243.9,309.1L244.1,309.3L244.3,309.4L244.5,309.6L244.7,309.7L244.9,309.8L245.1,309.8L245.3,309.9L245.5,310.0L245.7,310.0L245.9,310.1L246.1,310.1L246.3,310.2L246.5,310.2L246.7,310.2L246.9,310.2L247.1,310.2L247.3,310.3L247.5,310.3L247.7,310.3L247.9,310.3L248.1,310.3L248.3,310.3L262.6,310.4L262.6,310.4Z" fill="#2465b0" fill-opacity="0.9" stroke="#1a1a1a" stroke-width="0.55"/>
<path d="M240.2,315.9L240.2,314.3L240.4,312.7L240.6,310.3L240.8,307.8L241.0,306.1L241.2,306.7L241.4,307.8L241.6,308.6L241.8,309.3L242.0,309.8L242.2,310.2L242.4,310.4L242.6,310.7L242.8,310.8L243.1,311.0L243.3,311.1L243.5,311.3L243.7,311.5L243.9,311.7L244.1,311.9L244.3,312.2L244.5,312.5L244.7,312.8L244.9,313.1L245.1,313.4L245.3,313.8L245.5,314.1L245.7,314.3L245.9,314.6L246.1,314.8L246.3,315.0L246.5,315.2L246.7,315.3L246.9,315.5L247.1,315.6L247.3,315.6L247.5,315.7L247.7,315.7L247.9,315.8L248.1,315.8L248.3,315.8L262.6,315.9L262.6,315.9Z" fill="#6fb1e6" fill-opacity="0.9" stroke="#1a1a1a" stroke-width="0.55"/>
<path d="M240.2,321.4L240.2,320.6L240.4,319.7L240.6,317.9L240.8,315.3L241.0,312.3L241.2,310.2L241.4,310.4L241.6,311.5L241.8,312.4L242.0,313.0L242.2,313.4L242.4,313.7L242.6,313.9L242.8,314.1L243.1,314.4L243.3,314.6L243.5,314.9L243.7,315.3L243.9,315.7L244.1,316.2L244.3,316.7L244.5,317.3L244.7,317.8L244.9,318.4L245.1,318.9L245.3,319.4L245.5,319.8L245.7,320.1L245.9,320.4L246.1,320.6L246.3,320.8L246.5,321.0L246.7,321.1L246.9,321.2L247.1,321.2L247.3,321.3L247.5,321.3L247.7,321.3L247.9,321.3L262.6,321.4L262.6,321.4Z" fill="#c81e5a" fill-opacity="0.9" stroke="#1a1a1a" stroke-width="0.55"/>
<path d="M240.2,326.9L240.2,326.2L240.4,325.3L240.6,323.6L240.8,321.0L241.0,318.2L241.2,316.1L241.4,316.5L241.6,317.7L241.8,318.7L242.0,319.4L242.2,320.0L242.4,320.4L242.6,320.8L242.8,321.1L243.1,321.3L243.3,321.6L243.5,321.9L243.7,322.3L243.9,322.6L244.1,323.0L244.3,323.4L244.5,323.9L244.7,324.3L244.9,324.7L245.1,325.0L245.3,325.4L245.5,325.7L245.7,325.9L245.9,326.2L246.1,326.3L246.3,326.5L246.5,326.6L246.7,326.7L246.9,326.7L247.1,326.8L247.3,326.8L247.5,326.8L247.7,326.8L262.6,326.9L262.6,326.9Z" fill="#d9561f" fill-opacity="0.9" stroke="#1a1a1a" stroke-width="0.55"/>
<path d="M240.2,332.4L240.2,331.9L240.4,331.0L240.6,329.2L240.8,326.5L241.0,323.5L241.2,321.3L241.4,321.9L241.6,323.4L241.8,324.5L242.0,325.4L242.2,326.1L242.4,326.5L242.6,326.9L242.8,327.1L243.1,327.3L243.3,327.6L243.5,327.8L243.7,328.1L243.9,328.4L244.1,328.7L244.3,329.2L244.5,329.6L244.7,330.0L244.9,330.5L245.1,330.8L245.3,331.2L245.5,331.5L245.7,331.7L245.9,331.9L246.1,332.0L246.3,332.1L246.5,332.2L246.7,332.3L246.9,332.3L247.1,332.3L247.3,332.3L247.5,332.4L262.6,332.4L262.6,332.4Z" fill="#a60f1a" fill-opacity="0.9" stroke="#1a1a1a" stroke-width="0.55"/>
<path d="M240.2,337.9L240.2,337.7L240.4,337.5L240.6,337.4L240.8,337.2L241.0,336.9L241.2,336.6L241.4,336.2L241.6,335.7L241.8,335.2L242.0,334.8L242.2,334.3L242.4,333.9L242.6,333.5L242.8,333.2L243.1,333.0L243.3,332.9L243.5,332.9L243.7,332.9L243.9,332.9L244.1,333.0L244.3,333.0L244.5,333.0L244.7,332.9L244.9,332.8L245.1,332.7L245.3,332.5L245.5,332.3L245.7,332.2L245.9,332.1L246.1,332.0L246.3,331.9L246.5,331.9L246.7,331.9L246.9,332.1L247.1,332.2L247.3,332.4L247.5,332.7L247.7,333.0L247.9,333.3L248.1,333.7L248.3,334.0L248.5,334.4L248.8,334.7L249.0,335.1L249.2,335.4L249.4,335.8L249.6,336.1L249.8,336.3L250.0,336.6L250.2,336.8L250.4,337.0L250.6,337.2L250.8,337.3L251.0,337.4L251.2,337.5L251.4,337.6L251.6,337.7L251.8,337.7L252.0,337.8L252.2,337.8L252.4,337.8L252.6,337.9L252.8,337.9L262.6,337.9L262.6,337.9Z" fill="#5cbf86" fill-opacity="0.9" stroke="#1a1a1a" stroke-width="0.55"/>
<path d="M240.2,343.4L240.2,343.3L240.4,343.3L240.6,343.2L240.8,343.1L241.0,342.9L241.2,342.7L241.4,342.4L241.6,342.0L241.8,341.6L242.0,341.1L242.2,340.6L242.4,340.1L242.6,339.6L242.8,339.2L243.1,338.9L243.3,338.7L243.5,338.7L243.7,338.8L243.9,339.0L244.1,339.3L244.3,339.6L244.5,340.0L244.7,340.3L244.9,340.6L245.1,340.9L245.3,341.0L245.5,341.1L245.7,341.1L245.9,341.0L246.1,340.9L246.3,340.8L246.5,340.6L246.7,340.3L246.9,340.1L247.1,339.9L247.3,339.7L247.5,339.5L247.7,339.3L247.9,339.2L248.1,339.1L248.3,339.0L248.5,338.9L248.8,338.9L249.0,338.9L249.2,339.0L249.4,339.1L249.6,339.2L249.8,339.4L250.0,339.6L250.2,339.8L250.4,340.0L250.6,340.2L250.8,340.5L251.0,340.7L251.2,341.0L251.4,341.2L251.6,341.5L251.8,341.7L252.0,341.9L252.2,342.1L252.4,342.3L252.6,342.4L252.8,342.6L253.0,342.7L253.2,342.8L253.4,342.9L253.6,343.0L253.8,343.1L254.0,343.2L254.3,343.2L254.5,343.3L254.7,343.3L254.9,343.3L255.1,343.3L255.3,343.4L255.5,343.4L262.6,343.4L262.6,343.4Z" fill="#f0b27a" fill-opacity="0.9" stroke="#1a1a1a" stroke-width="0.55"/>
<path d="M240.2,348.9L240.2,348.9L240.4,348.9L240.6,348.8L240.8,348.8L241.0,348.7L241.2,348.6L241.4,348.5L241.6,348.3L241.8,348.1L242.0,347.8L242.2,347.6L242.4,347.2L242.6,346.9L242.8,346.5L243.1,346.1L243.3,345.7L243.5,345.3L243.7,345.0L243.9,344.8L244.1,344.6L244.3,344.5L244.5,344.4L244.7,344.5L244.9,344.6L245.1,344.7L245.3,344.9L245.5,345.0L245.7,345.2L245.9,345.3L246.1,345.4L246.3,345.5L246.5,345.5L246.7,345.4L246.9,345.4L247.1,345.2L247.3,345.1L247.5,344.9L247.7,344.7L247.9,344.5L248.1,344.4L248.3,344.2L248.5,344.1L248.8,344.0L249.0,343.9L249.2,343.9L249.4,343.9L249.6,344.0L249.8,344.1L250.0,344.2L250.2,344.4L250.4,344.6L250.6,344.8L250.8,345.1L251.0,345.4L251.2,345.6L251.4,345.9L251.6,346.2L251.8,346.4L252.0,346.7L252.2,347.0L252.4,347.2L252.6,347.4L252.8,347.6L253.0,347.8L253.2,348.0L253.4,348.1L253.6,348.3L253.8,348.4L254.0,348.5L254.3,348.6L254.5,348.6L254.7,348.7L254.9,348.7L255.1,348.8L255.3,348.8L255.5,348.8L255.7,348.9L255.9,348.9L256.1,348.9L262.6,348.9L262.6,348.9Z" fill="#22a7a0" fill-opacity="0.9" stroke="#1a1a1a" stroke-width="0.55"/>
<path d="M240.2,354.4L240.2,354.3L240.4,354.3L240.6,354.2L240.8,354.1L241.0,353.9L241.2,353.7L241.4,353.4L241.6,353.0L241.8,352.6L242.0,352.2L242.2,351.7L242.4,351.1L242.6,350.7L242.8,350.2L243.1,349.9L243.3,349.6L243.5,349.5L243.7,349.4L243.9,349.5L244.1,349.6L244.3,349.8L244.5,350.0L244.7,350.1L244.9,350.3L245.1,350.3L245.3,350.3L245.5,350.3L245.7,350.2L245.9,350.0L246.1,349.8L246.3,349.7L246.5,349.5L246.7,349.3L246.9,349.2L247.1,349.0L247.3,349.0L247.5,348.9L247.7,348.9L247.9,349.0L248.1,349.1L248.3,349.2L248.5,349.4L248.8,349.6L249.0,349.9L249.2,350.1L249.4,350.4L249.6,350.7L249.8,351.0L250.0,351.3L250.2,351.6L250.4,351.9L250.6,352.2L250.8,352.5L251.0,352.7L251.2,352.9L251.4,353.1L251.6,353.3L251.8,353.5L252.0,353.7L252.2,353.8L252.4,353.9L252.6,354.0L252.8,354.1L253.0,354.2L253.2,354.2L253.4,354.3L253.6,354.3L253.8,354.3L254.0,354.4L254.3,354.4L254.5,354.4L254.7,354.4L262.6,354.4L262.6,354.4Z" fill="#e9b52a" fill-opacity="0.9" stroke="#1a1a1a" stroke-width="0.55"/>
<path d="M265.0,277.3L265.0,277.1L265.2,276.4L265.4,270.9L265.6,259.8L265.8,262.1L266.0,265.7L266.2,268.4L266.4,270.3L266.6,271.7L266.8,272.7L267.0,273.5L267.2,274.1L267.4,274.5L267.6,274.9L267.8,275.3L268.0,275.6L268.2,275.9L268.4,276.2L268.6,276.4L268.8,276.6L269.0,276.8L269.2,276.9L269.4,277.0L269.6,277.1L269.8,277.2L270.0,277.2L270.2,277.2L270.4,277.3L287.2,277.3L287.2,277.3Z" fill="#8cc43c" fill-opacity="0.9" stroke="#1a1a1a" stroke-width="0.55"/>
<path d="M265.0,282.8L265.0,282.4L265.2,281.8L265.4,280.8L265.6,279.4L265.8,277.7L266.0,276.1L266.2,275.0L266.4,275.4L266.6,276.6L266.8,277.6L267.0,278.5L267.2,279.2L267.4,279.8L267.6,280.3L267.8,280.7L268.0,281.1L268.2,281.4L268.4,281.6L268.6,281.8L268.8,282.0L269.0,282.1L269.2,282.2L269.4,282.3L269.6,282.4L269.8,282.5L270.0,282.5L270.2,282.6L270.4,282.6L270.7,282.6L270.9,282.7L271.1,282.7L271.3,282.7L271.5,282.7L271.7,282.7L271.9,282.8L272.1,282.8L287.2,282.8L287.2,282.8Z" fill="#f3a51f" fill-opacity="0.9" stroke="#1a1a1a" stroke-width="0.55"/>
<path d="M265.0,288.3L265.0,287.9L265.2,287.3L265.4,286.3L265.6,284.9L265.8,283.2L266.0,281.6L266.2,280.5L266.4,280.9L266.6,282.1L266.8,283.1L267.0,284.0L267.2,284.7L267.4,285.3L267.6,285.8L267.8,286.2L268.0,286.6L268.2,286.9L268.4,287.1L268.6,287.3L268.8,287.5L269.0,287.6L269.2,287.7L269.4,287.8L269.6,287.9L269.8,288.0L270.0,288.0L270.2,288.1L270.4,288.1L270.7,288.2L270.9,288.2L271.1,288.2L271.3,288.2L271.5,288.2L271.7,288.3L271.9,288.3L272.1,288.3L287.2,288.3L287.2,288.3Z" fill="#e95a2e" fill-opacity="0.9" stroke="#1a1a1a" stroke-width="0.55"/>
<path d="M265.0,293.8L265.0,293.4L265.2,292.8L265.4,291.9L265.6,290.4L265.8,288.7L266.0,287.1L266.2,286.0L266.4,286.4L266.6,287.6L266.8,288.7L267.0,289.5L267.2,290.2L267.4,290.8L267.6,291.3L267.8,291.7L268.0,292.1L268.2,292.4L268.4,292.6L268.6,292.8L268.8,293.0L269.0,293.1L269.2,293.2L269.4,293.3L269.6,293.4L269.8,293.5L270.0,293.5L270.2,293.6L270.4,293.6L270.7,293.7L270.9,293.7L271.1,293.7L271.3,293.7L271.5,293.8L271.7,293.8L271.9,293.8L272.1,293.8L287.2,293.8L287.2,293.8Z" fill="#7f5cb8" fill-opacity="0.9" stroke="#1a1a1a" stroke-width="0.55"/>
<path d="M265.0,299.3L265.0,298.9L265.2,298.3L265.4,297.4L265.6,295.9L265.8,294.2L266.0,292.6L266.2,291.5L266.4,291.9L266.6,293.1L266.8,294.2L267.0,295.0L267.2,295.7L267.4,296.3L267.6,296.8L267.8,297.3L268.0,297.6L268.2,297.9L268.4,298.1L268.6,298.3L268.8,298.5L269.0,298.6L269.2,298.8L269.4,298.9L269.6,298.9L269.8,299.0L270.0,299.1L270.2,299.1L270.4,299.1L270.7,299.2L270.9,299.2L271.1,299.2L271.3,299.2L271.5,299.3L271.7,299.3L271.9,299.3L272.1,299.3L287.2,299.3L287.2,299.3Z" fill="#2a8c3e" fill-opacity="0.9" stroke="#1a1a1a" stroke-width="0.55"/>
<path d="M265.0,304.9L265.0,304.4L265.2,303.8L265.4,302.9L265.6,301.5L265.8,299.7L266.0,298.1L266.2,297.0L266.4,297.4L266.6,298.6L266.8,299.7L267.0,300.5L267.2,301.3L267.4,301.9L267.6,302.4L267.8,302.8L268.0,303.1L268.2,303.4L268.4,303.6L268.6,303.8L268.8,304.0L269.0,304.2L269.2,304.3L269.4,304.4L269.6,304.4L269.8,304.5L270.0,304.6L270.2,304.6L270.4,304.7L270.7,304.7L270.9,304.7L271.1,304.7L271.3,304.8L271.5,304.8L271.7,304.8L271.9,304.8L272.1,304.8L287.2,304.8L287.2,304.9Z" fill="#6cc070" fill-opacity="0.9" stroke="#1a1a1a" stroke-width="0.55"/>
<path d="M265.0,310.4L265.0,310.4L265.4,309.8L265.6,307.2L265.8,305.7L266.0,307.4L266.2,308.5L266.4,309.2L266.6,309.6L266.8,309.9L267.0,310.1L267.2,310.2L267.4,310.2L267.6,310.3L267.8,310.3L272.1,310.3L272.3,310.3L272.5,310.3L272.7,310.2L272.9,310.2L273.1,310.2L273.3,310.1L273.5,310.1L273.7,310.0L273.9,310.0L274.1,309.9L274.3,309.8L274.5,309.7L274.7,309.6L274.9,309.5L275.1,309.3L275.3,309.2L275.5,309.0L275.7,308.9L275.9,308.7L276.1,308.5L276.3,308.4L276.5,308.2L276.7,308.1L276.9,307.9L277.1,307.8L277.3,307.7L277.5,307.6L277.7,307.5L277.9,307.4L278.1,307.4L278.3,307.4L278.5,307.4L278.7,307.4L278.9,307.5L279.1,307.6L279.3,307.7L279.5,307.8L279.7,307.9L279.9,308.1L280.1,308.2L280.3,308.4L280.5,308.5L280.7,308.7L280.9,308.9L281.1,309.0L281.3,309.2L281.5,309.3L281.8,309.5L282.0,309.6L282.2,309.7L282.4,309.8L282.6,309.9L282.8,310.0L283.0,310.0L283.2,310.1L283.4,310.1L283.6,310.2L283.8,310.2L284.0,310.2L284.2,310.3L284.4,310.3L284.6,310.3L284.8,310.3L287.2,310.4L287.2,310.4Z" fill="#2465b0" fill-opacity="0.9" stroke="#1a1a1a" stroke-width="0.55"/>
<path d="M265.0,315.9L265.0,315.8L265.2,315.8L265.4,315.2L265.6,312.6L265.8,311.0L266.0,312.7L266.2,313.7L266.4,314.3L266.6,314.7L266.8,314.8L267.0,314.9L267.2,314.9L267.4,314.8L267.6,314.7L267.8,314.5L268.0,314.4L268.2,314.2L268.4,314.1L268.6,313.9L268.8,313.8L269.0,313.6L269.2,313.5L269.4,313.4L269.6,313.4L269.8,313.4L270.0,313.4L270.2,313.4L270.4,313.5L270.7,313.6L270.9,313.7L271.1,313.9L271.3,314.0L271.5,314.2L271.7,314.4L271.9,314.5L272.1,314.7L272.3,314.9L272.5,315.0L272.7,315.1L272.9,315.3L273.1,315.4L273.3,315.5L273.5,315.5L273.7,315.6L273.9,315.7L274.1,315.7L274.3,315.8L274.5,315.8L274.7,315.8L274.9,315.8L287.2,315.9L287.2,315.9Z" fill="#6fb1e6" fill-opacity="0.9" stroke="#1a1a1a" stroke-width="0.55"/>
<path d="M265.0,321.4L265.0,320.2L265.2,319.4L265.4,318.4L265.6,317.1L265.8,315.7L266.0,314.3L266.2,313.2L266.4,312.5L266.6,312.8L266.8,314.0L267.0,315.0L267.2,315.9L267.4,316.7L267.6,317.3L267.8,317.9L268.0,318.4L268.2,318.8L268.4,319.2L268.6,319.5L268.8,319.8L269.0,320.0L269.2,320.2L269.4,320.3L269.6,320.5L269.8,320.6L270.0,320.7L270.2,320.8L270.4,320.9L270.7,321.0L270.9,321.0L271.1,321.1L271.3,321.1L271.5,321.2L271.7,321.2L271.9,321.2L272.1,321.2L272.3,321.3L272.5,321.3L272.7,321.3L272.9,321.3L273.1,321.3L273.3,321.3L273.5,321.3L287.2,321.4L287.2,321.4Z" fill="#c81e5a" fill-opacity="0.9" stroke="#1a1a1a" stroke-width="0.55"/>
<path d="M265.0,326.9L265.0,325.7L265.2,324.9L265.4,323.9L265.6,322.6L265.8,321.2L266.0,319.9L266.2,318.7L266.4,318.0L266.6,318.3L266.8,319.5L267.0,320.5L267.2,321.4L267.4,322.2L267.6,322.9L267.8,323.4L268.0,323.9L268.2,324.3L268.4,324.7L268.6,325.0L268.8,325.3L269.0,325.5L269.2,325.7L269.4,325.9L269.6,326.0L269.8,326.1L270.0,326.2L270.2,326.3L270.4,326.4L270.7,326.5L270.9,326.5L271.1,326.6L271.3,326.6L271.5,326.7L271.7,326.7L271.9,326.7L272.1,326.7L272.3,326.8L272.5,326.8L272.7,326.8L272.9,326.8L273.1,326.8L273.3,326.8L273.5,326.8L287.2,326.9L287.2,326.9Z" fill="#d9561f" fill-opacity="0.9" stroke="#1a1a1a" stroke-width="0.55"/>
<path d="M265.0,332.4L265.0,331.2L265.2,330.4L265.4,329.4L265.6,328.1L265.8,326.7L266.0,325.4L266.2,324.2L266.4,323.5L266.6,323.8L266.8,325.0L267.0,326.0L267.2,326.9L267.4,327.7L267.6,328.4L267.8,328.9L268.0,329.4L268.2,329.8L268.4,330.2L268.6,330.5L268.8,330.8L269.0,331.0L269.2,331.2L269.4,331.4L269.6,331.5L269.8,331.6L270.0,331.7L270.2,331.8L270.4,331.9L270.7,332.0L270.9,332.0L271.1,332.1L271.3,332.1L271.5,332.2L271.7,332.2L271.9,332.2L272.1,332.3L272.3,332.3L272.5,332.3L272.7,332.3L272.9,332.3L273.1,332.3L273.3,332.3L273.5,332.4L287.2,332.4L287.2,332.4Z" fill="#a60f1a" fill-opacity="0.9" stroke="#1a1a1a" stroke-width="0.55"/>
<path d="M265.0,337.9L265.0,336.8L265.2,336.2L265.4,335.2L265.6,334.1L265.8,332.9L266.0,331.7L266.2,330.7L266.4,330.0L266.6,330.3L266.8,331.3L267.0,332.3L267.2,333.1L267.4,333.7L267.6,334.3L267.8,334.8L268.0,335.3L268.2,335.6L268.4,336.0L268.6,336.2L268.8,336.5L269.0,336.7L269.2,336.8L269.4,337.0L269.6,337.1L269.8,337.2L270.0,337.3L270.2,337.4L270.4,337.5L270.7,337.5L270.9,337.6L271.1,337.6L271.3,337.7L271.5,337.7L271.7,337.7L271.9,337.8L272.1,337.8L272.3,337.8L272.5,337.8L272.7,337.8L272.9,337.8L273.1,337.9L273.3,337.9L273.5,337.9L287.2,337.9L287.2,337.9Z" fill="#5cbf86" fill-opacity="0.9" stroke="#1a1a1a" stroke-width="0.55"/>
<path d="M265.0,343.4L265.0,342.3L265.2,341.7L265.4,340.7L265.6,339.6L265.8,338.4L266.0,337.2L266.2,336.2L266.4,335.6L266.6,335.8L266.8,336.9L267.0,337.8L267.2,338.6L267.4,339.2L267.6,339.8L267.8,340.3L268.0,340.8L268.2,341.1L268.4,341.5L268.6,341.7L268.8,342.0L269.0,342.2L269.2,342.4L269.4,342.5L269.6,342.6L269.8,342.7L270.0,342.8L270.2,342.9L270.4,343.0L270.7,343.1L270.9,343.1L271.1,343.1L271.3,343.2L271.5,343.2L271.7,343.2L271.9,343.3L272.1,343.3L272.3,343.3L272.5,343.3L272.7,343.3L272.9,343.4L273.1,343.4L273.3,343.4L273.5,343.4L287.2,343.4L287.2,343.4Z" fill="#f0b27a" fill-opacity="0.9" stroke="#1a1a1a" stroke-width="0.55"/>
<path d="M265.0,348.9L265.0,347.8L265.2,347.2L265.4,346.3L265.6,345.1L265.8,343.9L266.0,342.7L266.2,341.7L266.4,341.1L266.6,341.3L266.8,342.4L267.0,343.3L267.2,344.1L267.4,344.8L267.6,345.3L267.8,345.9L268.0,346.3L268.2,346.7L268.4,347.0L268.6,347.2L268.8,347.5L269.0,347.7L269.2,347.9L269.4,348.0L269.6,348.1L269.8,348.3L270.0,348.3L270.2,348.4L270.4,348.5L270.7,348.6L270.9,348.6L271.1,348.7L271.3,348.7L271.5,348.7L271.7,348.8L271.9,348.8L272.1,348.8L272.3,348.8L272.5,348.8L272.7,348.8L272.9,348.9L273.1,348.9L273.3,348.9L273.5,348.9L287.2,348.9L287.2,348.9Z" fill="#22a7a0" fill-opacity="0.9" stroke="#1a1a1a" stroke-width="0.55"/>
<path d="M265.0,354.4L265.0,353.4L265.2,352.7L265.4,351.8L265.6,350.6L265.8,349.4L266.0,348.2L266.2,347.2L266.4,346.6L266.6,346.8L266.8,347.9L267.0,348.8L267.2,349.6L267.4,350.3L267.6,350.9L267.8,351.4L268.0,351.8L268.2,352.2L268.4,352.5L268.6,352.8L268.8,353.0L269.0,353.2L269.2,353.4L269.4,353.5L269.6,353.7L269.8,353.8L270.0,353.9L270.2,353.9L270.4,354.0L270.7,354.1L270.9,354.1L271.1,354.2L271.3,354.2L271.5,354.2L271.7,354.3L271.9,354.3L272.1,354.3L272.3,354.3L272.5,354.3L272.7,354.4L272.9,354.4L273.1,354.4L273.3,354.4L273.5,354.4L287.2,354.4L287.2,354.4Z" fill="#e9b52a" fill-opacity="0.9" stroke="#1a1a1a" stroke-width="0.55"/>
<path d="M290.8,277.3L290.8,276.0L291.0,270.9L291.2,262.5L291.4,264.1L291.6,266.1L291.8,267.6L292.0,268.6L292.2,269.4L292.4,269.9L292.6,270.2L292.8,270.5L293.0,270.7L293.2,270.9L293.4,271.1L293.6,271.4L293.8,271.7L294.0,272.1L294.2,272.6L294.4,273.1L294.6,273.6L294.8,274.1L295.0,274.6L295.2,275.1L295.4,275.5L295.6,275.9L295.8,276.2L296.0,276.5L296.2,276.7L296.5,276.9L296.7,277.0L296.9,277.1L297.1,277.1L297.3,277.2L297.5,277.2L297.7,277.3L313.0,277.3L313.0,277.3Z" fill="#8cc43c" fill-opacity="0.9" stroke="#1a1a1a" stroke-width="0.55"/>
<path d="M290.8,282.8L290.8,281.6L291.0,280.7L291.2,279.4L291.4,277.8L291.6,276.2L291.8,274.8L292.0,274.0L292.2,274.2L292.4,275.0L292.6,275.7L292.8,276.4L293.0,277.0L293.2,277.6L293.4,278.1L293.6,278.5L293.8,279.0L294.0,279.3L294.2,279.7L294.4,280.0L294.6,280.2L294.8,280.5L295.0,280.7L295.2,280.9L295.4,281.1L295.6,281.3L295.8,281.4L296.0,281.5L296.2,281.7L296.5,281.8L296.7,281.9L296.9,282.0L297.1,282.0L297.3,282.1L297.5,282.2L297.7,282.2L297.9,282.3L298.1,282.3L298.3,282.4L298.5,282.4L298.7,282.5L298.9,282.5L299.1,282.5L299.3,282.6L299.5,282.6L299.7,282.6L299.9,282.6L300.1,282.6L300.3,282.7L300.5,282.7L300.7,282.7L300.9,282.7L301.1,282.7L301.3,282.7L301.5,282.7L301.7,282.7L301.9,282.7L302.1,282.7L302.3,282.8L302.5,282.8L302.7,282.8L313.0,282.8L313.0,282.8Z" fill="#f3a51f" fill-opacity="0.9" stroke="#1a1a1a" stroke-width="0.55"/>
<path d="M290.8,288.3L290.8,287.1L291.0,286.2L291.2,284.9L291.4,283.4L291.6,281.7L291.8,280.3L292.0,279.5L292.2,279.7L292.4,280.5L292.6,281.3L292.8,281.9L293.0,282.5L293.2,283.1L293.4,283.6L293.6,284.1L293.8,284.5L294.0,284.8L294.2,285.2L294.4,285.5L294.6,285.7L294.8,286.0L295.0,286.2L295.2,286.4L295.4,286.6L295.6,286.8L295.8,286.9L296.0,287.1L296.2,287.2L296.5,287.3L296.7,287.4L296.9,287.5L297.1,287.6L297.3,287.6L297.5,287.7L297.7,287.8L297.9,287.8L298.1,287.9L298.3,287.9L298.5,287.9L298.7,288.0L298.9,288.0L299.1,288.0L299.3,288.1L299.5,288.1L299.7,288.1L299.9,288.1L300.1,288.2L300.3,288.2L300.5,288.2L300.7,288.2L300.9,288.2L301.1,288.2L301.3,288.2L301.5,288.2L301.7,288.2L301.9,288.3L302.1,288.3L302.3,288.3L302.5,288.3L302.7,288.3L313.0,288.3L313.0,288.3Z" fill="#e95a2e" fill-opacity="0.9" stroke="#1a1a1a" stroke-width="0.55"/>
<path d="M290.8,293.8L290.8,292.6L291.0,291.7L291.2,290.4L291.4,288.9L291.6,287.2L291.8,285.8L292.0,285.0L292.2,285.2L292.4,285.9L292.6,286.6L292.8,287.2L293.0,287.8L293.2,288.3L293.4,288.8L293.6,289.2L293.8,289.6L294.0,290.0L294.2,290.3L294.4,290.6L294.6,290.9L294.8,291.2L295.0,291.4L295.2,291.6L295.4,291.8L295.6,292.0L295.8,292.1L296.0,292.3L296.2,292.4L296.5,292.5L296.7,292.7L296.9,292.8L297.1,292.9L297.3,292.9L297.5,293.0L297.7,293.1L297.9,293.1L298.1,293.2L298.3,293.3L298.5,293.3L298.7,293.4L298.9,293.4L299.1,293.4L299.3,293.5L299.5,293.5L299.7,293.5L299.9,293.6L300.1,293.6L300.3,293.6L300.5,293.6L300.7,293.6L300.9,293.7L301.1,293.7L301.3,293.7L301.5,293.7L301.7,293.7L301.9,293.7L302.1,293.7L302.3,293.7L302.5,293.7L302.7,293.8L302.9,293.8L303.1,293.8L303.3,293.8L303.5,293.8L303.7,293.8L313.0,293.8L313.0,293.8Z" fill="#7f5cb8" fill-opacity="0.9" stroke="#1a1a1a" stroke-width="0.55"/>
<path d="M290.8,299.3L290.8,299.3L298.3,299.3L298.5,299.3L298.7,299.2L298.9,299.2L299.1,299.1L299.3,299.1L299.5,299.0L299.7,298.9L299.9,298.8L300.1,298.6L300.3,298.4L300.5,298.2L300.7,298.0L300.9,297.7L301.1,297.4L301.3,297.0L301.5,296.6L301.7,296.1L301.9,295.6L302.1,295.1L302.3,294.6L302.5,294.0L302.7,293.5L302.9,293.0L303.1,292.4L303.3,291.9L303.5,291.5L303.7,291.1L303.9,290.8L304.1,290.6L304.3,290.4L304.5,290.3L304.7,290.4L304.9,290.5L305.1,290.7L305.3,291.0L305.5,291.3L305.7,291.8L305.9,292.2L306.1,292.7L306.3,293.3L306.5,293.8L306.7,294.4L306.9,294.9L307.1,295.4L307.3,295.9L307.6,296.4L307.8,296.8L308.0,297.2L308.2,297.6L308.4,297.9L308.6,298.1L308.8,298.3L309.0,298.5L309.2,298.7L309.4,298.8L309.6,298.9L309.8,299.0L310.0,299.1L310.2,299.2L310.4,299.2L310.6,299.2L310.8,299.3L311.0,299.3L311.2,299.3L313.0,299.3L313.0,299.3Z" fill="#2a8c3e" fill-opacity="0.9" stroke="#1a1a1a" stroke-width="0.55"/>
<path d="M290.8,304.9L290.8,304.8L297.5,304.8L297.7,304.8L297.9,304.7L298.1,304.7L298.3,304.6L298.5,304.6L298.7,304.5L298.9,304.4L299.1,304.3L299.3,304.1L299.5,304.0L299.7,303.8L299.9,303.5L300.1,303.3L300.3,303.0L300.5,302.6L300.7,302.2L300.9,301.8L301.1,301.4L301.3,300.9L301.5,300.4L301.7,299.9L301.9,299.5L302.1,299.0L302.3,298.5L302.5,298.1L302.7,297.7L302.9,297.4L303.1,297.2L303.3,297.0L303.5,296.9L303.7,296.9L303.9,296.9L304.1,297.0L304.3,297.3L304.5,297.5L304.7,297.9L304.9,298.3L305.1,298.7L305.3,299.2L305.5,299.7L305.7,300.1L305.9,300.6L306.1,301.1L306.3,301.6L306.5,302.0L306.7,302.4L306.9,302.8L307.1,303.1L307.3,303.4L307.6,303.6L307.8,303.9L308.0,304.0L308.2,304.2L308.4,304.3L308.6,304.4L308.8,304.5L309.0,304.6L309.2,304.7L309.4,304.7L309.6,304.7L309.8,304.8L310.0,304.8L310.2,304.8L313.0,304.8L313.0,304.9Z" fill="#6cc070" fill-opacity="0.9" stroke="#1a1a1a" stroke-width="0.55"/>
<path d="M290.8,310.4L290.8,310.4L293.8,310.3L294.0,310.3L294.2,310.2L294.4,310.2L294.6,310.2L294.8,310.1L295.0,310.0L295.2,310.0L295.4,309.9L295.6,309.7L295.8,309.6L296.0,309.4L296.2,309.2L296.5,309.0L296.7,308.8L296.9,308.5L297.1,308.2L297.3,307.8L297.5,307.4L297.7,307.0L297.9,306.6L298.1,306.1L298.3,305.6L298.5,305.1L298.7,304.7L298.9,304.2L299.1,303.7L299.3,303.2L299.5,302.8L299.7,302.4L299.9,302.1L300.1,301.8L300.3,301.6L300.5,301.4L300.7,301.4L300.9,301.4L301.1,301.4L301.3,301.6L301.5,301.8L301.7,302.1L301.9,302.4L302.1,302.8L302.3,303.2L302.5,303.7L302.7,304.2L302.9,304.7L303.1,305.1L303.3,305.6L303.5,306.1L303.7,306.6L303.9,307.0L304.1,307.4L304.3,307.8L304.5,308.2L304.7,308.5L304.9,308.8L305.1,309.0L305.3,309.2L305.5,309.4L305.7,309.6L305.9,309.7L306.1,309.9L306.3,310.0L306.5,310.0L306.7,310.1L306.9,310.2L307.1,310.2L307.3,310.2L307.6,310.3L307.8,310.3L308.0,310.3L313.0,310.4L313.0,310.4Z" fill="#2465b0" fill-opacity="0.9" stroke="#1a1a1a" stroke-width="0.55"/>
<path d="M290.8,315.9L290.8,315.2L291.0,314.9L291.2,314.7L291.4,314.4L291.6,314.0L291.8,313.6L292.0,313.1L292.2,312.6L292.4,312.0L292.6,311.5L292.8,310.9L293.0,310.4L293.2,309.9L293.4,309.4L293.6,309.1L293.8,308.8L294.0,308.6L294.2,308.6L294.4,308.6L294.6,308.8L294.8,309.1L295.0,309.4L295.2,309.8L295.4,310.2L295.6,310.7L295.8,311.1L296.0,311.6L296.2,311.9L296.5,312.3L296.7,312.6L296.9,312.9L297.1,313.1L297.3,313.3L297.5,313.4L297.7,313.5L297.9,313.6L298.1,313.6L298.3,313.7L298.5,313.7L298.7,313.8L298.9,313.8L299.1,313.9L299.3,313.9L299.5,314.0L299.7,314.1L299.9,314.2L300.1,314.3L300.3,314.4L300.5,314.5L300.7,314.6L300.9,314.7L301.1,314.8L301.3,314.9L301.5,315.0L301.7,315.1L301.9,315.2L302.1,315.3L302.3,315.4L302.5,315.5L302.7,315.5L302.9,315.6L303.1,315.6L303.3,315.7L303.5,315.7L303.7,315.7L303.9,315.8L304.1,315.8L304.3,315.8L304.5,315.8L304.7,315.8L313.0,315.9L313.0,315.9Z" fill="#6fb1e6" fill-opacity="0.9" stroke="#1a1a1a" stroke-width="0.55"/>
<path d="M290.8,321.4L290.8,321.3L291.0,321.0L291.2,318.5L291.4,313.6L291.6,315.3L291.8,317.3L292.0,318.6L292.2,319.4L292.4,319.8L292.6,320.0L292.8,320.1L293.0,320.0L293.2,319.9L293.4,319.8L293.6,319.6L293.8,319.4L294.0,319.1L294.2,318.9L294.4,318.6L294.6,318.3L294.8,318.0L295.0,317.7L295.2,317.4L295.4,317.1L295.6,316.8L295.8,316.6L296.0,316.4L296.2,316.2L296.5,316.1L296.7,316.0L296.9,315.9L297.1,315.9L297.3,315.9L297.5,316.0L297.7,316.1L297.9,316.3L298.1,316.5L298.3,316.7L298.5,316.9L298.7,317.2L298.9,317.5L299.1,317.8L299.3,318.1L299.5,318.4L299.7,318.7L299.9,319.0L300.1,319.3L300.3,319.5L300.5,319.8L300.7,320.0L300.9,320.2L301.1,320.4L301.3,320.5L301.5,320.7L301.7,320.8L301.9,320.9L302.1,321.0L302.3,321.1L302.5,321.1L302.7,321.2L302.9,321.2L303.1,321.3L303.3,321.3L303.5,321.3L303.7,321.3L303.9,321.3L313.0,321.4L313.0,321.4Z" fill="#c81e5a" fill-opacity="0.9" stroke="#1a1a1a" stroke-width="0.55"/>
<path d="M290.8,326.9L290.8,326.3L291.0,326.3L291.2,326.3L291.4,326.2L291.6,326.2L291.8,326.1L292.0,326.1L292.2,326.0L292.4,325.9L292.6,325.9L292.8,325.8L293.0,325.7L293.2,325.7L293.4,325.6L293.6,325.5L293.8,325.5L294.0,325.4L294.2,325.3L294.4,325.3L294.6,325.2L294.8,325.1L295.0,325.1L295.2,325.0L295.4,324.9L295.6,324.9L295.8,324.8L296.0,324.8L296.2,324.7L296.5,324.7L296.7,324.6L296.9,324.6L297.1,324.5L297.3,324.5L297.5,324.5L297.7,324.4L297.9,324.4L298.1,324.4L298.3,324.4L298.5,324.4L298.7,324.4L298.9,324.4L299.1,324.4L299.3,324.4L299.5,324.4L299.7,324.5L299.9,324.5L300.1,324.5L300.3,324.5L300.5,324.6L300.7,324.6L300.9,324.6L301.1,324.6L301.3,324.7L301.5,324.7L301.7,324.7L301.9,324.7L302.1,324.6L302.3,324.6L302.5,324.5L302.7,324.4L302.9,324.3L303.1,324.1L303.3,323.9L303.5,323.7L303.7,323.5L303.9,323.2L304.1,322.9L304.3,322.5L304.5,322.2L304.7,321.8L304.9,321.4L305.1,321.1L305.3,320.7L305.5,320.4L305.7,320.1L305.9,319.9L306.1,319.7L306.3,319.5L306.5,319.4L306.7,319.4L306.9,319.5L307.1,319.6L307.3,319.8L307.6,320.1L307.8,320.4L308.0,320.7L308.2,321.1L308.4,321.5L308.6,322.0L308.8,322.4L309.0,322.9L309.2,323.3L309.4,323.7L309.6,324.1L309.8,324.5L310.0,324.8L310.2,325.1L310.4,325.4L310.6,325.7L310.8,325.9L311.0,326.1L311.2,326.2L311.4,326.4L311.6,326.5L311.8,326.6L312.0,326.6L312.2,326.7L312.4,326.7L312.6,326.8L312.8,326.8L313.0,326.8L313.0,326.9Z" fill="#d9561f" fill-opacity="0.9" stroke="#1a1a1a" stroke-width="0.55"/>
<path d="M290.8,332.4L290.8,332.1L291.0,332.1L291.2,331.7L291.4,328.3L291.6,320.2L291.8,320.1L292.0,322.0L292.2,323.5L292.4,324.8L292.6,325.8L292.8,326.6L293.0,327.3L293.2,327.8L293.4,328.2L293.6,328.6L293.8,328.9L294.0,329.1L294.2,329.3L294.4,329.4L294.6,329.6L294.8,329.7L295.0,329.8L295.2,329.9L295.4,330.0L295.6,330.1L295.8,330.2L296.0,330.3L296.2,330.4L296.5,330.5L296.7,330.6L296.9,330.7L297.1,330.9L297.3,331.0L297.5,331.1L297.7,331.2L297.9,331.4L298.1,331.5L298.3,331.6L298.5,331.7L298.7,331.8L298.9,331.9L299.1,331.9L299.3,332.0L299.5,332.1L299.7,332.1L299.9,332.2L300.1,332.2L300.3,332.2L300.5,332.3L300.7,332.3L300.9,332.3L301.1,332.3L301.3,332.3L301.5,332.4L313.0,332.4L313.0,332.4Z" fill="#a60f1a" fill-opacity="0.9" stroke="#1a1a1a" stroke-width="0.55"/>
<path d="M290.8,337.9L290.8,337.9L291.4,337.8L291.6,337.8L291.8,337.8L292.0,337.7L292.2,337.7L292.4,337.6L292.6,337.5L292.8,337.3L293.0,337.2L293.2,337.0L293.4,336.8L293.6,336.5L293.8,336.2L294.0,335.8L294.2,335.4L294.4,335.0L294.6,334.6L294.8,334.1L295.0,333.6L295.2,333.1L295.4,332.7L295.6,332.2L295.8,331.8L296.0,331.5L296.2,331.2L296.5,331.0L296.7,330.9L296.9,330.9L297.1,331.0L297.3,331.1L297.5,331.4L297.7,331.7L297.9,332.1L298.1,332.5L298.3,332.9L298.5,333.4L298.7,333.9L298.9,334.4L299.1,334.8L299.3,335.3L299.5,335.7L299.7,336.0L299.9,336.4L300.1,336.7L300.3,336.9L300.5,337.1L300.7,337.3L300.9,337.4L301.1,337.5L301.3,337.6L301.5,337.7L301.7,337.8L301.9,337.8L302.1,337.8L302.3,337.9L302.5,337.9L313.0,337.9L313.0,337.9Z" fill="#5cbf86" fill-opacity="0.9" stroke="#1a1a1a" stroke-width="0.55"/>
<path d="M290.8,343.4L290.8,343.4L291.4,343.4L291.6,343.3L291.8,343.3L292.0,343.3L292.2,343.2L292.4,343.2L292.6,343.1L292.8,343.0L293.0,342.8L293.2,342.7L293.4,342.5L293.6,342.3L293.8,342.1L294.0,341.8L294.2,341.5L294.4,341.1L294.6,340.8L294.8,340.4L295.0,340.0L295.2,339.7L295.4,339.3L295.6,339.0L295.8,338.7L296.0,338.4L296.2,338.2L296.5,338.0L296.7,337.9L296.9,337.9L297.1,338.0L297.3,338.1L297.5,338.3L297.7,338.5L297.9,338.8L298.1,339.2L298.3,339.5L298.5,339.9L298.7,340.3L298.9,340.6L299.1,341.0L299.3,341.3L299.5,341.7L299.7,342.0L299.9,342.2L300.1,342.4L300.3,342.6L300.5,342.8L300.7,342.9L300.9,343.0L301.1,343.1L301.3,343.2L301.5,343.3L301.7,343.3L301.9,343.3L302.1,343.4L302.3,343.4L313.0,343.4L313.0,343.4Z" fill="#f0b27a" fill-opacity="0.9" stroke="#1a1a1a" stroke-width="0.55"/>
<path d="M290.8,348.9L290.8,348.9L291.4,348.9L291.6,348.8L291.8,348.8L292.0,348.8L292.2,348.7L292.4,348.6L292.6,348.6L292.8,348.4L293.0,348.3L293.2,348.1L293.4,347.9L293.6,347.7L293.8,347.4L294.0,347.1L294.2,346.8L294.4,346.5L294.6,346.1L294.8,345.7L295.0,345.2L295.2,344.8L295.4,344.4L295.6,344.1L295.8,343.7L296.0,343.4L296.2,343.2L296.5,343.0L296.7,342.9L296.9,342.9L297.1,343.0L297.3,343.1L297.5,343.3L297.7,343.6L297.9,343.9L298.1,344.3L298.3,344.7L298.5,345.1L298.7,345.5L298.9,345.9L299.1,346.3L299.3,346.7L299.5,347.0L299.7,347.3L299.9,347.6L300.1,347.9L300.3,348.1L300.5,348.2L300.7,348.4L300.9,348.5L301.1,348.6L301.3,348.7L301.5,348.7L301.7,348.8L301.9,348.8L302.1,348.9L302.3,348.9L313.0,348.9L313.0,348.9Z" fill="#22a7a0" fill-opacity="0.9" stroke="#1a1a1a" stroke-width="0.55"/>
<path d="M290.8,354.4L290.8,354.4L291.0,354.4L291.2,354.4L291.4,354.3L291.6,354.3L291.8,354.2L292.0,354.2L292.2,354.1L292.4,354.0L292.6,353.9L292.8,353.8L293.0,353.6L293.2,353.5L293.4,353.2L293.6,353.0L293.8,352.8L294.0,352.5L294.2,352.2L294.4,351.8L294.6,351.5L294.8,351.1L295.0,350.8L295.2,350.4L295.4,350.0L295.6,349.7L295.8,349.4L296.0,349.1L296.2,348.9L296.5,348.7L296.7,348.5L296.9,348.5L297.1,348.4L297.3,348.5L297.5,348.6L297.7,348.7L297.9,349.0L298.1,349.2L298.3,349.5L298.5,349.8L298.7,350.2L298.9,350.5L299.1,350.9L299.3,351.3L299.5,351.6L299.7,352.0L299.9,352.3L300.1,352.6L300.3,352.9L300.5,353.1L300.7,353.3L300.9,353.5L301.1,353.7L301.3,353.8L301.5,354.0L301.7,354.1L301.9,354.1L302.1,354.2L302.3,354.3L302.5,354.3L302.7,354.3L302.9,354.4L303.1,354.4L303.3,354.4L313.0,354.4L313.0,354.4Z" fill="#e9b52a" fill-opacity="0.9" stroke="#1a1a1a" stroke-width="0.55"/>
<path d="M161.9,280 V355 M188.5,281 V355 M265.7,259 V301 M291.4,258 V296" stroke="#111" stroke-width="0.9"/>
<path d="M241.1,264 V333" stroke="#111" stroke-width="1.1"/>
<path d="M214.5,316 V355" stroke="#111" stroke-width="1.0"/>
<text x="316.2" y="277.2" font-size="6.45" text-anchor="start" fill="#231f20">HeH blasts</text>
<text x="316.2" y="282.94" font-size="6.45" text-anchor="start" fill="#231f20">ETV6::RUNX1 blasts</text>
<text x="316.2" y="288.68" font-size="6.45" text-anchor="start" fill="#231f20">BCR::ABL1 blasts</text>
<text x="316.2" y="294.41999999999996" font-size="6.45" text-anchor="start" fill="#231f20">DUX4-r blasts</text>
<text x="316.2" y="300.15999999999997" font-size="6.45" text-anchor="start" fill="#231f20">NK cells</text>
<text x="316.2" y="305.9" font-size="6.45" text-anchor="start" fill="#231f20">T cells</text>
<text x="316.2" y="311.64" font-size="6.45" text-anchor="start" fill="#231f20">B cells</text>
<text x="316.2" y="317.38" font-size="6.45" text-anchor="start" fill="#231f20">Progenitor B cells</text>
<text x="316.2" y="323.12" font-size="6.45" text-anchor="start" fill="#231f20">Dendritic cells</text>
<text x="316.2" y="328.86" font-size="6.45" text-anchor="start" fill="#231f20">Monocytes</text>
<text x="316.2" y="334.6" font-size="6.45" text-anchor="start" fill="#231f20">Erythroid</text>
<text x="316.2" y="340.34" font-size="6.45" text-anchor="start" fill="#231f20">Megakaryocytic cells</text>
<text x="316.2" y="346.08" font-size="6.45" text-anchor="start" fill="#231f20">GMP</text>
<text x="316.2" y="351.82" font-size="6.45" text-anchor="start" fill="#231f20">LMPP</text>
<text x="316.2" y="357.56" font-size="6.45" text-anchor="start" fill="#231f20">HSC</text>
<text x="161.2" y="362.7" font-size="6.6" text-anchor="middle" fill="#231f20">0</text>
<text x="166.475" y="362.7" font-size="6.6" text-anchor="middle" fill="#231f20">1</text>
<text x="171.75" y="362.7" font-size="6.6" text-anchor="middle" fill="#231f20">2</text>
<text x="177.02499999999998" y="362.7" font-size="6.6" text-anchor="middle" fill="#231f20">3</text>
<text x="182.29999999999998" y="362.7" font-size="6.6" text-anchor="middle" fill="#231f20">4</text>
<text x="187.79999999999998" y="362.7" font-size="6.6" text-anchor="middle" fill="#231f20">0</text>
<text x="193.96666666666664" y="362.7" font-size="6.6" text-anchor="middle" fill="#231f20">1</text>
<text x="200.13333333333333" y="362.7" font-size="6.6" text-anchor="middle" fill="#231f20">2</text>
<text x="206.29999999999998" y="362.7" font-size="6.6" text-anchor="middle" fill="#231f20">3</text>
<text x="214.0" y="362.7" font-size="6.6" text-anchor="middle" fill="#231f20">0</text>
<text x="219.325" y="362.7" font-size="6.6" text-anchor="middle" fill="#231f20">1</text>
<text x="224.65" y="362.7" font-size="6.6" text-anchor="middle" fill="#231f20">2</text>
<text x="229.975" y="362.7" font-size="6.6" text-anchor="middle" fill="#231f20">3</text>
<text x="235.3" y="362.7" font-size="6.6" text-anchor="middle" fill="#231f20">4</text>
<text x="240.79999999999998" y="362.7" font-size="6.6" text-anchor="middle" fill="#231f20">0</text>
<text x="245.95" y="362.7" font-size="6.6" text-anchor="middle" fill="#231f20">1</text>
<text x="251.1" y="362.7" font-size="6.6" text-anchor="middle" fill="#231f20">2</text>
<text x="256.25" y="362.7" font-size="6.6" text-anchor="middle" fill="#231f20">3</text>
<text x="261.4" y="362.7" font-size="6.6" text-anchor="middle" fill="#231f20">4</text>
<text x="265.6" y="362.7" font-size="6.6" text-anchor="middle" fill="#231f20">0</text>
<text x="271.6666666666667" y="362.7" font-size="6.6" text-anchor="middle" fill="#231f20">2</text>
<text x="277.73333333333335" y="362.7" font-size="6.6" text-anchor="middle" fill="#231f20">4</text>
<text x="283.8" y="362.7" font-size="6.6" text-anchor="middle" fill="#231f20">6</text>
<text x="291.40000000000003" y="362.7" font-size="6.6" text-anchor="middle" fill="#231f20">0</text>
<text x="296.50000000000006" y="362.7" font-size="6.6" text-anchor="middle" fill="#231f20">1</text>
<text x="301.6" y="362.7" font-size="6.6" text-anchor="middle" fill="#231f20">2</text>
<text x="306.70000000000005" y="362.7" font-size="6.6" text-anchor="middle" fill="#231f20">3</text>
<text x="311.8" y="362.7" font-size="6.6" text-anchor="middle" fill="#231f20">4</text>
<text x="238.2" y="375.2" font-size="7.1" text-anchor="middle" fill="#231f20" textLength="48" lengthAdjust="spacingAndGlyphs">Expression Level</text>
<text x="383.5" y="247" font-size="12" text-anchor="start" fill="#000" font-weight="bold">F</text>
<text x="0" y="0" font-size="6.25" fill="#b83a3a" transform="translate(418.6,260.6) scale(0.6,1)">T</text>
<text x="0" y="0" font-size="15.56" fill="#2e9e3e" transform="translate(420.9,260.6) scale(0.52,1)">A</text>
<text x="0" y="0" font-size="15.56" fill="#2e9e3e" transform="translate(427.0,260.6) scale(0.52,1)">A</text>
<text x="0" y="0" font-size="3.61" fill="#2e9e3e" transform="translate(433.2,260.6) scale(0.5,1)">A</text>
<text x="0" y="0" font-size="3.61" fill="#2a5fb0" transform="translate(435.3,260.6) scale(0.5,1)">C</text>
<text x="0" y="0" font-size="3.61" fill="#2e9e3e" transform="translate(437.4,260.6) scale(0.5,1)">A</text>
<text x="0" y="0" font-size="15.56" fill="#2e9e3e" transform="translate(440.0,260.6) scale(0.52,1)">A</text>
<text x="0" y="0" font-size="15.56" fill="#2e9e3e" transform="translate(444.3,260.6) scale(0.52,1)">A</text>
<text x="0" y="0" font-size="15.56" fill="#d03040" transform="translate(448.4,260.6) scale(0.5,1)">T</text>
<text x="0" y="0" font-size="13.19" fill="#2a5fb0" transform="translate(453.1,260.6) scale(0.52,1)">C</text>
<text x="0" y="0" font-size="8.33" fill="#2e9e3e" transform="translate(457.6,260.6) scale(0.5,1)">A</text>
<path d="M420.5,264 V352.4 H510.2" fill="none" stroke="#231f20" stroke-width="0.9"/>
<line x1="418.0" y1="266.3" x2="420.5" y2="266.3" stroke="#231f20" stroke-width="0.6"/>
<text x="414.8" y="268.5" font-size="6.3" text-anchor="end" fill="#231f20">1.0</text>
<line x1="418.0" y1="285.8" x2="420.5" y2="285.8" stroke="#231f20" stroke-width="0.6"/>
<text x="414.8" y="288.0" font-size="6.3" text-anchor="end" fill="#231f20">0.5</text>
<line x1="418.0" y1="305.3" x2="420.5" y2="305.3" stroke="#231f20" stroke-width="0.6"/>
<text x="414.8" y="307.5" font-size="6.3" text-anchor="end" fill="#231f20">0.0</text>
<line x1="418.0" y1="324.8" x2="420.5" y2="324.8" stroke="#231f20" stroke-width="0.6"/>
<text x="414.8" y="327.0" font-size="6.3" text-anchor="end" fill="#231f20">−0.5</text>
<line x1="419.0" y1="331.5" x2="420.5" y2="331.5" stroke="#231f20" stroke-width="0.4"/>
<text x="418.3" y="332.8" font-size="3.6" text-anchor="end" fill="#231f20">1.25</text>
<line x1="419.0" y1="335.8" x2="420.5" y2="335.8" stroke="#231f20" stroke-width="0.4"/>
<text x="418.3" y="337.1" font-size="3.6" text-anchor="end" fill="#231f20">1.00</text>
<line x1="419.0" y1="340.1" x2="420.5" y2="340.1" stroke="#231f20" stroke-width="0.4"/>
<text x="418.3" y="341.40000000000003" font-size="3.6" text-anchor="end" fill="#231f20">0.75</text>
<line x1="419.0" y1="344.4" x2="420.5" y2="344.4" stroke="#231f20" stroke-width="0.4"/>
<text x="418.3" y="345.7" font-size="3.6" text-anchor="end" fill="#231f20">0.50</text>
<line x1="419.0" y1="348.7" x2="420.5" y2="348.7" stroke="#231f20" stroke-width="0.4"/>
<text x="418.3" y="350.0" font-size="3.6" text-anchor="end" fill="#231f20">0.25</text>
<text x="397.6" y="293.8" font-size="7.0" text-anchor="middle" fill="#231f20" transform="rotate(-90 397.6 293.8)" textLength="41" lengthAdjust="spacingAndGlyphs">Tn5 insertion</text>
<text x="403.0" y="293.3" font-size="7.0" text-anchor="middle" fill="#231f20" transform="rotate(-90 403.0 293.3)" textLength="36.6" lengthAdjust="spacingAndGlyphs">enrichment</text>
<text x="389.6" y="341.4" font-size="7.0" text-anchor="middle" fill="#231f20" transform="rotate(-90 389.6 341.4)" textLength="25.8" lengthAdjust="spacingAndGlyphs">Expected</text>
<text x="396.8" y="340.7" font-size="7.0" text-anchor="middle" fill="#231f20" transform="rotate(-90 396.8 340.7)" textLength="44" lengthAdjust="spacingAndGlyphs">Tn5 enrichment</text>
<line x1="436.4" y1="352.4" x2="436.4" y2="354.5" stroke="#231f20" stroke-width="0.6"/>
<text x="436.4" y="363.5" font-size="6.3" text-anchor="middle" fill="#231f20">−200</text>
<line x1="451.7" y1="352.4" x2="451.7" y2="354.5" stroke="#231f20" stroke-width="0.6"/>
<text x="451.7" y="363.5" font-size="6.3" text-anchor="middle" fill="#231f20">−100</text>
<line x1="467.0" y1="352.4" x2="467.0" y2="354.5" stroke="#231f20" stroke-width="0.6"/>
<text x="467.0" y="363.5" font-size="6.3" text-anchor="middle" fill="#231f20">0</text>
<line x1="482.3" y1="352.4" x2="482.3" y2="354.5" stroke="#231f20" stroke-width="0.6"/>
<text x="482.3" y="363.5" font-size="6.3" text-anchor="middle" fill="#231f20">100</text>
<line x1="497.6" y1="352.4" x2="497.6" y2="354.5" stroke="#231f20" stroke-width="0.6"/>
<text x="497.6" y="363.5" font-size="6.3" text-anchor="middle" fill="#231f20">200</text>
<text x="467" y="376.2" font-size="7.4" text-anchor="middle" fill="#231f20" textLength="78" lengthAdjust="spacingAndGlyphs">Distance from motif DUX4</text>
<polyline points="424.5,305.7 425.5,307.6 426.5,307.0 427.5,306.2 428.5,307.3 429.5,306.5 430.5,306.3 431.5,307.1 432.5,307.5 433.5,306.3 434.5,305.7 435.5,307.0 436.5,306.7 437.5,305.2 438.5,306.9 439.5,306.9 440.5,304.6 441.5,307.7 442.5,305.8 443.5,308.0 444.5,306.9 445.5,305.3 446.5,305.5 447.5,307.2 448.5,306.8 449.5,306.4 450.5,307.5 451.5,306.0 452.5,304.7 453.5,307.5 454.5,308.0 455.5,306.2 456.5,306.6 457.5,305.1 458.5,306.6 459.5,306.5 460.5,306.6 461.5,307.2 462.5,305.9 463.5,310.1 464.5,303.3 465.5,306.4 466.5,304.1 467.5,309.1 468.5,309.0 469.5,301.6 470.5,305.2 471.5,305.5 472.5,306.3 473.5,304.4 474.5,306.2 475.5,307.3 476.5,305.9 477.5,306.1 478.5,308.3 479.5,306.6 480.5,305.7 481.5,305.8 482.5,306.7 483.5,307.4 484.5,306.1 485.5,307.4 486.5,305.4 487.5,306.7 488.5,307.2 489.5,306.9 490.5,307.1 491.5,306.9 492.5,307.0 493.5,306.8 494.5,306.3 495.5,306.0 496.5,307.3 497.5,307.2 498.5,306.8 499.5,306.4 500.5,306.4 501.5,308.1 502.5,305.1 503.5,307.2 504.5,305.1 505.5,307.5 506.5,307.2 507.5,306.7 508.5,306.6" fill="none" stroke="#8a8a3a" stroke-width="0.7" stroke-opacity="0.9"/>
<polyline points="424.5,302.5 425.5,302.4 426.5,303.5 427.5,304.1 428.5,304.4 429.5,303.5 430.5,304.3 431.5,304.7 432.5,303.4 433.5,303.4 434.5,303.1 435.5,304.3 436.5,303.5 437.5,303.6 438.5,304.7 439.5,303.1 440.5,303.3 441.5,301.7 442.5,303.4 443.5,303.7 444.5,302.6 445.5,303.4 446.5,302.8 447.5,303.8 448.5,303.4 449.5,302.7 450.5,303.0 451.5,303.4 452.5,304.4 453.5,303.2 454.5,303.5 455.5,303.0 456.5,303.4 457.5,302.7 458.5,303.6 459.5,303.4 460.5,303.0 461.5,304.4 462.5,303.9 463.5,304.9 464.5,298.1 465.5,303.8 466.5,300.5 467.5,300.6 468.5,304.3 469.5,307.8 470.5,300.9 471.5,303.9 472.5,303.0 473.5,304.6 474.5,303.9 475.5,302.6 476.5,302.4 477.5,304.6 478.5,304.6 479.5,303.6 480.5,303.0 481.5,303.4 482.5,303.3 483.5,304.3 484.5,303.1 485.5,302.7 486.5,303.9 487.5,304.7 488.5,304.1 489.5,303.0 490.5,304.9 491.5,303.6 492.5,304.3 493.5,303.6 494.5,303.7 495.5,303.5 496.5,302.4 497.5,303.2 498.5,302.5 499.5,303.7 500.5,303.9 501.5,303.2 502.5,305.8 503.5,303.6 504.5,303.4 505.5,304.5 506.5,303.2 507.5,304.0 508.5,305.5" fill="none" stroke="#e8503a" stroke-width="0.7" stroke-opacity="0.9"/>
<polyline points="424.5,305.8 425.5,308.2 426.5,307.3 427.5,307.5 428.5,307.0 429.5,308.7 430.5,308.0 431.5,308.2 432.5,308.5 433.5,308.3 434.5,308.0 435.5,307.9 436.5,308.3 437.5,307.3 438.5,308.1 439.5,310.1 440.5,306.7 441.5,307.9 442.5,308.2 443.5,307.4 444.5,307.5 445.5,307.6 446.5,308.3 447.5,307.5 448.5,308.8 449.5,306.5 450.5,308.6 451.5,307.8 452.5,307.6 453.5,307.5 454.5,307.8 455.5,307.3 456.5,310.5 457.5,307.8 458.5,307.9 459.5,308.1 460.5,306.5 461.5,308.5 462.5,307.8 463.5,313.6 464.5,307.3 465.5,312.4 466.5,315.6 467.5,297.2 468.5,306.1 469.5,308.0 470.5,307.5 471.5,308.9 472.5,308.6 473.5,307.4 474.5,309.4 475.5,307.5 476.5,309.1 477.5,307.6 478.5,308.6 479.5,306.4 480.5,306.9 481.5,308.2 482.5,309.2 483.5,308.4 484.5,307.8 485.5,308.5 486.5,307.5 487.5,307.0 488.5,307.8 489.5,308.1 490.5,307.1 491.5,308.0 492.5,307.1 493.5,308.0 494.5,306.5 495.5,308.0 496.5,308.6 497.5,307.7 498.5,308.2 499.5,308.5 500.5,307.8 501.5,307.1 502.5,309.5 503.5,307.8 504.5,307.9 505.5,307.9 506.5,307.1 507.5,308.8 508.5,307.2" fill="none" stroke="#2a7a44" stroke-width="0.7" stroke-opacity="0.9"/>
<polyline points="424.5,306.8 425.5,305.9 426.5,307.6 427.5,306.1 428.5,307.1 429.5,307.1 430.5,305.4 431.5,306.7 432.5,306.9 433.5,306.3 434.5,306.0 435.5,306.9 436.5,306.4 437.5,307.6 438.5,307.1 439.5,307.2 440.5,307.9 441.5,308.0 442.5,308.1 443.5,307.0 444.5,307.0 445.5,307.1 446.5,306.8 447.5,307.9 448.5,306.9 449.5,306.7 450.5,306.3 451.5,307.5 452.5,307.2 453.5,308.4 454.5,307.3 455.5,308.6 456.5,308.0 457.5,306.0 458.5,308.6 459.5,306.2 460.5,306.6 461.5,307.1 462.5,306.5 463.5,305.4 464.5,304.0 465.5,307.5 466.5,309.6 467.5,309.7 468.5,309.6 469.5,307.0 470.5,309.0 471.5,306.0 472.5,308.3 473.5,307.7 474.5,307.6 475.5,308.5 476.5,305.4 477.5,308.7 478.5,307.1 479.5,307.3 480.5,305.6 481.5,308.4 482.5,306.0 483.5,307.4 484.5,307.0 485.5,307.4 486.5,306.4 487.5,307.7 488.5,306.9 489.5,306.6 490.5,305.4 491.5,308.7 492.5,305.7 493.5,306.1 494.5,307.2 495.5,306.6 496.5,307.2 497.5,305.6 498.5,306.7 499.5,307.0 500.5,307.0 501.5,307.0 502.5,307.0 503.5,307.5 504.5,305.3 505.5,308.4 506.5,309.7 507.5,307.0 508.5,307.0" fill="none" stroke="#8cc040" stroke-width="0.7" stroke-opacity="0.9"/>
<polyline points="424.5,304.1 425.5,303.8 426.5,304.5 427.5,303.9 428.5,303.4 429.5,303.8 430.5,302.9 431.5,304.8 432.5,304.1 433.5,304.7 434.5,304.7 435.5,304.3 436.5,304.0 437.5,303.8 438.5,303.7 439.5,302.4 440.5,303.5 441.5,305.4 442.5,304.0 443.5,304.6 444.5,304.5 445.5,303.1 446.5,304.3 447.5,305.7 448.5,303.9 449.5,304.4 450.5,305.0 451.5,304.8 452.5,304.6 453.5,304.1 454.5,304.5 455.5,304.1 456.5,302.7 457.5,304.8 458.5,304.8 459.5,304.3 460.5,303.3 461.5,304.7 462.5,303.0 463.5,307.7 464.5,306.9 465.5,304.3 466.5,308.2 467.5,307.0 468.5,302.9 469.5,302.2 470.5,303.8 471.5,304.3 472.5,303.1 473.5,303.8 474.5,304.3 475.5,303.2 476.5,304.8 477.5,304.0 478.5,303.6 479.5,304.1 480.5,304.6 481.5,303.9 482.5,304.6 483.5,304.6 484.5,304.9 485.5,303.1 486.5,304.6 487.5,303.2 488.5,303.8 489.5,304.3 490.5,303.6 491.5,303.9 492.5,304.0 493.5,305.2 494.5,304.1 495.5,303.4 496.5,303.7 497.5,303.4 498.5,303.0 499.5,303.8 500.5,302.6 501.5,305.3 502.5,304.3 503.5,306.1 504.5,303.5 505.5,304.1 506.5,302.8 507.5,304.4 508.5,305.7" fill="none" stroke="#c4582a" stroke-width="0.7" stroke-opacity="0.9"/>
<polyline points="424.5,308.2 425.5,308.1 426.5,306.7 427.5,309.0 428.5,307.4 429.5,309.0 430.5,306.4 431.5,307.1 432.5,306.2 433.5,307.6 434.5,306.9 435.5,307.5 436.5,307.8 437.5,307.1 438.5,308.2 439.5,307.5 440.5,306.7 441.5,307.2 442.5,307.6 443.5,305.5 444.5,307.2 445.5,307.7 446.5,307.1 447.5,307.7 448.5,307.6 449.5,307.5 450.5,305.7 451.5,307.2 452.5,307.1 453.5,306.7 454.5,305.7 455.5,307.4 456.5,307.7 457.5,305.3 458.5,308.4 459.5,307.5 460.5,306.7 461.5,305.5 462.5,308.0 463.5,313.9 464.5,305.4 465.5,308.7 466.5,309.1 467.5,305.1 468.5,306.6 469.5,306.5 470.5,308.4 471.5,306.2 472.5,306.1 473.5,307.2 474.5,307.6 475.5,306.7 476.5,306.9 477.5,308.1 478.5,307.6 479.5,306.4 480.5,307.3 481.5,307.5 482.5,307.1 483.5,307.3 484.5,307.3 485.5,308.8 486.5,305.9 487.5,307.1 488.5,307.9 489.5,306.5 490.5,307.0 491.5,307.2 492.5,306.4 493.5,305.5 494.5,306.8 495.5,306.0 496.5,305.6 497.5,308.0 498.5,307.7 499.5,306.6 500.5,308.6 501.5,307.5 502.5,306.2 503.5,306.4 504.5,306.8 505.5,308.7 506.5,305.4 507.5,306.8 508.5,306.7" fill="none" stroke="#6cb87c" stroke-width="0.7" stroke-opacity="0.9"/>
<polyline points="424.5,303.5 425.5,305.3 426.5,304.5 427.5,303.9 428.5,302.8 429.5,303.9 430.5,305.2 431.5,303.7 432.5,304.9 433.5,303.0 434.5,304.1 435.5,302.5 436.5,304.0 437.5,304.7 438.5,305.1 439.5,304.2 440.5,303.6 441.5,303.0 442.5,303.7 443.5,304.5 444.5,303.5 445.5,305.1 446.5,303.5 447.5,304.5 448.5,302.8 449.5,303.2 450.5,303.6 451.5,304.7 452.5,303.5 453.5,303.6 454.5,304.4 455.5,304.4 456.5,302.9 457.5,304.2 458.5,303.6 459.5,302.9 460.5,305.1 461.5,302.5 462.5,303.1 463.5,305.7 464.5,306.5 465.5,307.3 466.5,299.6 467.5,316.0 468.5,301.4 469.5,303.5 470.5,305.8 471.5,304.3 472.5,304.2 473.5,304.1 474.5,303.2 475.5,304.6 476.5,303.1 477.5,303.2 478.5,304.1 479.5,303.5 480.5,304.4 481.5,303.9 482.5,303.5 483.5,302.4 484.5,304.0 485.5,304.1 486.5,303.9 487.5,304.1 488.5,304.8 489.5,302.5 490.5,304.4 491.5,304.4 492.5,304.5 493.5,303.4 494.5,301.6 495.5,301.6 496.5,303.2 497.5,303.7 498.5,304.0 499.5,304.7 500.5,303.4 501.5,304.0 502.5,302.3 503.5,304.1 504.5,304.7 505.5,305.4 506.5,305.3 507.5,303.5 508.5,303.7" fill="none" stroke="#a3101f" stroke-width="0.7" stroke-opacity="0.9"/>
<polyline points="424.5,306.3 425.5,305.7 426.5,306.3 427.5,306.3 428.5,306.8 429.5,306.2 430.5,305.2 431.5,305.7 432.5,305.3 433.5,305.9 434.5,305.8 435.5,305.9 436.5,307.4 437.5,305.4 438.5,305.7 439.5,305.7 440.5,307.4 441.5,307.4 442.5,306.8 443.5,306.4 444.5,305.8 445.5,306.1 446.5,305.7 447.5,306.6 448.5,305.8 449.5,305.8 450.5,306.6 451.5,304.7 452.5,305.6 453.5,305.1 454.5,306.6 455.5,306.7 456.5,306.3 457.5,306.2 458.5,305.6 459.5,305.9 460.5,306.4 461.5,306.8 462.5,306.5 463.5,302.7 464.5,308.3 465.5,305.4 466.5,304.1 467.5,313.1 468.5,305.9 469.5,302.5 470.5,311.6 471.5,306.3 472.5,306.2 473.5,306.7 474.5,305.7 475.5,306.1 476.5,307.2 477.5,305.4 478.5,305.6 479.5,305.3 480.5,305.0 481.5,305.8 482.5,306.0 483.5,307.1 484.5,305.6 485.5,306.6 486.5,306.4 487.5,307.1 488.5,306.8 489.5,306.5 490.5,305.1 491.5,307.7 492.5,307.2 493.5,305.9 494.5,305.0 495.5,305.6 496.5,307.6 497.5,308.0 498.5,305.8 499.5,306.7 500.5,307.0 501.5,305.3 502.5,305.2 503.5,306.0 504.5,305.9 505.5,305.7 506.5,304.8 507.5,305.6 508.5,305.7" fill="none" stroke="#b0a040" stroke-width="0.7" stroke-opacity="0.9"/>
<polyline points="424.5,305.4 425.5,303.7 426.5,304.8 427.5,304.8 428.5,305.2 429.5,305.4 430.5,305.2 431.5,305.7 432.5,306.2 433.5,306.4 434.5,306.6 435.5,305.4 436.5,305.2 437.5,304.3 438.5,305.2 439.5,305.4 440.5,305.1 441.5,305.6 442.5,307.1 443.5,304.8 444.5,306.0 445.5,305.4 446.5,305.8 447.5,303.3 448.5,304.7 449.5,305.3 450.5,306.5 451.5,304.9 452.5,306.3 453.5,304.7 454.5,306.8 455.5,305.7 456.5,304.9 457.5,306.3 458.5,305.5 459.5,305.5 460.5,304.8 461.5,306.0 462.5,305.0 463.5,299.5 464.5,309.6 465.5,307.8 466.5,302.9 467.5,308.3 468.5,309.2 469.5,301.3 470.5,302.6 471.5,304.7 472.5,304.7 473.5,305.0 474.5,306.3 475.5,307.5 476.5,305.2 477.5,306.5 478.5,305.5 479.5,305.3 480.5,306.6 481.5,305.9 482.5,304.2 483.5,305.0 484.5,306.9 485.5,305.7 486.5,305.6 487.5,305.1 488.5,305.0 489.5,305.6 490.5,305.8 491.5,304.9 492.5,306.7 493.5,304.7 494.5,305.3 495.5,306.0 496.5,306.1 497.5,305.4 498.5,306.8 499.5,307.5 500.5,305.3 501.5,304.4 502.5,305.7 503.5,305.6 504.5,305.6 505.5,306.4 506.5,305.3 507.5,305.0 508.5,305.6" fill="none" stroke="#e2b43c" stroke-width="0.7" stroke-opacity="0.9"/>
<polyline points="424.5,308.8 425.5,307.9 426.5,307.0 427.5,306.8 428.5,307.1 429.5,308.0 430.5,307.8 431.5,308.2 432.5,309.0 433.5,308.4 434.5,307.3 435.5,307.8 436.5,308.3 437.5,308.8 438.5,308.1 439.5,308.5 440.5,308.0 441.5,307.7 442.5,309.8 443.5,308.1 444.5,309.2 445.5,308.8 446.5,309.0 447.5,307.2 448.5,307.5 449.5,307.6 450.5,308.6 451.5,309.1 452.5,308.3 453.5,307.9 454.5,308.1 455.5,307.5 456.5,308.3 457.5,306.6 458.5,307.5 459.5,306.5 460.5,307.8 461.5,308.2 462.5,308.7 463.5,305.8 464.5,305.2 465.5,307.6 466.5,306.1 467.5,309.3 468.5,309.2 469.5,308.8 470.5,313.1 471.5,308.8 472.5,308.0 473.5,307.9 474.5,307.2 475.5,307.5 476.5,307.7 477.5,308.0 478.5,309.8 479.5,308.0 480.5,308.7 481.5,307.7 482.5,308.3 483.5,308.3 484.5,308.5 485.5,308.3 486.5,309.6 487.5,309.3 488.5,307.1 489.5,307.7 490.5,308.4 491.5,308.3 492.5,308.3 493.5,305.5 494.5,307.6 495.5,308.0 496.5,308.6 497.5,309.9 498.5,307.9 499.5,307.0 500.5,307.3 501.5,307.8 502.5,308.5 503.5,309.0 504.5,308.0 505.5,308.4 506.5,308.9 507.5,306.8 508.5,308.8" fill="none" stroke="#5aa040" stroke-width="0.7" stroke-opacity="0.9"/>
<polyline points="424.5,307.8 425.5,307.4 426.5,307.5 427.5,307.3 428.5,306.5 429.5,308.4 430.5,307.3 431.5,307.4 432.5,307.7 433.5,307.1 434.5,307.1 435.5,305.1 436.5,306.8 437.5,307.1 438.5,306.4 439.5,307.9 440.5,307.5 441.5,306.6 442.5,307.4 443.5,307.8 444.5,307.5 445.5,308.1 446.5,306.2 447.5,306.1 448.5,305.0 449.5,307.3 450.5,307.2 451.5,307.2 452.5,306.6 453.5,307.0 454.5,306.4 455.5,307.3 456.5,308.2 457.5,305.8 458.5,307.4 459.5,306.2 460.5,307.3 461.5,306.9 462.5,308.4 463.5,309.7 464.5,306.0 465.5,305.4 466.5,308.2 467.5,306.4 468.5,312.1 469.5,306.9 470.5,308.9 471.5,307.9 472.5,306.8 473.5,307.4 474.5,307.7 475.5,307.4 476.5,307.4 477.5,307.3 478.5,307.0 479.5,307.4 480.5,306.3 481.5,305.8 482.5,306.3 483.5,307.3 484.5,307.6 485.5,306.8 486.5,307.2 487.5,306.0 488.5,306.9 489.5,306.7 490.5,307.5 491.5,306.9 492.5,307.9 493.5,308.2 494.5,306.9 495.5,307.9 496.5,307.5 497.5,306.4 498.5,305.8 499.5,307.0 500.5,307.4 501.5,306.5 502.5,306.3 503.5,306.6 504.5,307.7 505.5,307.4 506.5,306.3 507.5,307.9 508.5,307.0" fill="none" stroke="#7a8a3a" stroke-width="0.7" stroke-opacity="0.9"/>
<path d="M424.8,305.3 V317.0 M508.3,305.3 V316.2" stroke="#b8b890" stroke-width="0.6"/>
<polyline points="440.0,306.9 440.4,305.5 440.9,305.6 441.3,305.0 441.8,306.0 442.2,307.3 442.7,307.8 443.1,304.5 443.6,309.7 444.0,307.0 444.5,307.7 444.9,306.0 445.4,306.9 445.8,306.8 446.3,304.8 446.7,307.0 447.2,307.9 447.6,304.6 448.1,304.8 448.5,304.2 449.0,305.2 449.4,307.2 449.9,304.3 450.3,306.7 450.8,305.8 451.2,307.8 451.7,307.1 452.1,305.4 452.6,305.0 453.0,306.0 453.5,304.2 453.9,306.2 454.4,309.3 454.8,305.3 455.3,309.5 455.7,308.7 456.2,306.8 456.6,305.2 457.1,305.3 457.5,306.5 458.0,305.5 458.4,308.1 458.9,302.4 459.3,306.5 459.8,306.3 460.2,306.4 460.7,304.3 461.1,305.8 461.6,305.8 462.0,306.7 462.5,306.7 462.9,305.8 463.4,306.1 463.8,305.5 464.3,309.3 464.7,300.2 465.2,303.2 465.6,296.9 466.1,302.5 466.5,303.1 467.0,306.7 467.4,293.4 467.9,305.6 468.3,311.2 468.8,310.3 469.2,317.7 469.7,298.7 470.1,298.1 470.6,308.2 471.0,307.6 471.5,307.3 471.9,307.1 472.4,305.4 472.8,305.6 473.3,305.6 473.7,305.2 474.2,305.4 474.6,305.2 475.1,308.6 475.5,307.1 476.0,305.2 476.4,309.0 476.9,303.9 477.3,304.1 477.8,305.8 478.2,305.5 478.7,306.6 479.1,304.1 479.6,305.0 480.0,305.8 480.5,308.4 480.9,304.4 481.4,307.4 481.8,305.1 482.3,306.6 482.7,305.6 483.2,303.5 483.6,308.5 484.1,306.4 484.5,307.6 485.0,307.3 485.4,305.6 485.9,307.4 486.3,308.0 486.8,307.3 487.2,303.1 487.7,306.3 488.1,307.2 488.6,305.2 489.0,308.3 489.5,306.1 489.9,304.8 490.4,306.1 490.8,306.7 491.3,309.8 491.7,304.5 492.2,306.2 492.6,304.2 493.1,303.4 493.5,307.8 494.0,305.6" fill="none" stroke="#c8c43c" stroke-width="0.6"/>
<path d="M465.6,265.5 L465.6,324.8 M468.5,267.1 L468.5,322.9" stroke="#d8cc38" stroke-width="0.8"/>
<polyline points="424.5,305.0 425.1,305.0 425.6,304.1 426.2,305.4 426.7,304.4 427.3,305.3 427.8,303.7 428.4,304.1 428.9,303.5 429.5,304.4 430.0,303.9 430.6,304.2 431.1,304.3 431.7,303.8 432.2,304.4 432.8,303.9 433.3,303.4 433.9,303.6 434.4,303.7 435.0,302.4 435.5,303.4 436.1,303.6 436.6,303.1 437.2,303.3 437.7,303.1 438.3,303.0 438.8,301.8 439.4,302.6 439.9,302.4 440.5,302.0 441.0,301.2 441.6,302.1 442.1,302.1 442.7,300.4 443.2,302.1 443.8,301.3 444.3,300.6 444.9,299.6 445.4,300.9 446.0,301.3 446.5,299.5 447.1,299.8 447.6,299.4 448.2,298.6 448.7,298.4 449.3,297.9 449.8,297.8 450.4,295.1 450.9,294.3 451.5,296.2 452.0,296.4 452.6,293.9 453.1,293.7 453.7,295.6 454.2,293.9 454.8,290.7 455.3,291.8 455.9,291.4 456.4,289.6 457.0,289.1 457.5,288.1 458.1,290.2 458.6,283.1 459.2,284.5 459.7,285.0 460.3,280.6 460.8,280.3 461.4,279.3 461.9,276.0 462.5,272.4 463.0,273.4 463.6,274.7 464.1,278.4 464.7,288.3 465.2,292.2 465.8,294.7 466.3,303.4 466.9,301.8 467.4,299.3 468.0,296.8 468.5,292.9 469.1,292.3 469.6,280.7 470.2,278.9 470.7,273.9 471.3,274.3 471.8,279.7 472.4,280.8 472.9,282.0 473.5,278.3 474.0,284.2 474.6,284.5 475.1,285.7 475.7,285.5 476.2,286.7 476.8,288.1 477.3,291.6 477.9,295.5 478.4,291.0 479.0,291.6 479.5,290.8 480.1,293.7 480.6,295.2 481.2,294.1 481.7,297.9 482.3,297.6 482.8,298.1 483.4,296.5 483.9,296.4 484.5,297.5 485.0,297.7 485.6,298.5 486.1,298.9 486.7,299.6 487.2,299.8 487.8,301.1 488.3,300.8 488.9,301.1 489.4,300.4 490.0,300.7 490.5,300.7 491.1,300.7 491.6,301.8 492.2,301.4 492.7,301.1 493.3,302.2 493.8,301.8 494.4,302.6 494.9,303.4 495.5,302.7 496.0,303.3 496.6,303.0 497.1,303.3 497.7,303.1 498.2,304.3 498.8,302.4 499.3,302.9 499.9,303.8 500.4,304.1 501.0,303.7 501.5,303.5 502.1,303.7 502.6,303.7 503.2,304.9 503.7,304.6 504.3,303.5 504.8,304.0 505.4,304.9 505.9,304.6 506.5,304.9 507.0,304.8 507.6,303.8 508.1,304.5" fill="none" stroke="#9a86d2" stroke-width="0.85"/>
<polyline points="424.5,337.0 425.0,337.3 425.5,336.8 426.0,337.2 426.5,336.9 427.0,336.9 427.5,337.4 428.0,337.0 428.5,337.0 429.0,337.1 429.5,337.2 430.0,337.0 430.5,337.1 431.0,336.8 431.5,336.9 432.0,336.9 432.5,336.7 433.0,336.7 433.5,336.7 434.0,337.0 434.5,337.0 435.0,336.9 435.5,337.0 436.0,336.7 436.5,337.0 437.0,337.0 437.5,337.2 438.0,336.8 438.5,336.9 439.0,336.6 439.5,336.9 440.0,336.6 440.5,336.7 441.0,337.2 441.5,336.6 442.0,337.2 442.5,337.1 443.0,336.9 443.5,337.1 444.0,337.1 444.5,337.2 445.0,337.0 445.5,336.9 446.0,336.9 446.5,336.8 447.0,337.0 447.5,336.8 448.0,337.2 448.5,336.6 449.0,336.8 449.5,336.8 450.0,336.6 450.5,337.4 451.0,336.5 451.5,336.9 452.0,336.9 452.5,337.3 453.0,336.6 453.5,337.2 454.0,336.9 454.5,337.0 455.0,336.9 455.5,337.1 456.0,336.8 456.5,337.0 457.0,337.1 457.5,337.4 458.0,337.4 458.5,336.9 459.0,336.8 459.5,337.5 460.0,336.8 460.5,336.9 461.0,338.1 461.5,334.5 462.0,336.9 462.5,337.0 463.0,337.2 463.5,336.9 464.0,338.1 464.5,336.5 465.0,337.9 465.5,339.9 466.0,342.6 466.5,347.2 467.0,351.6 467.5,347.4 468.0,342.7 468.5,339.8 469.0,336.8 469.5,336.4 470.0,336.4 470.5,336.0 471.0,337.1 471.5,335.4 472.0,337.7 472.5,336.6 473.0,337.3 473.5,337.4 474.0,337.5 474.5,336.9 475.0,336.3 475.5,337.3 476.0,336.6 476.5,337.1 477.0,337.2 477.5,337.0 478.0,336.9 478.5,336.9 479.0,337.2 479.5,337.1 480.0,336.8 480.5,337.1 481.0,336.9 481.5,336.8 482.0,337.2 482.5,337.2 483.0,336.9 483.5,337.0 484.0,337.1 484.5,336.9 485.0,337.0 485.5,337.1 486.0,336.6 486.5,337.1 487.0,337.1 487.5,337.1 488.0,336.7 488.5,337.1 489.0,336.8 489.5,337.1 490.0,337.1 490.5,337.0 491.0,336.8 491.5,336.9 492.0,337.2 492.5,336.8 493.0,337.1 493.5,337.1 494.0,336.9 494.5,337.5 495.0,337.0 495.5,337.4 496.0,336.6 496.5,336.6 497.0,337.2 497.5,337.1 498.0,336.9 498.5,337.0 499.0,336.6 499.5,336.9 500.0,336.8 500.5,337.0 501.0,337.2 501.5,337.0 502.0,337.1 502.5,336.9 503.0,336.9 503.5,337.0 504.0,336.9 504.5,337.3 505.0,336.8 505.5,337.4 506.0,336.8 506.5,337.2 507.0,336.8 507.5,337.3 508.0,337.0 508.5,337.1" fill="none" stroke="#333" stroke-width="0.6"/>
<path d="M465.2,338 L466.8,351.8 L468.6,338" fill="#333" stroke="#222" stroke-width="0.5"/>
<line x1="396" y1="385.3" x2="404" y2="385.3" stroke="#8a7cc8" stroke-width="1.0"/>
<text x="404.8" y="387.8" font-size="6.4" text-anchor="start" fill="#231f20">DUX4-r blasts</text>
<line x1="449" y1="385.3" x2="455" y2="385.3" stroke="#888" stroke-width="1.0"/>
<text x="456.6" y="387.8" font-size="6.6" text-anchor="start" fill="#231f20">All other cell types</text>
<text x="456.8" y="394.9" font-size="6.3" text-anchor="start" fill="#231f20">(colors as in C)</text>
<text x="7" y="416.5" font-size="12" text-anchor="start" fill="#000" font-weight="bold">G</text>
<path d="M22.2,463.5h0.9M19.9,460.5h0.9M19.0,455.0h0.9M40.0,454.5h0.9M31.8,457.5h0.9M27.4,457.9h0.9M21.4,462.0h0.9M19.1,454.8h0.9M17.5,455.2h0.9M26.4,462.8h0.9M25.7,453.4h0.9M22.9,463.9h0.9M18.5,459.4h0.9M25.7,459.9h0.9M24.8,460.3h0.9M28.4,459.8h0.9M37.7,459.0h0.9M20.3,452.8h0.9M38.8,457.9h0.9M21.5,463.4h0.9M30.3,460.7h0.9M37.3,455.4h0.9M25.2,462.5h0.9M20.1,461.2h0.9M19.2,460.3h0.9M33.1,463.4h0.9M36.4,458.0h0.9M21.5,453.8h0.9M29.2,458.1h0.9M18.6,462.8h0.9" stroke="#23934a" stroke-width="0.9" stroke-linecap="round" stroke-opacity="1.0"/>
<path d="M27.6,455.2h0.6M20.2,462.1h0.6M17.1,457.0h0.6M37.7,451.1h0.6M29.7,458.6h0.6M17.9,455.3h0.6M33.2,456.3h0.6M33.7,452.2h0.6M22.5,451.6h0.6M28.6,462.9h0.6M30.6,460.8h0.6M25.8,460.4h0.6M19.3,454.1h0.6M32.5,460.2h0.6M26.7,451.2h0.6M23.1,452.9h0.6M23.5,461.3h0.6M21.6,462.4h0.6" stroke="#b8b8b8" stroke-width="0.6" stroke-linecap="round" stroke-opacity="1.0"/>
<path d="M46.00,430.00 C46.58,428.92 48.33,427.75 50.00,427.50 C51.67,427.25 54.00,427.75 56.00,428.50 C58.00,429.25 60.58,430.58 62.00,432.00 C63.42,433.42 64.50,435.50 64.50,437.00 C64.50,438.50 63.42,440.25 62.00,441.00 C60.58,441.75 58.00,442.00 56.00,441.50 C54.00,441.00 51.58,439.25 50.00,438.00 C48.42,436.75 47.17,435.33 46.50,434.00 C45.83,432.67 45.42,431.08 46.00,430.00Z" fill="#23934a" fill-opacity="1.0"/>
<path d="M68.50,431.00 C68.83,429.17 70.42,427.83 72.00,427.00 C73.58,426.17 76.00,426.00 78.00,426.00 C80.00,426.00 82.43,426.17 84.00,427.00 C85.57,427.83 87.07,429.50 87.40,431.00 C87.73,432.50 87.23,434.50 86.00,436.00 C84.77,437.50 82.00,438.83 80.00,440.00 C78.00,441.17 75.67,443.33 74.00,443.00 C72.33,442.67 70.92,440.00 70.00,438.00 C69.08,436.00 68.17,432.83 68.50,431.00Z" fill="#23934a" fill-opacity="1.0"/>
<path d="M34.00,455.00 C35.00,453.17 39.33,451.50 42.00,450.00 C44.67,448.50 47.33,447.17 50.00,446.00 C52.67,444.83 55.33,444.00 58.00,443.00 C60.67,442.00 63.33,440.67 66.00,440.00 C68.67,439.33 71.67,438.33 74.00,439.00 C76.33,439.67 79.00,441.17 80.00,444.00 C81.00,446.83 80.67,453.00 80.00,456.00 C79.33,459.00 78.33,460.67 76.00,462.00 C73.67,463.33 69.67,463.67 66.00,464.00 C62.33,464.33 57.67,464.17 54.00,464.00 C50.33,463.83 47.00,463.50 44.00,463.00 C41.00,462.50 37.67,462.33 36.00,461.00 C34.33,459.67 33.00,456.83 34.00,455.00Z" fill="#3d9a4f" fill-opacity="0.75"/>
<path d="M40.2,460.2h1.1M69.1,445.4h1.1M56.8,450.2h1.1M64.0,458.7h1.1M72.4,449.8h1.1M54.5,457.0h1.1M44.5,462.6h1.1M77.2,448.5h1.1M44.0,449.6h1.1M54.1,451.4h1.1M44.1,450.5h1.1M72.5,452.9h1.1M63.5,443.6h1.1M67.2,456.8h1.1M77.1,449.6h1.1M72.2,455.8h1.1M48.0,453.7h1.1M74.6,460.2h1.1M57.2,453.7h1.1M70.7,449.4h1.1M42.0,452.7h1.1M66.3,455.9h1.1M51.2,450.0h1.1M57.4,458.5h1.1M58.0,448.8h1.1M36.0,456.6h1.1M79.2,453.8h1.1M57.1,463.6h1.1M69.4,452.5h1.1M73.6,444.8h1.1M57.6,462.8h1.1M60.6,450.5h1.1M46.4,452.7h1.1M70.0,459.5h1.1M74.8,457.5h1.1M71.2,452.0h1.1M59.8,449.7h1.1M36.6,460.8h1.1M60.2,444.0h1.1M57.2,451.1h1.1M50.4,447.7h1.1M58.8,454.6h1.1M62.2,450.5h1.1M42.2,453.6h1.1M73.6,459.0h1.1M70.7,459.4h1.1M45.7,460.0h1.1M65.0,441.1h1.1M68.8,445.2h1.1M39.0,454.6h1.1M41.3,452.2h1.1M66.7,450.4h1.1M48.8,450.8h1.1M39.0,461.5h1.1M57.5,444.2h1.1M61.9,459.4h1.1M40.7,457.0h1.1M41.4,456.6h1.1M65.2,452.6h1.1M70.7,451.9h1.1M44.3,455.2h1.1M52.2,453.4h1.1M48.8,454.8h1.1M48.1,460.5h1.1M48.3,462.5h1.1M68.2,449.4h1.1M74.4,439.9h1.1M60.2,443.3h1.1M66.4,451.7h1.1M51.4,447.7h1.1M43.5,455.9h1.1M38.8,455.6h1.1M47.6,451.5h1.1M49.0,460.8h1.1M65.0,459.9h1.1M76.9,447.6h1.1M74.6,456.2h1.1M56.3,463.6h1.1M44.8,457.1h1.1M75.9,444.3h1.1M68.9,454.0h1.1M72.7,448.2h1.1M49.7,446.3h1.1M73.9,454.1h1.1M40.2,452.8h1.1M37.4,460.7h1.1M70.3,459.7h1.1M49.7,454.4h1.1M70.0,448.5h1.1M60.3,444.6h1.1M75.0,453.1h1.1M76.6,450.4h1.1M46.8,458.7h1.1M72.1,439.3h1.1M64.8,441.3h1.1M39.3,461.1h1.1M79.5,449.5h1.1M45.1,457.6h1.1M51.4,463.3h1.1M75.8,446.4h1.1M45.7,450.9h1.1M38.6,455.3h1.1M79.2,446.4h1.1M61.4,450.2h1.1M43.9,454.4h1.1M79.1,452.6h1.1M65.7,455.5h1.1M45.9,452.5h1.1M79.2,450.2h1.1M64.0,455.1h1.1M77.3,448.8h1.1M48.1,447.2h1.1M48.6,460.2h1.1M75.1,446.6h1.1M49.4,452.6h1.1M60.6,453.9h1.1M37.5,454.9h1.1M47.4,458.8h1.1M56.7,460.6h1.1M41.1,451.5h1.1M70.6,440.9h1.1M77.7,443.3h1.1M71.8,447.0h1.1M76.3,446.3h1.1M75.1,442.5h1.1M48.5,461.6h1.1M71.0,461.7h1.1M72.7,457.7h1.1M65.7,443.5h1.1M66.9,455.7h1.1M59.3,452.5h1.1M73.2,450.3h1.1M52.2,447.5h1.1M63.7,449.4h1.1M72.1,448.9h1.1M52.4,454.3h1.1M58.3,451.5h1.1M63.8,450.0h1.1M65.6,457.3h1.1M45.0,451.4h1.1M56.0,444.6h1.1M53.0,453.0h1.1M75.7,461.9h1.1M46.7,455.2h1.1M57.5,460.9h1.1M41.3,458.2h1.1M74.6,446.8h1.1M65.9,460.2h1.1M51.1,456.5h1.1M67.9,453.9h1.1M73.4,461.4h1.1M78.2,453.3h1.1M44.0,453.2h1.1M68.9,440.3h1.1M65.4,456.9h1.1M50.0,451.9h1.1M41.6,457.2h1.1M71.2,454.7h1.1M46.3,461.8h1.1M78.1,442.5h1.1" stroke="#23934a" stroke-width="1.1" stroke-linecap="round" stroke-opacity="1.0"/>
<path d="M72.4,457.4h1.0M64.8,446.7h1.0M61.9,454.2h1.0M60.7,443.0h1.0M53.8,448.8h1.0M77.7,452.6h1.0M54.5,445.7h1.0M55.4,447.0h1.0M51.5,461.3h1.0M58.2,453.0h1.0M57.5,464.0h1.0M65.0,443.5h1.0M75.1,458.9h1.0M67.8,461.7h1.0M69.1,458.7h1.0M50.3,463.5h1.0M78.2,443.0h1.0M68.7,456.9h1.0M55.2,452.3h1.0M56.5,462.1h1.0M57.0,459.8h1.0M50.3,461.1h1.0M75.4,450.5h1.0M60.1,462.0h1.0M67.3,451.2h1.0M66.2,443.2h1.0M75.8,445.7h1.0M75.9,446.7h1.0M78.0,456.7h1.0M57.2,451.9h1.0M64.0,453.7h1.0M57.5,462.4h1.0M71.7,457.1h1.0M75.8,443.8h1.0M68.3,440.5h1.0M64.0,445.8h1.0M44.4,460.9h1.0M38.9,452.1h1.0M73.3,445.1h1.0M43.7,461.0h1.0" stroke="#f0a020" stroke-width="1.0" stroke-linecap="round" stroke-opacity="1.0"/>
<path d="M78.1,442.5h1.0M64.0,447.6h1.0M74.9,444.8h1.0M78.1,447.0h1.0M61.7,462.3h1.0M65.5,462.1h1.0M66.6,440.2h1.0M74.5,453.7h1.0M73.1,453.6h1.0M77.1,458.3h1.0M78.2,453.2h1.0M66.1,454.3h1.0M45.9,462.9h1.0M48.4,458.5h1.0M77.9,455.3h1.0M40.5,459.6h1.0M64.7,443.6h1.0M57.3,451.9h1.0M52.8,455.5h1.0M76.2,446.7h1.0M51.2,453.6h1.0M47.7,453.9h1.0M59.0,449.8h1.0M65.0,452.2h1.0M50.4,449.8h1.0" stroke="#90c040" stroke-width="1.0" stroke-linecap="round" stroke-opacity="1.0"/>
<path d="M70.5,459.5h1.0M56.3,445.5h1.0M55.6,458.0h1.0M51.2,458.3h1.0M46.5,459.0h1.0M67.6,449.4h1.0M58.8,456.1h1.0M42.9,452.8h1.0M71.0,445.6h1.0M71.0,456.1h1.0M72.8,447.4h1.0M38.3,459.0h1.0M71.0,450.1h1.0M63.2,446.3h1.0M77.8,453.7h1.0M43.2,455.4h1.0M50.6,462.3h1.0M75.8,451.9h1.0M63.7,456.4h1.0M61.7,446.6h1.0M74.5,452.1h1.0M39.4,455.6h1.0M43.7,460.6h1.0M49.3,461.6h1.0M62.5,446.7h1.0M51.4,448.7h1.0M68.3,448.9h1.0M79.1,445.1h1.0M64.8,461.2h1.0M54.6,459.8h1.0M70.6,451.9h1.0M55.7,456.6h1.0M68.3,445.6h1.0M56.4,458.6h1.0M39.7,453.7h1.0" stroke="#8a60c0" stroke-width="1.0" stroke-linecap="round" stroke-opacity="1.0"/>
<path d="M44.9,452.6h1.0M51.0,454.1h1.0M79.8,450.8h1.0M72.5,450.9h1.0M63.4,442.8h1.0M63.2,460.7h1.0M58.1,457.5h1.0M64.9,440.6h1.0M68.9,453.8h1.0M73.8,450.8h1.0M67.1,461.0h1.0M66.8,462.0h1.0M52.2,459.0h1.0M54.5,462.4h1.0M74.4,441.4h1.0M78.4,449.9h1.0M62.8,446.5h1.0M57.3,448.6h1.0M50.1,453.6h1.0M60.9,461.6h1.0M65.4,462.2h1.0M64.9,443.1h1.0M75.6,453.2h1.0M66.8,444.3h1.0M72.3,453.3h1.0M38.1,459.0h1.0M47.5,458.2h1.0M74.1,440.1h1.0M67.0,447.3h1.0M57.2,464.0h1.0M62.1,442.9h1.0M36.0,460.7h1.0M48.4,463.0h1.0M75.2,448.4h1.0M55.2,452.0h1.0M63.6,453.9h1.0M59.7,454.5h1.0M77.3,451.7h1.0M53.8,457.0h1.0M79.0,452.0h1.0M53.1,453.5h1.0M62.9,450.7h1.0M65.2,447.8h1.0M66.5,457.5h1.0M65.1,463.1h1.0M45.6,450.4h1.0M61.3,447.0h1.0M50.7,446.8h1.0M51.0,453.9h1.0M47.8,448.4h1.0M69.5,439.7h1.0M60.2,457.4h1.0M71.0,445.0h1.0M42.6,449.9h1.0M66.1,441.5h1.0" stroke="#ffffff" stroke-width="1.0" stroke-linecap="round" stroke-opacity="1.0"/>
<path d="M76.00,441.00 C77.33,439.25 79.67,438.25 82.00,437.50 C84.33,436.75 87.50,436.25 90.00,436.50 C92.50,436.75 94.55,439.00 97.00,439.00 C99.45,439.00 104.03,435.67 104.70,436.50 C105.37,437.33 101.28,441.42 101.00,444.00 C100.72,446.58 102.77,449.40 103.00,452.00 C103.23,454.60 103.90,457.93 102.40,459.60 C100.90,461.27 96.73,461.27 94.00,462.00 C91.27,462.73 88.45,463.67 86.00,464.00 C83.55,464.33 80.97,465.33 79.30,464.00 C77.63,462.67 76.88,458.67 76.00,456.00 C75.12,453.33 74.00,450.50 74.00,448.00 C74.00,445.50 74.67,442.75 76.00,441.00Z" fill="#8a60c0" fill-opacity="1.0"/>
<path d="M81.1,439.8h1.0M85.9,441.2h1.0M76.0,447.8h1.0M101.5,458.6h1.0M97.0,443.0h1.0M90.1,444.5h1.0M79.2,439.9h1.0M80.4,462.0h1.0M98.9,458.8h1.0M98.0,442.2h1.0M83.3,453.9h1.0M96.0,460.1h1.0M100.4,439.3h1.0M92.2,455.1h1.0M89.2,441.8h1.0M88.2,439.4h1.0M102.0,460.4h1.0M90.4,445.1h1.0M101.3,452.5h1.0M100.5,459.9h1.0M89.3,448.2h1.0M92.0,448.6h1.0M78.8,445.2h1.0M98.4,438.2h1.0M75.4,453.9h1.0M82.4,451.4h1.0M88.1,446.3h1.0M103.9,442.3h1.0M86.4,442.5h1.0M93.0,444.5h1.0M84.7,457.2h1.0M83.6,452.1h1.0M101.1,439.7h1.0M75.8,443.2h1.0M97.0,453.6h1.0M81.1,445.9h1.0M79.3,449.4h1.0M75.3,455.8h1.0M100.9,462.8h1.0M96.0,462.9h1.0M74.5,444.8h1.0M103.0,457.9h1.0M86.3,462.5h1.0M92.6,459.1h1.0M82.8,442.2h1.0M87.3,440.7h1.0M85.4,463.0h1.0M83.9,437.3h1.0M75.3,441.6h1.0M97.5,446.8h1.0M82.7,439.6h1.0M103.5,448.4h1.0M80.2,438.6h1.0M75.7,441.6h1.0M94.3,441.0h1.0M75.2,450.2h1.0M81.5,463.9h1.0M77.7,451.3h1.0M97.2,448.1h1.0M103.6,449.9h1.0M81.3,448.1h1.0M75.1,448.4h1.0M81.5,461.0h1.0M98.9,450.5h1.0M74.9,443.9h1.0M81.3,442.6h1.0M80.9,460.5h1.0M78.3,438.4h1.0M101.8,452.3h1.0M103.7,447.9h1.0M101.0,454.7h1.0M97.7,457.1h1.0M88.8,439.5h1.0M80.3,460.6h1.0M101.0,462.0h1.0M84.1,454.7h1.0M98.0,454.3h1.0M98.4,451.3h1.0M93.6,455.5h1.0M82.0,461.9h1.0M102.7,439.0h1.0M103.1,463.0h1.0M94.1,438.2h1.0M101.0,440.4h1.0M103.1,455.0h1.0M75.8,441.5h1.0M93.1,452.4h1.0M96.4,462.0h1.0M80.6,437.1h1.0M101.7,437.4h1.0M100.3,440.1h1.0M98.3,458.1h1.0M100.3,451.9h1.0M100.4,442.4h1.0M94.1,445.9h1.0M100.8,457.9h1.0M88.1,451.2h1.0M74.8,437.9h1.0M91.8,450.2h1.0M99.9,453.4h1.0M78.2,446.8h1.0M97.0,451.1h1.0M74.3,459.6h1.0M98.8,439.3h1.0M90.3,447.3h1.0M97.6,445.4h1.0M81.0,450.1h1.0M103.0,439.6h1.0M77.4,453.8h1.0M100.6,450.8h1.0" stroke="#ffffff" stroke-width="1.0" stroke-linecap="round" stroke-opacity="1.0"/>
<path d="M92.7,457.0h1.0M97.9,462.4h1.0M96.2,461.9h1.0M74.9,449.6h1.0M102.3,454.5h1.0M101.0,440.1h1.0M88.1,443.7h1.0M90.3,452.5h1.0M74.4,442.9h1.0M82.4,461.7h1.0M97.0,441.3h1.0M97.9,440.7h1.0M92.5,440.4h1.0M74.1,460.5h1.0M80.3,442.8h1.0M103.5,460.6h1.0M82.7,463.0h1.0M90.2,455.3h1.0M80.1,462.4h1.0M94.7,463.1h1.0M100.8,445.1h1.0M84.8,441.5h1.0M78.4,438.8h1.0M83.0,453.3h1.0M74.1,455.3h1.0M84.1,445.4h1.0M98.6,450.0h1.0M83.5,450.0h1.0M95.1,438.5h1.0M103.3,437.6h1.0M96.5,459.8h1.0M74.5,458.3h1.0M85.0,452.6h1.0M74.3,438.3h1.0M79.4,462.8h1.0M79.9,457.4h1.0M101.9,462.4h1.0M84.3,446.6h1.0M89.7,457.9h1.0M77.2,457.2h1.0" stroke="#23934a" stroke-width="1.0" stroke-linecap="round" stroke-opacity="1.0"/>
<path d="M73.8,424.9h1.0M81.6,424.4h1.0M78.9,426.2h1.0M67.4,427.0h1.0M66.9,426.6h1.0M67.7,424.5h1.0M76.2,429.0h1.0M69.0,425.3h1.0M81.1,429.7h1.0M79.9,426.4h1.0M89.4,424.3h1.0M86.6,425.7h1.0M69.5,424.7h1.0M73.4,428.9h1.0M70.3,427.5h1.0M81.3,426.2h1.0M79.1,424.4h1.0M67.4,425.2h1.0M82.3,426.6h1.0M73.5,427.5h1.0M76.9,425.8h1.0M85.1,428.2h1.0" stroke="#f0a020" stroke-width="1.0" stroke-linecap="round" stroke-opacity="1.0"/>
<path d="M30.80,465.00 C31.47,463.75 33.47,462.00 36.00,461.50 C38.53,461.00 42.33,461.58 46.00,462.00 C49.67,462.42 54.00,463.83 58.00,464.00 C62.00,464.17 66.00,463.08 70.00,463.00 C74.00,462.92 78.00,463.67 82.00,463.50 C86.00,463.33 91.00,463.42 94.00,462.00 C97.00,460.58 98.00,456.92 100.00,455.00 C102.00,453.08 103.67,451.28 106.00,450.50 C108.33,449.72 111.67,449.88 114.00,450.30 C116.33,450.72 118.75,451.38 120.00,453.00 C121.25,454.62 121.67,457.67 121.50,460.00 C121.33,462.33 120.92,465.25 119.00,467.00 C117.08,468.75 113.83,470.00 110.00,470.50 C106.17,471.00 100.67,470.00 96.00,470.00 C91.33,470.00 87.00,470.50 82.00,470.50 C77.00,470.50 71.33,470.00 66.00,470.00 C60.67,470.00 54.67,470.33 50.00,470.50 C45.33,470.67 41.00,471.25 38.00,471.00 C35.00,470.75 33.20,470.00 32.00,469.00 C30.80,468.00 30.13,466.25 30.80,465.00Z" fill="#23934a" fill-opacity="1.0"/>
<path d="M69.2,469.6h0.9M93.8,466.0h0.9M82.9,468.9h0.9M77.0,464.8h0.9M41.5,466.7h0.9M81.8,465.8h0.9M68.1,466.2h0.9M87.4,470.6h0.9M62.5,471.0h0.9M43.5,469.7h0.9M89.0,465.1h0.9M79.5,467.9h0.9M93.5,465.5h0.9M70.2,470.2h0.9M75.8,466.2h0.9M44.6,470.6h0.9M66.5,471.0h0.9M47.9,469.7h0.9M85.5,470.4h0.9M41.0,466.6h0.9M42.9,469.3h0.9M59.9,470.7h0.9M61.0,469.4h0.9M88.6,465.7h0.9M71.2,470.7h0.9M69.5,466.5h0.9M55.0,469.5h0.9M50.8,468.2h0.9M71.1,467.9h0.9M47.3,468.6h0.9" stroke="#ffffff" stroke-width="0.9" stroke-linecap="round" stroke-opacity="1.0"/>
<path d="M84.9,476.4h0.9M85.0,473.1h0.9M87.0,472.4h0.9M83.5,474.9h0.9M79.9,474.3h0.9M87.5,476.9h0.9M87.8,479.9h0.9M85.9,470.7h0.9M78.2,478.2h0.9M81.3,471.0h0.9M85.2,482.7h0.9M74.1,473.4h0.9M80.7,470.6h0.9M82.9,482.3h0.9M87.1,478.0h0.9M92.2,472.2h0.9M84.7,475.6h0.9M85.6,471.7h0.9M90.2,471.4h0.9M80.8,473.7h0.9M74.6,471.8h0.9M81.8,472.5h0.9M86.9,482.3h0.9M90.2,477.2h0.9M79.0,476.5h0.9M78.6,474.8h0.9M85.2,475.9h0.9M85.7,470.9h0.9M82.7,476.9h0.9M80.4,476.3h0.9M85.2,478.1h0.9M82.7,472.5h0.9M80.8,470.5h0.9M71.3,471.4h0.9M81.9,476.5h0.9M83.0,476.7h0.9M88.1,476.3h0.9M86.9,483.6h0.9M74.0,473.6h0.9M86.1,480.3h0.9M86.7,478.8h0.9M87.4,472.1h0.9M85.5,483.8h0.9M75.0,475.2h0.9M75.4,471.4h0.9" stroke="#23934a" stroke-width="0.9" stroke-linecap="round" stroke-opacity="1.0"/>
<path d="M78.3,476.7h0.6M95.3,475.6h0.6M80.3,477.0h0.6M68.6,476.1h0.6M84.7,479.5h0.6M65.4,473.6h0.6M65.3,479.7h0.6M87.0,470.5h0.6M97.4,481.6h0.6M85.5,477.4h0.6M67.7,470.2h0.6M81.0,470.7h0.6" stroke="#d07070" stroke-width="0.6" stroke-linecap="round" stroke-opacity="1.0"/>
<circle cx="139.2" cy="436.8" r="2.0" fill="#8a60c0"/>
<text x="144.4" y="438.90000000000003" font-size="6.3" text-anchor="start" fill="#231f20">DUX4-r</text>
<circle cx="139.2" cy="443.4" r="2.0" fill="#e04a3c"/>
<text x="144.4" y="445.52000000000004" font-size="6.3" text-anchor="start" fill="#231f20">BCR::ABL1</text>
<circle cx="139.2" cy="450.0" r="2.0" fill="#f0a020"/>
<text x="144.4" y="452.14000000000004" font-size="6.3" text-anchor="start" fill="#231f20">ETV6::RUNX1</text>
<circle cx="139.2" cy="456.7" r="2.0" fill="#90c040"/>
<text x="144.4" y="458.76000000000005" font-size="6.3" text-anchor="start" fill="#231f20">HeH</text>
<circle cx="139.2" cy="463.3" r="2.0" fill="#23934a"/>
<text x="144.4" y="465.38000000000005" font-size="6.3" text-anchor="start" fill="#231f20">NBM-MNC</text>
<path d="M17.00,522.00 C17.33,520.33 21.17,520.00 24.00,519.00 C26.83,518.00 30.33,516.67 34.00,516.00 C37.67,515.33 42.00,515.17 46.00,515.00 C50.00,514.83 54.00,514.67 58.00,515.00 C62.00,515.33 67.00,515.17 70.00,517.00 C73.00,518.83 75.00,522.83 76.00,526.00 C77.00,529.17 77.67,533.67 76.00,536.00 C74.33,538.33 70.00,539.33 66.00,540.00 C62.00,540.67 56.33,540.33 52.00,540.00 C47.67,539.67 43.67,539.00 40.00,538.00 C36.33,537.00 33.00,535.50 30.00,534.00 C27.00,532.50 24.17,531.00 22.00,529.00 C19.83,527.00 16.67,523.67 17.00,522.00Z" fill="#f2bc9e" fill-opacity="1.0"/>
<path d="M36.00,521.00 C36.67,518.83 40.67,516.50 44.00,515.00 C47.33,513.50 52.00,512.50 56.00,512.00 C60.00,511.50 65.17,511.17 68.00,512.00 C70.83,512.83 72.33,514.67 73.00,517.00 C73.67,519.33 73.50,523.83 72.00,526.00 C70.50,528.17 67.67,529.17 64.00,530.00 C60.33,530.83 54.00,531.33 50.00,531.00 C46.00,530.67 42.33,529.67 40.00,528.00 C37.67,526.33 35.33,523.17 36.00,521.00Z" fill="#f2f0c4" fill-opacity="1.0"/>
<path d="M47.00,497.00 C47.58,495.75 49.17,494.17 51.00,493.50 C52.83,492.83 55.83,492.75 58.00,493.00 C60.17,493.25 62.33,494.00 64.00,495.00 C65.67,496.00 67.18,497.33 68.00,499.00 C68.82,500.67 69.23,503.25 68.90,505.00 C68.57,506.75 67.82,509.00 66.00,509.50 C64.18,510.00 60.50,508.75 58.00,508.00 C55.50,507.25 52.75,506.17 51.00,505.00 C49.25,503.83 48.17,502.33 47.50,501.00 C46.83,499.67 46.42,498.25 47.00,497.00Z" fill="#e49494" fill-opacity="1.0"/>
<path d="M68.90,494.00 C69.65,493.00 72.15,492.25 74.00,492.00 C75.85,491.75 77.97,492.00 80.00,492.50 C82.03,493.00 85.53,493.92 86.20,495.00 C86.87,496.08 85.70,498.25 84.00,499.00 C82.30,499.75 78.42,499.67 76.00,499.50 C73.58,499.33 70.68,498.92 69.50,498.00 C68.32,497.08 68.15,495.00 68.90,494.00Z" fill="#e2a4b0" fill-opacity="1.0"/>
<path d="M79.00,497.00 C80.33,495.08 83.67,494.50 86.00,494.50 C88.33,494.50 90.67,495.75 93.00,497.00 C95.33,498.25 97.50,500.17 100.00,502.00 C102.50,503.83 105.17,506.00 108.00,508.00 C110.83,510.00 114.33,511.83 117.00,514.00 C119.67,516.17 122.17,518.67 124.00,521.00 C125.83,523.33 128.00,525.67 128.00,528.00 C128.00,530.33 126.67,533.33 124.00,535.00 C121.33,536.67 116.00,537.00 112.00,538.00 C108.00,539.00 103.17,539.50 100.00,541.00 C96.83,542.50 95.00,545.17 93.00,547.00 C91.00,548.83 89.50,552.33 88.00,552.00 C86.50,551.67 85.00,548.33 84.00,545.00 C83.00,541.67 82.67,536.50 82.00,532.00 C81.33,527.50 80.67,522.33 80.00,518.00 C79.33,513.67 78.17,509.50 78.00,506.00 C77.83,502.50 77.67,498.92 79.00,497.00Z" fill="#a4bae2" fill-opacity="1.0"/>
<path d="M66.00,506.00 C67.17,503.00 69.67,502.50 72.00,502.00 C74.33,501.50 77.67,502.00 80.00,503.00 C82.33,504.00 84.50,505.17 86.00,508.00 C87.50,510.83 88.50,515.67 89.00,520.00 C89.50,524.33 89.33,529.67 89.00,534.00 C88.67,538.33 88.17,544.00 87.00,546.00 C85.83,548.00 84.17,547.00 82.00,546.00 C79.83,545.00 76.33,542.33 74.00,540.00 C71.67,537.67 69.50,535.33 68.00,532.00 C66.50,528.67 65.33,524.33 65.00,520.00 C64.67,515.67 64.83,509.00 66.00,506.00Z" fill="#a8d8a8" fill-opacity="1.0"/>
<path d="M86.00,512.00 C86.50,510.00 88.50,507.50 90.00,506.00 C91.50,504.50 93.33,503.50 95.00,503.00 C96.67,502.50 98.33,503.58 100.00,503.00 C101.67,502.42 103.67,499.92 105.00,499.50 C106.33,499.08 108.00,499.58 108.00,500.50 C108.00,501.42 105.83,503.25 105.00,505.00 C104.17,506.75 103.50,508.83 103.00,511.00 C102.50,513.17 103.00,516.17 102.00,518.00 C101.00,519.83 98.83,521.33 97.00,522.00 C95.17,522.67 92.67,522.67 91.00,522.00 C89.33,521.33 87.83,519.67 87.00,518.00 C86.17,516.33 85.50,514.00 86.00,512.00Z" fill="#1f4e9a" fill-opacity="1.0"/>
<path d="M106.2,522.9h1.0M105.4,503.8h1.0M98.2,511.3h1.0M96.7,504.9h1.0M88.6,511.8h1.0M89.3,512.0h1.0M84.6,503.9h1.0M101.0,511.3h1.0M96.3,518.2h1.0M92.6,503.3h1.0M102.8,515.0h1.0M99.8,515.7h1.0M107.3,510.0h1.0M102.2,510.1h1.0M97.7,516.5h1.0M91.5,503.9h1.0M95.4,517.8h1.0M98.2,511.8h1.0M99.4,506.0h1.0M88.3,509.1h1.0M103.6,506.3h1.0M86.7,504.2h1.0M84.9,508.1h1.0M97.7,520.1h1.0M91.9,510.1h1.0M90.9,508.7h1.0M102.7,514.1h1.0M90.2,504.4h1.0M102.8,517.6h1.0M103.9,507.2h1.0M97.1,522.2h1.0M98.2,522.8h1.0M88.0,523.5h1.0M85.3,511.2h1.0M84.6,519.8h1.0M100.5,523.4h1.0M103.3,522.9h1.0M96.9,523.7h1.0M102.0,509.6h1.0M107.4,510.3h1.0" stroke="#1f4e9a" stroke-width="1.0" stroke-linecap="round" stroke-opacity="1.0"/>
<path d="M82.3,523.1h1.0M85.4,511.3h1.0M74.9,516.6h1.0M79.1,526.6h1.0M85.8,521.8h1.0M83.7,523.2h1.0M77.0,518.1h1.0M77.3,528.8h1.0M75.6,526.8h1.0M75.9,523.8h1.0M80.1,517.3h1.0M88.3,508.4h1.0M75.7,529.0h1.0M82.9,510.1h1.0M90.6,529.8h1.0M76.5,517.7h1.0M76.9,515.2h1.0M84.7,511.8h1.0M85.9,509.2h1.0M77.5,526.8h1.0M81.1,517.6h1.0M84.3,519.0h1.0M80.9,508.7h1.0M86.4,530.3h1.0M90.4,523.3h1.0M80.4,516.4h1.0M85.8,523.5h1.0M76.5,513.4h1.0M80.5,519.8h1.0M87.7,519.5h1.0M75.2,526.9h1.0M81.6,519.9h1.0M78.3,517.8h1.0M81.0,525.8h1.0M76.4,520.6h1.0M77.6,524.0h1.0M75.3,514.4h1.0M80.2,522.6h1.0M75.5,518.6h1.0M78.1,514.5h1.0M82.4,530.1h1.0M82.4,530.0h1.0M77.4,529.3h1.0M80.6,512.4h1.0M86.8,529.0h1.0M74.8,514.2h1.0M87.1,515.9h1.0M78.6,508.2h1.0M75.3,522.2h1.0M90.5,531.0h1.0M82.8,508.5h1.0M79.9,526.1h1.0M88.1,522.7h1.0M78.4,520.1h1.0M82.4,522.4h1.0M78.9,529.8h1.0M89.1,511.7h1.0M79.4,528.1h1.0M79.2,529.7h1.0M83.0,524.0h1.0M86.0,512.9h1.0M79.3,513.9h1.0M85.7,524.0h1.0M76.8,528.4h1.0M81.5,513.5h1.0M81.7,530.5h1.0M83.7,522.4h1.0M89.5,530.1h1.0M86.9,517.6h1.0M84.2,528.7h1.0M87.4,521.3h1.0M80.3,516.5h1.0M86.5,521.0h1.0M75.0,524.3h1.0M89.3,526.3h1.0M89.1,528.9h1.0M83.3,526.1h1.0M80.8,510.3h1.0M80.4,515.2h1.0M89.7,523.8h1.0M83.4,522.3h1.0M76.7,520.3h1.0M86.0,517.1h1.0M78.7,517.4h1.0M79.9,523.8h1.0M77.0,510.1h1.0M79.7,524.0h1.0M86.9,523.2h1.0M89.7,516.4h1.0M75.2,519.2h1.0" stroke="#0d5a1a" stroke-width="1.0" stroke-linecap="round" stroke-opacity="1.0"/>
<path d="M60.8,528.8h1.0M98.2,535.7h1.0M54.3,509.7h1.0M51.0,509.5h1.0M102.6,505.5h1.0M84.8,509.0h1.0M63.9,518.1h1.0M111.7,525.6h1.0M39.3,511.6h1.0M50.9,536.6h1.0M109.3,533.9h1.0M110.7,531.3h1.0M121.5,533.3h1.0M60.6,535.7h1.0M80.8,531.7h1.0M87.6,518.0h1.0M70.0,518.1h1.0M65.6,504.9h1.0M110.1,533.5h1.0M124.7,529.0h1.0M86.8,531.4h1.0M49.9,528.4h1.0M77.0,507.4h1.0M55.8,522.0h1.0M60.3,519.3h1.0M91.3,516.6h1.0M49.5,520.6h1.0M58.7,509.9h1.0M55.1,515.4h1.0M44.4,527.4h1.0M121.9,516.4h1.0M101.3,539.2h1.0M41.8,506.0h1.0M108.9,535.2h1.0M94.2,506.7h1.0M74.4,536.5h1.0M116.0,533.7h1.0M55.9,535.9h1.0M71.0,530.1h1.0M50.1,540.8h1.0M91.1,530.4h1.0M56.6,525.9h1.0M89.1,524.8h1.0M69.6,530.6h1.0M68.0,512.4h1.0M52.5,528.7h1.0M47.9,509.5h1.0M44.1,527.0h1.0M86.9,522.8h1.0M41.4,518.5h1.0M68.2,503.9h1.0M38.3,541.9h1.0M48.7,512.7h1.0M61.7,525.1h1.0M44.8,519.7h1.0M70.3,535.0h1.0M38.5,514.1h1.0M81.7,540.7h1.0M83.5,519.9h1.0M96.9,512.5h1.0M40.8,521.1h1.0M118.1,531.0h1.0M60.7,528.7h1.0M112.7,510.9h1.0M89.7,514.9h1.0M59.5,512.1h1.0M55.9,514.7h1.0M41.4,516.7h1.0M45.6,531.8h1.0M90.8,500.2h1.0M106.1,508.0h1.0M80.3,523.3h1.0M67.3,512.2h1.0M76.3,505.8h1.0M114.0,504.7h1.0M110.5,509.2h1.0M64.7,516.3h1.0M40.9,505.4h1.0M69.8,518.6h1.0M115.1,541.6h1.0M41.8,522.5h1.0M49.4,533.8h1.0M66.4,537.5h1.0M86.0,505.3h1.0M38.4,510.4h1.0M114.4,506.3h1.0M80.1,515.6h1.0M68.4,533.7h1.0M56.8,530.2h1.0M96.7,539.3h1.0M83.8,538.7h1.0M76.8,524.1h1.0M92.6,535.3h1.0M117.0,504.8h1.0M50.1,522.4h1.0M109.5,522.4h1.0M64.4,540.4h1.0M64.2,503.6h1.0M42.6,501.3h1.0M102.0,504.5h1.0M101.0,536.4h1.0M126.0,534.0h1.0M75.3,526.1h1.0M111.3,530.1h1.0M63.6,532.0h1.0M47.6,513.0h1.0M125.7,519.8h1.0M61.6,533.0h1.0M77.6,500.2h1.0M40.6,510.9h1.0M67.2,539.4h1.0M59.8,535.7h1.0M113.1,517.5h1.0M125.4,532.0h1.0M80.6,511.0h1.0M78.6,537.9h1.0M85.2,508.1h1.0M71.1,520.0h1.0M54.8,524.1h1.0M41.0,534.5h1.0M53.7,504.3h1.0M89.8,512.9h1.0M115.9,520.9h1.0M83.9,535.0h1.0M56.9,531.3h1.0M95.1,518.0h1.0M122.4,500.9h1.0M113.9,506.0h1.0M111.9,506.5h1.0M42.7,521.0h1.0M119.5,510.8h1.0M80.8,525.5h1.0M59.4,522.3h1.0M38.8,518.9h1.0M104.9,514.3h1.0M57.4,502.1h1.0M99.7,517.9h1.0M118.4,531.1h1.0M46.8,538.4h1.0M120.0,534.3h1.0M111.2,528.6h1.0M101.4,528.0h1.0M90.0,510.8h1.0M49.8,530.5h1.0M90.5,502.4h1.0M94.5,525.6h1.0M83.0,532.6h1.0M115.1,516.0h1.0M109.7,521.0h1.0M88.3,517.4h1.0M120.1,518.7h1.0M121.8,514.2h1.0M97.2,538.3h1.0M98.2,515.8h1.0M44.8,520.1h1.0M74.5,534.2h1.0M107.0,541.4h1.0M77.4,517.2h1.0M87.6,531.5h1.0M45.0,509.1h1.0M50.8,513.6h1.0M64.4,540.7h1.0M56.3,539.2h1.0M63.9,508.6h1.0M123.7,503.7h1.0M47.9,505.4h1.0M43.9,516.2h1.0M56.7,506.7h1.0M39.4,529.3h1.0M42.3,509.7h1.0M87.8,537.1h1.0M96.0,529.8h1.0M99.6,533.5h1.0M113.1,506.5h1.0M42.8,526.1h1.0M83.7,521.9h1.0M106.8,507.3h1.0M100.1,517.9h1.0M75.1,510.3h1.0M62.8,524.3h1.0M86.8,538.1h1.0M62.7,530.1h1.0M46.5,527.4h1.0M52.1,536.0h1.0M122.9,510.7h1.0M109.1,509.2h1.0M64.9,504.3h1.0M76.9,504.4h1.0M100.0,524.2h1.0M75.0,529.8h1.0M58.5,513.9h1.0M70.0,500.1h1.0M116.0,503.7h1.0M46.9,533.5h1.0M110.0,518.8h1.0M75.1,505.8h1.0M38.1,521.9h1.0M59.5,506.3h1.0M117.7,500.8h1.0M69.9,531.6h1.0M103.7,504.5h1.0M103.3,523.7h1.0M93.4,539.6h1.0M108.3,525.2h1.0M105.7,520.7h1.0M86.5,534.3h1.0M92.5,515.8h1.0M39.8,533.2h1.0M67.9,518.0h1.0M63.3,523.3h1.0M73.3,535.0h1.0M90.3,523.5h1.0M106.9,518.5h1.0M85.2,531.5h1.0M101.6,531.2h1.0M116.4,523.4h1.0M86.9,507.9h1.0M59.2,518.2h1.0M81.9,537.8h1.0M41.8,514.7h1.0M103.1,519.3h1.0M112.7,506.7h1.0M105.9,518.1h1.0M87.9,502.4h1.0M73.5,533.7h1.0M102.7,523.7h1.0M75.2,501.6h1.0M99.5,518.7h1.0M101.7,525.7h1.0M73.4,536.7h1.0M49.6,540.3h1.0M45.6,540.7h1.0M89.6,518.8h1.0M120.3,521.5h1.0M82.7,502.5h1.0M108.2,526.8h1.0M59.1,504.8h1.0M75.0,539.3h1.0M114.6,519.5h1.0M41.1,534.8h1.0M55.8,530.7h1.0M81.9,540.5h1.0M51.0,533.3h1.0M101.4,500.7h1.0M87.8,512.4h1.0M99.2,540.4h1.0M96.6,520.7h1.0M91.1,510.4h1.0M79.2,504.9h1.0M101.4,502.8h1.0M84.4,507.5h1.0M87.6,502.4h1.0M40.4,526.2h1.0M101.3,537.3h1.0M97.6,541.8h1.0M50.6,526.4h1.0M94.0,507.4h1.0M50.3,510.1h1.0M84.1,533.1h1.0M100.6,524.0h1.0M44.8,530.3h1.0M83.1,507.1h1.0M92.4,510.3h1.0M65.2,519.0h1.0M104.1,504.5h1.0M76.9,509.9h1.0M97.0,534.3h1.0M61.2,530.2h1.0M78.8,509.1h1.0M62.3,522.6h1.0M109.0,525.3h1.0M38.0,532.8h1.0M89.1,517.7h1.0M59.2,518.5h1.0M98.9,511.4h1.0M50.2,536.9h1.0M76.9,503.0h1.0M116.4,504.6h1.0M70.1,526.0h1.0M96.5,537.8h1.0M53.5,523.9h1.0M115.4,519.6h1.0M100.9,519.6h1.0M101.0,540.2h1.0M67.9,531.0h1.0M68.3,537.3h1.0M105.2,536.0h1.0M114.9,525.0h1.0M121.6,506.5h1.0M88.5,503.1h1.0M89.3,528.9h1.0M63.1,534.1h1.0M74.7,508.3h1.0M55.0,524.3h1.0M71.8,502.0h1.0M64.9,540.9h1.0M79.6,528.7h1.0M75.5,503.0h1.0M91.9,508.8h1.0M48.7,525.9h1.0M97.5,500.4h1.0M121.3,500.9h1.0M52.6,513.8h1.0M108.2,531.2h1.0M103.4,518.0h1.0M118.3,505.6h1.0M122.6,502.1h1.0M51.5,531.5h1.0M105.7,528.3h1.0M59.9,536.4h1.0M83.3,508.7h1.0M46.5,541.5h1.0M42.9,509.2h1.0M69.4,537.5h1.0M111.1,535.4h1.0M93.5,500.5h1.0M102.9,508.0h1.0M121.4,540.8h1.0M43.8,530.7h1.0M59.3,504.4h1.0M115.0,518.6h1.0M63.9,523.5h1.0M43.7,517.8h1.0M95.2,536.3h1.0M48.8,537.5h1.0M47.3,508.7h1.0M67.4,507.1h1.0M46.0,527.5h1.0M73.1,508.0h1.0M83.3,505.2h1.0M98.0,540.5h1.0M79.1,517.7h1.0M73.1,515.4h1.0M74.4,507.5h1.0M64.1,529.0h1.0M80.2,502.9h1.0M50.8,535.3h1.0M69.1,534.9h1.0M92.3,526.3h1.0M69.3,524.3h1.0M74.5,521.7h1.0M121.1,504.5h1.0M56.8,537.9h1.0M119.6,534.1h1.0M113.7,504.4h1.0M101.2,505.2h1.0M112.6,516.6h1.0M81.0,521.8h1.0M56.1,523.8h1.0M113.9,518.9h1.0M76.6,515.4h1.0M54.8,512.0h1.0M111.7,540.5h1.0M71.0,512.1h1.0M67.7,536.3h1.0M61.1,507.7h1.0M65.7,503.6h1.0M50.9,509.7h1.0M95.3,539.0h1.0M60.8,512.3h1.0M89.6,501.3h1.0M45.8,524.1h1.0M78.9,514.8h1.0M74.5,500.8h1.0M60.9,507.4h1.0M59.0,502.9h1.0M109.8,500.7h1.0M74.5,507.2h1.0M55.9,531.9h1.0M122.6,540.5h1.0M67.1,522.7h1.0M76.0,503.4h1.0M75.2,525.7h1.0M73.1,533.0h1.0M77.3,512.3h1.0M116.8,523.9h1.0M60.5,538.0h1.0M80.2,525.3h1.0M79.2,536.1h1.0M102.4,518.6h1.0" stroke="#ffffff" stroke-width="1.0" stroke-linecap="round" stroke-opacity="1.0"/>
<path d="M74.5,507.1h0.9M53.3,510.0h0.9M53.8,504.1h0.9M49.7,505.6h0.9M52.1,504.7h0.9M75.0,505.8h0.9M63.7,507.6h0.9M85.5,494.1h0.9M66.7,509.2h0.9M75.6,500.0h0.9M58.2,509.2h0.9M49.4,505.7h0.9M79.7,494.8h0.9M59.1,497.5h0.9M67.7,498.6h0.9M81.7,508.6h0.9M58.6,508.1h0.9M48.8,493.7h0.9M72.6,506.4h0.9M78.8,509.9h0.9M80.4,496.8h0.9M75.7,508.6h0.9M49.7,500.9h0.9M52.2,494.6h0.9M65.2,504.1h0.9M85.0,494.4h0.9M66.2,510.0h0.9M76.6,501.6h0.9M55.7,503.4h0.9M56.4,503.6h0.9M71.9,499.0h0.9M77.8,499.3h0.9M64.8,507.0h0.9M56.0,495.3h0.9M69.0,499.8h0.9M81.0,496.5h0.9M60.9,493.0h0.9M64.0,497.6h0.9M63.9,505.8h0.9M47.5,509.8h0.9M74.5,506.6h0.9M67.6,502.4h0.9M62.4,499.1h0.9M54.8,497.5h0.9M57.8,498.1h0.9" stroke="#ffffff" stroke-width="0.9" stroke-linecap="round" stroke-opacity="1.0"/>
<path d="M29.1,531.2h1.0M36.7,522.0h1.0M44.5,527.9h1.0M44.0,527.2h1.0M33.2,523.1h1.0M54.6,524.5h1.0M53.7,533.7h1.0M63.3,536.9h1.0M31.7,522.7h1.0M56.7,529.5h1.0M30.1,531.6h1.0M63.7,534.7h1.0M30.8,524.0h1.0M20.3,537.5h1.0M31.0,532.5h1.0M46.9,529.9h1.0M46.3,534.5h1.0M50.0,524.1h1.0M25.7,527.5h1.0M66.1,520.9h1.0M54.2,530.6h1.0M28.0,522.1h1.0M54.3,526.7h1.0M40.4,527.6h1.0M25.1,532.1h1.0M49.4,528.7h1.0M37.0,534.2h1.0M61.2,528.9h1.0M24.4,521.0h1.0M27.6,519.6h1.0M52.4,528.9h1.0M30.2,536.2h1.0M51.5,533.8h1.0M60.9,531.6h1.0M46.3,537.7h1.0M26.6,531.8h1.0M64.2,527.6h1.0M60.9,521.6h1.0M40.8,523.4h1.0M39.8,532.0h1.0M27.2,524.8h1.0M62.3,524.0h1.0M26.3,537.9h1.0M47.1,518.4h1.0M48.6,520.9h1.0M28.1,532.8h1.0M52.6,526.5h1.0M45.7,529.2h1.0M42.9,520.0h1.0M58.4,533.4h1.0" stroke="#f2bc9e" stroke-width="1.0" stroke-linecap="round" stroke-opacity="1.0"/>
<path d="M57.6,538.0h1.0M65.9,539.9h1.0M60.1,534.4h1.0M67.2,537.6h1.0M60.6,537.8h1.0M62.0,538.6h1.0M57.8,534.1h1.0M69.7,535.2h1.0M60.0,538.8h1.0M65.6,533.5h1.0M64.4,537.7h1.0M58.5,537.6h1.0M57.9,535.0h1.0M57.3,534.0h1.0M70.9,535.6h1.0M71.1,535.9h1.0M65.2,539.4h1.0M66.4,533.2h1.0M65.0,537.4h1.0M58.8,533.1h1.0M69.3,536.5h1.0M58.9,536.0h1.0M59.3,538.8h1.0M63.6,533.1h1.0M68.4,533.0h1.0M60.3,532.5h1.0M67.3,533.2h1.0M64.0,533.1h1.0M63.3,537.9h1.0M64.1,536.0h1.0" stroke="#8cc8d8" stroke-width="1.0" stroke-linecap="round" stroke-opacity="1.0"/>
<path d="M95.4,538.2h1.0M91.2,540.2h1.0M95.8,538.2h1.0M93.8,547.5h1.0M93.4,552.0h1.0M82.3,542.7h1.0M90.7,541.9h1.0M82.7,541.2h1.0M93.4,550.2h1.0M92.4,541.1h1.0M94.6,545.2h1.0M82.2,544.4h1.0M85.6,539.1h1.0M88.2,543.0h1.0M88.3,551.0h1.0M89.6,543.7h1.0M93.5,551.9h1.0M86.8,551.2h1.0M78.3,540.0h1.0M81.1,551.1h1.0M90.4,548.1h1.0M83.2,544.9h1.0M94.0,539.4h1.0M80.1,538.7h1.0M86.4,549.8h1.0M88.0,543.6h1.0M87.0,540.5h1.0M95.1,543.0h1.0M82.2,542.4h1.0M92.8,542.5h1.0" stroke="#ffffff" stroke-width="1.0" stroke-linecap="round" stroke-opacity="1.0"/>
<path d="M79.4,541.8h0.7M80.8,541.4h0.7M80.6,543.9h0.7M76.7,543.6h0.7M70.3,539.6h0.7M78.7,537.7h0.7M89.3,539.7h0.7M90.5,547.5h0.7" stroke="#c86a6a" stroke-width="0.7" stroke-linecap="round" stroke-opacity="1.0"/>
<text x="17.5" y="502.2" font-size="6.5" text-anchor="start" fill="#231f20">CD8 Naive</text>
<text x="16.3" y="516.5" font-size="6.5" text-anchor="start" fill="#231f20">CD8 Effector</text>
<text x="9.5" y="541" font-size="6.5" text-anchor="start" fill="#231f20">CD8 Memory</text>
<text x="53.8" y="542.2" font-size="6.5" text-anchor="start" fill="#231f20">MAIT</text>
<text x="73.8" y="537.2" font-size="6.5" text-anchor="start" fill="#231f20">CD4 Memory</text>
<text x="102.5" y="528.5" font-size="6.5" text-anchor="start" fill="#231f20">CD4 Naive</text>
<circle cx="139.2" cy="496.6" r="2.0" fill="#1f4e9a"/>
<text x="144.4" y="498.70000000000005" font-size="6.5" text-anchor="start" fill="#231f20">DUX4 CD4 Naive</text>
<circle cx="139.2" cy="503.1" r="2.0" fill="#0d5a1a"/>
<text x="144.4" y="505.16" font-size="6.5" text-anchor="start" fill="#231f20">DUX4 CD4 Memory</text>
<circle cx="139.2" cy="509.5" r="2.0" fill="#a4bae2"/>
<text x="144.4" y="511.62000000000006" font-size="6.5" text-anchor="start" fill="#231f20">CD4 Naive</text>
<circle cx="139.2" cy="516.0" r="2.0" fill="#a8d8a8"/>
<text x="144.4" y="518.08" font-size="6.5" text-anchor="start" fill="#231f20">CD4 Memory</text>
<circle cx="139.2" cy="522.4" r="2.0" fill="#e49494"/>
<text x="144.4" y="524.5400000000001" font-size="6.5" text-anchor="start" fill="#231f20">CD8 Naive</text>
<circle cx="139.2" cy="528.9" r="2.0" fill="#f2f0c4"/>
<text x="144.4" y="531.0" font-size="6.5" text-anchor="start" fill="#231f20">CD8 Effector</text>
<circle cx="139.2" cy="535.4" r="2.0" fill="#f2bc9e"/>
<text x="144.4" y="537.46" font-size="6.5" text-anchor="start" fill="#231f20">CD8 Memory</text>
<circle cx="139.2" cy="541.8" r="2.0" fill="#8cc8d8"/>
<text x="144.4" y="543.9200000000001" font-size="6.5" text-anchor="start" fill="#231f20">MAIT</text>
<circle cx="139.2" cy="548.3" r="2.0" fill="#6a8a68"/>
<text x="144.4" y="550.38" font-size="6.5" text-anchor="start" fill="#231f20">Treg</text>
<text x="217.5" y="416.3" font-size="12" text-anchor="start" fill="#000" font-weight="bold">H</text>
<text x="303.3" y="425.5" font-size="8.7" text-anchor="middle" fill="#231f20">CD4 Dysfunction, Li et al</text>
<path d="M251,429.5 V477.5" stroke="#231f20" stroke-width="0.9"/>
<line x1="249" y1="442.7" x2="251" y2="442.7" stroke="#231f20" stroke-width="0.6"/>
<text x="248" y="444.8" font-size="6.3" text-anchor="end" fill="#231f20">0.4</text>
<line x1="249" y1="457.2" x2="251" y2="457.2" stroke="#231f20" stroke-width="0.6"/>
<text x="248" y="459.3" font-size="6.3" text-anchor="end" fill="#231f20">0.2</text>
<line x1="249" y1="471.3" x2="251" y2="471.3" stroke="#231f20" stroke-width="0.6"/>
<text x="248" y="473.40000000000003" font-size="6.3" text-anchor="end" fill="#231f20">0.0</text>
<polyline points="251.2,447.3 252.1,444.4 253.0,441.0 253.8,440.3 254.5,439.8 255.3,439.6 256.1,438.5 257.0,437.6 257.8,437.1 258.7,436.3 259.5,435.5 260.3,434.7 261.0,434.5 261.8,434.0 262.5,433.2 263.3,433.2 264.0,432.7 264.8,432.8 265.5,432.7 266.2,433.1 266.9,433.9 267.6,434.2 268.4,434.8 269.1,435.0 269.8,435.6 270.5,436.3 271.2,436.7 271.9,436.9 272.6,436.9 273.3,437.7 274.0,437.9 274.7,438.4 275.4,438.7 276.1,439.2 276.8,439.3 277.5,439.7 278.2,440.2 278.9,440.1 279.6,440.6 280.3,441.0 281.0,441.9 281.7,441.8 282.4,442.4 283.1,442.8 283.8,443.0 284.5,443.1 285.2,444.1 285.9,444.2 286.6,444.9 287.4,444.8 288.1,445.5 288.8,446.3 289.5,446.8 290.2,446.5 290.9,446.9 291.6,447.7 292.3,448.3 293.0,448.6 293.7,449.2 294.4,449.3 295.1,450.2 295.8,450.8 296.5,451.0 297.2,451.2 298.0,451.9 298.7,452.7 299.4,452.6 300.1,453.5 300.8,453.8 301.5,454.5 302.2,454.9 302.9,455.5 303.6,456.3 304.3,456.4 305.0,457.1 305.7,457.1 306.4,457.5 307.1,458.1 307.8,457.7 308.6,458.9 309.3,459.3 310.0,459.4 310.7,460.2 311.4,460.4 312.1,460.3 312.8,461.3 313.5,461.6 314.2,461.9 314.9,462.3 315.6,462.8 316.3,462.8 317.0,463.0 317.7,463.4 318.4,463.1 319.1,464.1 319.8,463.7 320.5,464.5 321.2,464.4 321.9,464.8 322.6,465.3 323.4,466.2 324.1,466.2 324.8,466.3 325.5,466.7 326.2,466.8 326.9,467.4 327.6,467.5 328.3,468.1 329.0,467.8 329.7,468.3 330.4,468.5 331.1,468.8 331.8,469.4 332.5,469.5 333.2,469.9 333.9,470.3 334.6,470.6 335.3,470.3 336.0,471.1 336.7,470.9 337.4,471.7 338.2,472.6 338.9,472.4 339.6,472.7 340.3,473.2 341.0,473.5 341.8,472.0 342.5,470.3 343.3,471.2 344.1,471.6 345.1,472.1 346.0,473.1 346.8,471.9 347.5,470.8 348.4,471.5 349.4,472.6 350.3,472.5 351.1,472.5 352.0,472.9 352.9,474.6 353.7,475.6" fill="none" stroke="#4aa84a" stroke-width="0.8"/>
<path d="M251.3,479V486M252.1,479V486M252.9,479V486M254.5,479V486M255.3,479V486M256.9,479V486M257.7,479V486M258.5,479V486M259.3,479V486M260.1,479V486M260.9,479V486M261.7,479V486M272.9,479V486M273.7,479V486M275.3,479V486M279.3,479V486M280.1,479V486M280.9,479V486M282.5,479V486M285.7,479V486M286.5,479V486M288.1,479V486M288.9,479V486M295.3,479V486M296.9,479V486M300.9,479V486M301.7,479V486M304.1,479V486M305.7,479V486M309.7,479V486M311.3,479V486M312.1,479V486M312.9,479V486M313.7,479V486M314.5,479V486M316.1,479V486M317.7,479V486M324.1,479V486M325.7,479V486M326.5,479V486M334.5,479V486M335.3,479V486M339.3,479V486M340.9,479V486M344.9,479V486M346.5,479V486M347.3,479V486" stroke="#1a1a1a" stroke-width="0.65"/>
<path d="M251.3,486V491M252.1,486V491M252.9,486V491M254.5,486V491M255.3,486V491M256.9,486V491M257.7,486V491M258.5,486V491M259.3,486V491M260.1,486V491M260.9,486V491M261.7,486V491M272.9,486V491M273.7,486V491M275.3,486V491M279.3,486V491M280.1,486V491M280.9,486V491M282.5,486V491M285.7,486V491M286.5,486V491M288.1,486V491M288.9,486V491M295.3,486V491M296.9,486V491M300.9,486V491M301.7,486V491M304.1,486V491M305.7,486V491M309.7,486V491M311.3,486V491M312.1,486V491M312.9,486V491M313.7,486V491M314.5,486V491M316.1,486V491M317.7,486V491M324.1,486V491M325.7,486V491M326.5,486V491M334.5,486V491M335.3,486V491M339.3,486V491M340.9,486V491M344.9,486V491M346.5,486V491M347.3,486V491" stroke="#7a7a7a" stroke-width="0.65"/>
<defs><linearGradient id="g31" x1="0" x2="1" y1="0" y2="0"><stop offset="0" stop-color="#c0141c"/><stop offset="0.1" stop-color="#d42020"/><stop offset="0.11" stop-color="#e24a3a"/><stop offset="0.38" stop-color="#ef7a64"/><stop offset="0.4" stop-color="#f6a890"/><stop offset="0.58" stop-color="#fbcfc0"/><stop offset="0.6" stop-color="#fde6de"/><stop offset="0.8" stop-color="#fdf6f4"/><stop offset="0.85" stop-color="#dbe8f4"/><stop offset="0.93" stop-color="#9cc4e4"/><stop offset="0.95" stop-color="#4a90c8"/><stop offset="1" stop-color="#2b7bc0"/></linearGradient></defs>
<rect x="251" y="491" width="103.60000000000002" height="3.6" fill="url(#g31)"/>
<path d="M251,495.5 V528 H354.6" fill="none" stroke="#231f20" stroke-width="0.9"/>
<line x1="249" y1="497.2" x2="251" y2="497.2" stroke="#231f20" stroke-width="0.6"/>
<text x="248" y="499.3" font-size="6.3" text-anchor="end" fill="#231f20">4</text>
<line x1="249" y1="505.0" x2="251" y2="505.0" stroke="#231f20" stroke-width="0.6"/>
<text x="248" y="507.1" font-size="6.3" text-anchor="end" fill="#231f20">2</text>
<line x1="249" y1="513.0" x2="251" y2="513.0" stroke="#231f20" stroke-width="0.6"/>
<text x="248" y="515.1" font-size="6.3" text-anchor="end" fill="#231f20">0</text>
<line x1="249" y1="521.2" x2="251" y2="521.2" stroke="#231f20" stroke-width="0.6"/>
<text x="248" y="523.3000000000001" font-size="6.3" text-anchor="end" fill="#231f20">−2</text>
<path d="M251,509.5 C261,511 281,512.5 302.8,513 C324.6,513.5 344.6,515 354.6,522.5 L354.6,513 L251,513 Z" fill="#d2d2d2"/>
<path d="M251,509.5 C261,511 281,512.5 302.8,513 C324.6,513.5 344.6,515 354.6,522.5" fill="none" stroke="#b0b0b0" stroke-width="0.4"/>
<text x="276.7" y="501.3" font-size="6.7" text-anchor="middle" fill="#d42f4a">DUX4-r Memory</text>
<text x="276.7" y="508.2" font-size="6.7" text-anchor="middle" fill="#d42f4a">CD4 T cells</text>
<text x="334.5" y="501.3" font-size="6.7" text-anchor="middle" fill="#2b6fb0">NBM Memory</text>
<text x="334.5" y="508.2" font-size="6.7" text-anchor="middle" fill="#2b6fb0">CD4 T cells</text>
<line x1="276" y1="528" x2="276" y2="530" stroke="#231f20" stroke-width="0.6"/>
<text x="276" y="540.4" font-size="6.3" text-anchor="middle" fill="#231f20">3000</text>
<line x1="302.3" y1="528" x2="302.3" y2="530" stroke="#231f20" stroke-width="0.6"/>
<text x="302.3" y="540.4" font-size="6.3" text-anchor="middle" fill="#231f20">6000</text>
<line x1="328.5" y1="528" x2="328.5" y2="530" stroke="#231f20" stroke-width="0.6"/>
<text x="328.5" y="540.4" font-size="6.3" text-anchor="middle" fill="#231f20">9000</text>
<text x="303.2" y="551.6" font-size="7.9" text-anchor="middle" fill="#231f20" textLength="71" lengthAdjust="spacingAndGlyphs">Rank in ordered dataset</text>
<text x="231.6" y="454" font-size="7.0" text-anchor="middle" fill="#231f20" transform="rotate(-90 231.6 454)" textLength="51.4" lengthAdjust="spacingAndGlyphs">Enrichment score</text>
<text x="228.8" y="511.4" font-size="7.0" text-anchor="middle" fill="#231f20" transform="rotate(-90 228.8 511.4)" textLength="32.8" lengthAdjust="spacingAndGlyphs">Ranked list</text>
<text x="233.6" y="511" font-size="7.0" text-anchor="middle" fill="#231f20" transform="rotate(-90 233.6 511)" textLength="18.7" lengthAdjust="spacingAndGlyphs">metric</text>
<text x="454.2" y="425.5" font-size="8.7" text-anchor="middle" fill="#231f20">CD4 Dysfunction, Zheng et al</text>
<path d="M404,429.5 V477.5" stroke="#231f20" stroke-width="0.9"/>
<line x1="402" y1="431.0" x2="404" y2="431.0" stroke="#231f20" stroke-width="0.6"/>
<text x="401" y="433.1" font-size="6.3" text-anchor="end" fill="#231f20">0.6</text>
<line x1="402" y1="445.5" x2="404" y2="445.5" stroke="#231f20" stroke-width="0.6"/>
<text x="401" y="447.6" font-size="6.3" text-anchor="end" fill="#231f20">0.4</text>
<line x1="402" y1="460.2" x2="404" y2="460.2" stroke="#231f20" stroke-width="0.6"/>
<text x="401" y="462.3" font-size="6.3" text-anchor="end" fill="#231f20">0.2</text>
<line x1="402" y1="475.0" x2="404" y2="475.0" stroke="#231f20" stroke-width="0.6"/>
<text x="401" y="477.1" font-size="6.3" text-anchor="end" fill="#231f20">0.0</text>
<polyline points="404.1,462.6 404.4,456.8 404.6,452.1 404.9,448.5 405.2,445.2 405.9,442.5 406.6,440.7 407.3,438.5 408.1,437.4 408.9,436.4 409.7,435.4 410.5,434.4 411.3,433.8 412.0,433.7 412.8,433.0 413.5,431.9 414.3,432.5 415.0,431.7 415.8,431.1 416.5,431.8 417.3,432.2 418.0,432.6 418.8,432.8 419.5,433.4 420.2,433.4 421.0,434.6 421.7,434.3 422.5,435.0 423.2,435.5 423.9,435.9 424.6,436.1 425.3,436.7 426.0,436.0 426.7,437.2 427.4,437.5 428.1,437.8 428.8,438.7 429.5,438.4 430.2,439.0 430.9,438.8 431.6,439.8 432.3,439.7 433.0,440.0 433.7,441.4 434.4,441.4 435.1,441.8 435.8,442.3 436.5,442.4 437.2,443.0 437.9,443.8 438.6,443.7 439.4,444.8 440.1,444.8 440.8,445.7 441.5,445.9 442.2,447.1 442.9,447.4 443.6,447.5 444.3,447.7 445.0,448.5 445.7,449.1 446.4,449.4 447.1,450.2 447.8,450.9 448.5,451.1 449.2,451.5 450.0,452.3 450.7,452.5 451.4,453.3 452.1,453.5 452.8,454.5 453.5,454.5 454.2,454.8 454.9,455.6 455.6,455.9 456.3,456.2 457.0,456.9 457.7,457.6 458.4,457.3 459.1,458.3 459.8,458.7 460.6,459.2 461.3,459.9 462.0,459.8 462.7,460.7 463.4,461.0 464.1,461.5 464.8,461.9 465.5,462.3 466.2,462.4 466.9,462.8 467.6,463.4 468.3,463.4 469.0,463.5 469.7,463.6 470.4,463.5 471.1,464.0 471.8,464.5 472.5,463.8 473.2,464.6 473.9,464.8 474.6,464.8 475.3,465.1 476.0,465.4 476.7,465.9 477.4,465.8 478.1,466.1 478.8,466.0 479.5,466.4 480.2,466.4 480.9,466.6 481.7,466.7 482.4,467.2 483.1,467.6 483.8,467.4 484.5,467.7 485.2,468.0 485.9,468.1 486.6,468.5 487.3,468.6 488.0,468.5 488.7,468.8 489.4,469.5 490.1,469.8 490.9,470.2 491.6,470.2 492.3,470.5 493.0,470.3 493.7,471.3 494.4,471.0 495.1,471.8 495.9,471.2 496.7,471.3 497.5,471.5 498.2,471.4 499.0,471.3 499.8,471.7 500.6,471.7 501.4,471.6 502.2,471.9 502.9,472.3 503.7,472.9 504.4,473.4 505.2,474.1 505.9,474.8 506.7,475.1" fill="none" stroke="#4aa84a" stroke-width="0.8"/>
<path d="M404.3,479V486M405.1,479V486M405.9,479V486M406.7,479V486M407.5,479V486M408.3,479V486M409.1,479V486M409.9,479V486M410.7,479V486M411.5,479V486M412.3,479V486M413.1,479V486M413.9,479V486M414.7,479V486M415.5,479V486M416.3,479V486M417.1,479V486M418.7,479V486M419.5,479V486M420.3,479V486M421.1,479V486M424.3,479V486M425.1,479V486M425.9,479V486M426.7,479V486M428.3,479V486M429.1,479V486M431.5,479V486M432.3,479V486M433.1,479V486M433.9,479V486M434.7,479V486M442.7,479V486M444.3,479V486M445.1,479V486M447.5,479V486M449.9,479V486M453.1,479V486M455.5,479V486M457.9,479V486M460.3,479V486M465.1,479V486M466.7,479V486M470.7,479V486M471.5,479V486M476.3,479V486M477.1,479V486M477.9,479V486M479.5,479V486M482.7,479V486M483.5,479V486M485.1,479V486M486.7,479V486M490.7,479V486M493.1,479V486M493.9,479V486M494.7,479V486M503.5,479V486M505.9,479V486" stroke="#1a1a1a" stroke-width="0.65"/>
<path d="M404.3,486V491M405.1,486V491M405.9,486V491M406.7,486V491M407.5,486V491M408.3,486V491M409.1,486V491M409.9,486V491M410.7,486V491M411.5,486V491M412.3,486V491M413.1,486V491M413.9,486V491M414.7,486V491M415.5,486V491M416.3,486V491M417.1,486V491M418.7,486V491M419.5,486V491M420.3,486V491M421.1,486V491M424.3,486V491M425.1,486V491M425.9,486V491M426.7,486V491M428.3,486V491M429.1,486V491M431.5,486V491M432.3,486V491M433.1,486V491M433.9,486V491M434.7,486V491M442.7,486V491M444.3,486V491M445.1,486V491M447.5,486V491M449.9,486V491M453.1,486V491M455.5,486V491M457.9,486V491M460.3,486V491M465.1,486V491M466.7,486V491M470.7,486V491M471.5,486V491M476.3,486V491M477.1,486V491M477.9,486V491M479.5,486V491M482.7,486V491M483.5,486V491M485.1,486V491M486.7,486V491M490.7,486V491M493.1,486V491M493.9,486V491M494.7,486V491M503.5,486V491M505.9,486V491" stroke="#7a7a7a" stroke-width="0.65"/>
<defs><linearGradient id="g32" x1="0" x2="1" y1="0" y2="0"><stop offset="0" stop-color="#c0141c"/><stop offset="0.1" stop-color="#d42020"/><stop offset="0.11" stop-color="#e24a3a"/><stop offset="0.38" stop-color="#ef7a64"/><stop offset="0.4" stop-color="#f6a890"/><stop offset="0.58" stop-color="#fbcfc0"/><stop offset="0.6" stop-color="#fde6de"/><stop offset="0.8" stop-color="#fdf6f4"/><stop offset="0.85" stop-color="#dbe8f4"/><stop offset="0.93" stop-color="#9cc4e4"/><stop offset="0.95" stop-color="#4a90c8"/><stop offset="1" stop-color="#2b7bc0"/></linearGradient></defs>
<rect x="404" y="491" width="103.69999999999999" height="3.6" fill="url(#g32)"/>
<path d="M404,495.5 V528 H507.7" fill="none" stroke="#231f20" stroke-width="0.9"/>
<line x1="402" y1="497.2" x2="404" y2="497.2" stroke="#231f20" stroke-width="0.6"/>
<text x="401" y="499.3" font-size="6.3" text-anchor="end" fill="#231f20">4</text>
<line x1="402" y1="505.0" x2="404" y2="505.0" stroke="#231f20" stroke-width="0.6"/>
<text x="401" y="507.1" font-size="6.3" text-anchor="end" fill="#231f20">2</text>
<line x1="402" y1="513.0" x2="404" y2="513.0" stroke="#231f20" stroke-width="0.6"/>
<text x="401" y="515.1" font-size="6.3" text-anchor="end" fill="#231f20">0</text>
<line x1="402" y1="521.2" x2="404" y2="521.2" stroke="#231f20" stroke-width="0.6"/>
<text x="401" y="523.3000000000001" font-size="6.3" text-anchor="end" fill="#231f20">−2</text>
<path d="M404,509.5 C414,511 434,512.5 455.85,513 C477.7,513.5 497.7,515 507.7,522.5 L507.7,513 L404,513 Z" fill="#d2d2d2"/>
<path d="M404,509.5 C414,511 434,512.5 455.85,513 C477.7,513.5 497.7,515 507.7,522.5" fill="none" stroke="#b0b0b0" stroke-width="0.4"/>
<text x="428.5" y="501.3" font-size="6.7" text-anchor="middle" fill="#d42f4a">DUX4-r Memory</text>
<text x="428.5" y="508.2" font-size="6.7" text-anchor="middle" fill="#d42f4a">CD4 T cells</text>
<text x="485.5" y="501.3" font-size="6.7" text-anchor="middle" fill="#2b6fb0">NBM Memory</text>
<text x="485.5" y="508.2" font-size="6.7" text-anchor="middle" fill="#2b6fb0">CD4 T cells</text>
<line x1="431.4" y1="528" x2="431.4" y2="530" stroke="#231f20" stroke-width="0.6"/>
<text x="431.4" y="540.4" font-size="6.3" text-anchor="middle" fill="#231f20">3000</text>
<line x1="457" y1="528" x2="457" y2="530" stroke="#231f20" stroke-width="0.6"/>
<text x="457" y="540.4" font-size="6.3" text-anchor="middle" fill="#231f20">6000</text>
<line x1="482.5" y1="528" x2="482.5" y2="530" stroke="#231f20" stroke-width="0.6"/>
<text x="482.5" y="540.4" font-size="6.3" text-anchor="middle" fill="#231f20">9000</text>
<text x="455.4" y="551.6" font-size="7.9" text-anchor="middle" fill="#231f20" textLength="71" lengthAdjust="spacingAndGlyphs">Rank in ordered dataset</text>
<text x="384.3" y="453.5" font-size="7.0" text-anchor="middle" fill="#231f20" transform="rotate(-90 384.3 453.5)" textLength="51.4" lengthAdjust="spacingAndGlyphs">Enrichment score</text>
<text x="381.4" y="511.4" font-size="7.0" text-anchor="middle" fill="#231f20" transform="rotate(-90 381.4 511.4)" textLength="32.8" lengthAdjust="spacingAndGlyphs">Ranked list</text>
<text x="386.5" y="511" font-size="7.0" text-anchor="middle" fill="#231f20" transform="rotate(-90 386.5 511)" textLength="18.7" lengthAdjust="spacingAndGlyphs">metric</text>
<rect x="0.5" y="0.5" width="519" height="560" fill="none" stroke="#575757" stroke-width="1.3"/>
</svg></body></html>
